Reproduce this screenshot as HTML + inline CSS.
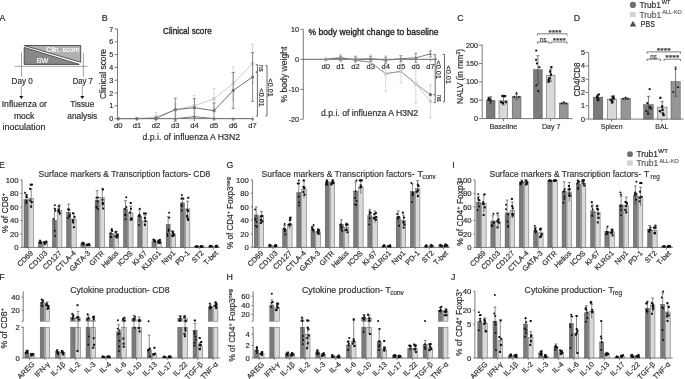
<!DOCTYPE html>
<html><head><meta charset="utf-8"><style>
html,body{margin:0;padding:0;background:#fff;}
svg{display:block;font-family:"Liberation Sans", sans-serif;filter:grayscale(100%);}
</style></head><body>
<svg width="685" height="379" viewBox="0 0 685 379">
<rect width="685" height="379" fill="#fff"/>
<text x="-0.60" y="20.90" font-size="8.8" fill="#2a2a2a" stroke="#2a2a2a" stroke-width="0.2">A</text>
<text x="101.70" y="20.80" font-size="8.8" fill="#2a2a2a" stroke="#2a2a2a" stroke-width="0.2">B</text>
<text x="457.20" y="20.90" font-size="8.8" fill="#2a2a2a" stroke="#2a2a2a" stroke-width="0.2">C</text>
<text x="573.80" y="20.90" font-size="8.8" fill="#2a2a2a" stroke="#2a2a2a" stroke-width="0.2">D</text>
<text x="-0.90" y="168.00" font-size="8.8" fill="#2a2a2a" stroke="#2a2a2a" stroke-width="0.2">E</text>
<text x="226.40" y="168.00" font-size="8.8" fill="#2a2a2a" stroke="#2a2a2a" stroke-width="0.2">G</text>
<text x="452.30" y="168.00" font-size="8.8" fill="#2a2a2a" stroke="#2a2a2a" stroke-width="0.2">I</text>
<text x="-0.80" y="279.70" font-size="8.8" fill="#2a2a2a" stroke="#2a2a2a" stroke-width="0.2">F</text>
<text x="226.50" y="279.70" font-size="8.8" fill="#2a2a2a" stroke="#2a2a2a" stroke-width="0.2">H</text>
<text x="451.00" y="279.80" font-size="8.8" fill="#2a2a2a" stroke="#2a2a2a" stroke-width="0.2">J</text>
<path d="M24.2,45.5 L80.7,45.5 L80.7,62.3 Z" fill="#b0b0b0" stroke="#333" stroke-width="0.8"/>
<path d="M24.2,47.4 L24.2,64.4 L79.3,64.4 Z" fill="#888888" stroke="#333" stroke-width="0.8"/>
<text x="79.80" y="51.80" font-size="6.6" fill="#ffffff" stroke="#ffffff" stroke-width="0.18" text-anchor="end" textLength="33.50" lengthAdjust="spacingAndGlyphs">Clin. score</text>
<text x="36.80" y="63.00" font-size="6.6" fill="#ffffff" stroke="#ffffff" stroke-width="0.18" textLength="11.50" lengthAdjust="spacingAndGlyphs">BW</text>
<line x1="14.80" y1="66.30" x2="87.60" y2="66.30" stroke="#8a8a8a" stroke-width="0.8"/>
<line x1="21.50" y1="52.60" x2="21.50" y2="76.80" stroke="#8a8a8a" stroke-width="0.8"/>
<line x1="83.40" y1="52.60" x2="83.40" y2="76.80" stroke="#8a8a8a" stroke-width="0.8"/>
<text x="11.60" y="83.80" font-size="8.3" fill="#2c2c2c" stroke="#2c2c2c" stroke-width="0.18" textLength="21.20" lengthAdjust="spacingAndGlyphs">Day 0</text>
<text x="72.70" y="83.80" font-size="8.3" fill="#2c2c2c" stroke="#2c2c2c" stroke-width="0.18" textLength="20.10" lengthAdjust="spacingAndGlyphs">Day 7</text>
<line x1="21.30" y1="86.00" x2="21.30" y2="96.50" stroke="#8a8a8a" stroke-width="0.8"/>
<path d="M19.30,95.9 L23.30,95.9 L21.30,99.0 Z" fill="#111"/>
<line x1="82.30" y1="86.00" x2="82.30" y2="96.50" stroke="#8a8a8a" stroke-width="0.8"/>
<path d="M80.30,95.9 L84.30,95.9 L82.30,99.0 Z" fill="#111"/>
<text x="1.70" y="107.40" font-size="8.3" fill="#2c2c2c" stroke="#2c2c2c" stroke-width="0.18" textLength="45.20" lengthAdjust="spacingAndGlyphs">Influenza or</text>
<text x="13.90" y="118.80" font-size="8.3" fill="#2c2c2c" stroke="#2c2c2c" stroke-width="0.18" textLength="20.50" lengthAdjust="spacingAndGlyphs">mock</text>
<text x="2.50" y="130.20" font-size="8.3" fill="#2c2c2c" stroke="#2c2c2c" stroke-width="0.18" textLength="43.00" lengthAdjust="spacingAndGlyphs">inoculation</text>
<text x="82.30" y="107.40" font-size="8.3" fill="#2c2c2c" stroke="#2c2c2c" stroke-width="0.18" text-anchor="middle">Tissue</text>
<text x="82.30" y="118.80" font-size="8.3" fill="#2c2c2c" stroke="#2c2c2c" stroke-width="0.18" text-anchor="middle">analysis</text>
<line x1="117.50" y1="28.80" x2="117.50" y2="118.60" stroke="#5a5a5a" stroke-width="0.8"/>
<line x1="114.50" y1="118.60" x2="117.50" y2="118.60" stroke="#5a5a5a" stroke-width="0.8"/>
<text x="113.30" y="121.10" font-size="7.2" fill="#2c2c2c" stroke="#2c2c2c" stroke-width="0.18" text-anchor="end">0</text>
<line x1="114.50" y1="105.80" x2="117.50" y2="105.80" stroke="#5a5a5a" stroke-width="0.8"/>
<text x="113.30" y="108.30" font-size="7.2" fill="#2c2c2c" stroke="#2c2c2c" stroke-width="0.18" text-anchor="end">1</text>
<line x1="114.50" y1="93.00" x2="117.50" y2="93.00" stroke="#5a5a5a" stroke-width="0.8"/>
<text x="113.30" y="95.50" font-size="7.2" fill="#2c2c2c" stroke="#2c2c2c" stroke-width="0.18" text-anchor="end">2</text>
<line x1="114.50" y1="80.20" x2="117.50" y2="80.20" stroke="#5a5a5a" stroke-width="0.8"/>
<text x="113.30" y="82.70" font-size="7.2" fill="#2c2c2c" stroke="#2c2c2c" stroke-width="0.18" text-anchor="end">3</text>
<line x1="114.50" y1="67.40" x2="117.50" y2="67.40" stroke="#5a5a5a" stroke-width="0.8"/>
<text x="113.30" y="69.90" font-size="7.2" fill="#2c2c2c" stroke="#2c2c2c" stroke-width="0.18" text-anchor="end">4</text>
<line x1="114.50" y1="54.60" x2="117.50" y2="54.60" stroke="#5a5a5a" stroke-width="0.8"/>
<text x="113.30" y="57.10" font-size="7.2" fill="#2c2c2c" stroke="#2c2c2c" stroke-width="0.18" text-anchor="end">5</text>
<line x1="114.50" y1="41.80" x2="117.50" y2="41.80" stroke="#5a5a5a" stroke-width="0.8"/>
<text x="113.30" y="44.30" font-size="7.2" fill="#2c2c2c" stroke="#2c2c2c" stroke-width="0.18" text-anchor="end">6</text>
<line x1="114.50" y1="29.00" x2="117.50" y2="29.00" stroke="#5a5a5a" stroke-width="0.8"/>
<text x="113.30" y="31.50" font-size="7.2" fill="#2c2c2c" stroke="#2c2c2c" stroke-width="0.18" text-anchor="end">7</text>
<text x="187.4" y="33.7" font-size="8.7" fill="#1e1e1e" stroke="#1e1e1e" stroke-width="0.32" text-anchor="middle" textLength="48.6" lengthAdjust="spacingAndGlyphs">Clinical score</text>
<text x="105.80" y="99.00" font-size="8.6" fill="#2c2c2c" stroke="#2c2c2c" stroke-width="0.18" textLength="50.00" lengthAdjust="spacingAndGlyphs" transform="rotate(-90 105.80 99.00)">Clinical score</text>
<line x1="117.50" y1="118.60" x2="253.50" y2="118.60" stroke="#5a5a5a" stroke-width="0.8"/>
<line x1="118.20" y1="118.60" x2="118.20" y2="121.10" stroke="#5a5a5a" stroke-width="0.8"/>
<text x="118.20" y="128.40" font-size="7.6" fill="#2c2c2c" stroke="#2c2c2c" stroke-width="0.18" text-anchor="middle">d0</text>
<line x1="136.90" y1="118.60" x2="136.90" y2="121.10" stroke="#5a5a5a" stroke-width="0.8"/>
<text x="136.90" y="128.40" font-size="7.6" fill="#2c2c2c" stroke="#2c2c2c" stroke-width="0.18" text-anchor="middle">d1</text>
<line x1="156.00" y1="118.60" x2="156.00" y2="121.10" stroke="#5a5a5a" stroke-width="0.8"/>
<text x="156.00" y="128.40" font-size="7.6" fill="#2c2c2c" stroke="#2c2c2c" stroke-width="0.18" text-anchor="middle">d2</text>
<line x1="175.30" y1="118.60" x2="175.30" y2="121.10" stroke="#5a5a5a" stroke-width="0.8"/>
<text x="175.30" y="128.40" font-size="7.6" fill="#2c2c2c" stroke="#2c2c2c" stroke-width="0.18" text-anchor="middle">d3</text>
<line x1="194.40" y1="118.60" x2="194.40" y2="121.10" stroke="#5a5a5a" stroke-width="0.8"/>
<text x="194.40" y="128.40" font-size="7.6" fill="#2c2c2c" stroke="#2c2c2c" stroke-width="0.18" text-anchor="middle">d4</text>
<line x1="214.00" y1="118.60" x2="214.00" y2="121.10" stroke="#5a5a5a" stroke-width="0.8"/>
<text x="214.00" y="128.40" font-size="7.6" fill="#2c2c2c" stroke="#2c2c2c" stroke-width="0.18" text-anchor="middle">d5</text>
<line x1="233.20" y1="118.60" x2="233.20" y2="121.10" stroke="#5a5a5a" stroke-width="0.8"/>
<text x="233.20" y="128.40" font-size="7.6" fill="#2c2c2c" stroke="#2c2c2c" stroke-width="0.18" text-anchor="middle">d6</text>
<line x1="252.60" y1="118.60" x2="252.60" y2="121.10" stroke="#5a5a5a" stroke-width="0.8"/>
<text x="252.60" y="128.40" font-size="7.6" fill="#2c2c2c" stroke="#2c2c2c" stroke-width="0.18" text-anchor="middle">d7</text>
<text x="191.30" y="139.70" font-size="8.8" fill="#2c2c2c" stroke="#2c2c2c" stroke-width="0.18" text-anchor="middle" textLength="97.50" lengthAdjust="spacingAndGlyphs">d.p.i. of influenza A H3N2</text>
<polyline points="118.20,118.60 136.90,118.60 156.00,118.60 175.30,118.60 194.40,116.68 214.00,118.60 233.20,118.60 252.60,118.60" fill="none" stroke="#7a7a7a" stroke-width="1.0"/>
<path d="M118.20,116.90 L119.81,119.79 L116.59,119.79 Z" fill="#7a7a7a"/>
<path d="M136.90,116.90 L138.52,119.79 L135.28,119.79 Z" fill="#7a7a7a"/>
<path d="M156.00,116.90 L157.62,119.79 L154.38,119.79 Z" fill="#7a7a7a"/>
<path d="M175.30,116.90 L176.92,119.79 L173.69,119.79 Z" fill="#7a7a7a"/>
<path d="M194.40,114.98 L196.02,117.87 L192.78,117.87 Z" fill="#7a7a7a"/>
<path d="M214.00,116.90 L215.62,119.79 L212.38,119.79 Z" fill="#7a7a7a"/>
<path d="M233.20,116.90 L234.81,119.79 L231.58,119.79 Z" fill="#7a7a7a"/>
<path d="M252.60,116.90 L254.22,119.79 L250.98,119.79 Z" fill="#7a7a7a"/>
<polyline points="118.20,118.60 136.90,118.60 156.00,117.06 175.30,109.64 194.40,105.80 214.00,98.76 233.20,83.40 252.60,63.56" fill="none" stroke="#cdcdcd" stroke-width="1.0"/>
<line x1="156.00" y1="112.58" x2="156.00" y2="121.54" stroke="#cdcdcd" stroke-width="0.8"/>
<line x1="154.40" y1="112.58" x2="157.60" y2="112.58" stroke="#cdcdcd" stroke-width="0.8"/>
<line x1="154.40" y1="121.54" x2="157.60" y2="121.54" stroke="#cdcdcd" stroke-width="0.8"/>
<line x1="175.30" y1="103.88" x2="175.30" y2="115.40" stroke="#cdcdcd" stroke-width="0.8"/>
<line x1="173.70" y1="103.88" x2="176.90" y2="103.88" stroke="#cdcdcd" stroke-width="0.8"/>
<line x1="173.70" y1="115.40" x2="176.90" y2="115.40" stroke="#cdcdcd" stroke-width="0.8"/>
<line x1="194.40" y1="95.56" x2="194.40" y2="116.04" stroke="#cdcdcd" stroke-width="0.8"/>
<line x1="192.80" y1="95.56" x2="196.00" y2="95.56" stroke="#cdcdcd" stroke-width="0.8"/>
<line x1="192.80" y1="116.04" x2="196.00" y2="116.04" stroke="#cdcdcd" stroke-width="0.8"/>
<line x1="214.00" y1="88.52" x2="214.00" y2="109.00" stroke="#cdcdcd" stroke-width="0.8"/>
<line x1="212.40" y1="88.52" x2="215.60" y2="88.52" stroke="#cdcdcd" stroke-width="0.8"/>
<line x1="212.40" y1="109.00" x2="215.60" y2="109.00" stroke="#cdcdcd" stroke-width="0.8"/>
<line x1="233.20" y1="66.76" x2="233.20" y2="100.04" stroke="#cdcdcd" stroke-width="0.8"/>
<line x1="231.60" y1="66.76" x2="234.80" y2="66.76" stroke="#cdcdcd" stroke-width="0.8"/>
<line x1="231.60" y1="100.04" x2="234.80" y2="100.04" stroke="#cdcdcd" stroke-width="0.8"/>
<line x1="252.60" y1="44.36" x2="252.60" y2="82.76" stroke="#cdcdcd" stroke-width="0.8"/>
<line x1="251.00" y1="44.36" x2="254.20" y2="44.36" stroke="#cdcdcd" stroke-width="0.8"/>
<line x1="251.00" y1="82.76" x2="254.20" y2="82.76" stroke="#cdcdcd" stroke-width="0.8"/>
<rect x="116.60" y="117.00" width="3.20" height="3.20" fill="#cdcdcd"/>
<rect x="135.30" y="117.00" width="3.20" height="3.20" fill="#cdcdcd"/>
<rect x="154.40" y="115.46" width="3.20" height="3.20" fill="#cdcdcd"/>
<rect x="173.70" y="108.04" width="3.20" height="3.20" fill="#cdcdcd"/>
<rect x="192.80" y="104.20" width="3.20" height="3.20" fill="#cdcdcd"/>
<rect x="212.40" y="97.16" width="3.20" height="3.20" fill="#cdcdcd"/>
<rect x="231.60" y="81.80" width="3.20" height="3.20" fill="#cdcdcd"/>
<rect x="251.00" y="61.96" width="3.20" height="3.20" fill="#cdcdcd"/>
<polyline points="118.20,118.60 136.90,118.60 156.00,118.34 175.30,109.64 194.40,107.72 214.00,110.66 233.20,90.44 252.60,77.00" fill="none" stroke="#727272" stroke-width="1.0"/>
<line x1="156.00" y1="117.06" x2="156.00" y2="119.62" stroke="#727272" stroke-width="0.8"/>
<line x1="154.40" y1="117.06" x2="157.60" y2="117.06" stroke="#727272" stroke-width="0.8"/>
<line x1="154.40" y1="119.62" x2="157.60" y2="119.62" stroke="#727272" stroke-width="0.8"/>
<line x1="175.30" y1="98.12" x2="175.30" y2="121.16" stroke="#727272" stroke-width="0.8"/>
<line x1="173.70" y1="98.12" x2="176.90" y2="98.12" stroke="#727272" stroke-width="0.8"/>
<line x1="173.70" y1="121.16" x2="176.90" y2="121.16" stroke="#727272" stroke-width="0.8"/>
<line x1="194.40" y1="98.76" x2="194.40" y2="116.68" stroke="#727272" stroke-width="0.8"/>
<line x1="192.80" y1="98.76" x2="196.00" y2="98.76" stroke="#727272" stroke-width="0.8"/>
<line x1="192.80" y1="116.68" x2="196.00" y2="116.68" stroke="#727272" stroke-width="0.8"/>
<line x1="214.00" y1="102.98" x2="214.00" y2="118.34" stroke="#727272" stroke-width="0.8"/>
<line x1="212.40" y1="102.98" x2="215.60" y2="102.98" stroke="#727272" stroke-width="0.8"/>
<line x1="212.40" y1="118.34" x2="215.60" y2="118.34" stroke="#727272" stroke-width="0.8"/>
<line x1="233.20" y1="72.52" x2="233.20" y2="108.36" stroke="#727272" stroke-width="0.8"/>
<line x1="231.60" y1="72.52" x2="234.80" y2="72.52" stroke="#727272" stroke-width="0.8"/>
<line x1="231.60" y1="108.36" x2="234.80" y2="108.36" stroke="#727272" stroke-width="0.8"/>
<line x1="252.60" y1="52.68" x2="252.60" y2="101.32" stroke="#727272" stroke-width="0.8"/>
<line x1="251.00" y1="52.68" x2="254.20" y2="52.68" stroke="#727272" stroke-width="0.8"/>
<line x1="251.00" y1="101.32" x2="254.20" y2="101.32" stroke="#727272" stroke-width="0.8"/>
<circle cx="118.20" cy="118.60" r="1.60" fill="#727272"/>
<circle cx="136.90" cy="118.60" r="1.60" fill="#727272"/>
<circle cx="156.00" cy="118.34" r="1.60" fill="#727272"/>
<circle cx="175.30" cy="109.64" r="1.60" fill="#727272"/>
<circle cx="194.40" cy="107.72" r="1.60" fill="#727272"/>
<circle cx="214.00" cy="110.66" r="1.60" fill="#727272"/>
<circle cx="233.20" cy="90.44" r="1.60" fill="#727272"/>
<circle cx="252.60" cy="77.00" r="1.60" fill="#727272"/>
<line x1="257.40" y1="64.70" x2="257.40" y2="71.80" stroke="#444" stroke-width="0.8"/>
<line x1="255.80" y1="64.70" x2="257.40" y2="64.70" stroke="#444" stroke-width="0.8"/>
<line x1="255.80" y1="71.80" x2="257.40" y2="71.80" stroke="#444" stroke-width="0.8"/>
<line x1="257.40" y1="72.60" x2="257.40" y2="116.00" stroke="#444" stroke-width="0.8"/>
<line x1="255.80" y1="72.60" x2="257.40" y2="72.60" stroke="#444" stroke-width="0.8"/>
<line x1="255.80" y1="116.00" x2="257.40" y2="116.00" stroke="#444" stroke-width="0.8"/>
<line x1="267.00" y1="65.50" x2="267.00" y2="116.00" stroke="#444" stroke-width="0.8"/>
<line x1="265.40" y1="65.50" x2="267.00" y2="65.50" stroke="#444" stroke-width="0.8"/>
<line x1="265.40" y1="116.00" x2="267.00" y2="116.00" stroke="#444" stroke-width="0.8"/>
<text x="259.00" y="65.00" font-size="7.8" fill="#2c2c2c" stroke="#2c2c2c" stroke-width="0.18" textLength="6.60" lengthAdjust="spacingAndGlyphs" transform="rotate(90 259.00 65.00)">ns</text>
<text x="258.70" y="88.40" font-size="6.8" fill="#2c2c2c" stroke="#2c2c2c" stroke-width="0.18" textLength="18.50" lengthAdjust="spacingAndGlyphs" transform="rotate(90 258.70 88.40)">&lt;0.01</text>
<text x="268.20" y="78.60" font-size="6.8" fill="#2c2c2c" stroke="#2c2c2c" stroke-width="0.18" textLength="18.00" lengthAdjust="spacingAndGlyphs" transform="rotate(90 268.20 78.60)">&lt;0.01</text>
<line x1="303.30" y1="29.30" x2="303.30" y2="119.20" stroke="#5a5a5a" stroke-width="0.8"/>
<line x1="300.30" y1="29.30" x2="303.30" y2="29.30" stroke="#5a5a5a" stroke-width="0.8"/>
<text x="299.10" y="31.80" font-size="7.2" fill="#2c2c2c" stroke="#2c2c2c" stroke-width="0.18" text-anchor="end">10</text>
<line x1="300.30" y1="59.30" x2="303.30" y2="59.30" stroke="#5a5a5a" stroke-width="0.8"/>
<text x="299.10" y="61.80" font-size="7.2" fill="#2c2c2c" stroke="#2c2c2c" stroke-width="0.18" text-anchor="end">0</text>
<line x1="300.30" y1="89.30" x2="303.30" y2="89.30" stroke="#5a5a5a" stroke-width="0.8"/>
<text x="299.10" y="91.80" font-size="7.2" fill="#2c2c2c" stroke="#2c2c2c" stroke-width="0.18" text-anchor="end">-10</text>
<line x1="300.30" y1="119.30" x2="303.30" y2="119.30" stroke="#5a5a5a" stroke-width="0.8"/>
<text x="299.10" y="121.80" font-size="7.2" fill="#2c2c2c" stroke="#2c2c2c" stroke-width="0.18" text-anchor="end">-20</text>
<text x="308.5" y="34.5" font-size="8.7" fill="#1e1e1e" stroke="#1e1e1e" stroke-width="0.32" textLength="130" lengthAdjust="spacingAndGlyphs">% body weight change to baseline</text>
<text x="287.20" y="102.50" font-size="8.6" fill="#2c2c2c" stroke="#2c2c2c" stroke-width="0.18" textLength="56.00" lengthAdjust="spacingAndGlyphs" transform="rotate(-90 287.20 102.50)">% body weight</text>
<line x1="303.30" y1="59.30" x2="437.00" y2="59.30" stroke="#555" stroke-width="0.9"/>
<line x1="325.70" y1="59.30" x2="325.70" y2="61.30" stroke="#5a5a5a" stroke-width="0.8"/>
<text x="325.70" y="69.20" font-size="7.6" fill="#2c2c2c" stroke="#2c2c2c" stroke-width="0.18" text-anchor="middle">d0</text>
<line x1="340.60" y1="59.30" x2="340.60" y2="61.30" stroke="#5a5a5a" stroke-width="0.8"/>
<text x="340.60" y="69.20" font-size="7.6" fill="#2c2c2c" stroke="#2c2c2c" stroke-width="0.18" text-anchor="middle">d1</text>
<line x1="355.50" y1="59.30" x2="355.50" y2="61.30" stroke="#5a5a5a" stroke-width="0.8"/>
<text x="355.50" y="69.20" font-size="7.6" fill="#2c2c2c" stroke="#2c2c2c" stroke-width="0.18" text-anchor="middle">d2</text>
<line x1="370.70" y1="59.30" x2="370.70" y2="61.30" stroke="#5a5a5a" stroke-width="0.8"/>
<text x="370.70" y="69.20" font-size="7.6" fill="#2c2c2c" stroke="#2c2c2c" stroke-width="0.18" text-anchor="middle">d3</text>
<line x1="385.70" y1="59.30" x2="385.70" y2="61.30" stroke="#5a5a5a" stroke-width="0.8"/>
<text x="385.70" y="69.20" font-size="7.6" fill="#2c2c2c" stroke="#2c2c2c" stroke-width="0.18" text-anchor="middle">d4</text>
<line x1="400.90" y1="59.30" x2="400.90" y2="61.30" stroke="#5a5a5a" stroke-width="0.8"/>
<text x="400.90" y="69.20" font-size="7.6" fill="#2c2c2c" stroke="#2c2c2c" stroke-width="0.18" text-anchor="middle">d5</text>
<line x1="415.80" y1="59.30" x2="415.80" y2="61.30" stroke="#5a5a5a" stroke-width="0.8"/>
<text x="415.80" y="69.20" font-size="7.6" fill="#2c2c2c" stroke="#2c2c2c" stroke-width="0.18" text-anchor="middle">d6</text>
<line x1="430.40" y1="59.30" x2="430.40" y2="61.30" stroke="#5a5a5a" stroke-width="0.8"/>
<text x="430.40" y="69.20" font-size="7.6" fill="#2c2c2c" stroke="#2c2c2c" stroke-width="0.18" text-anchor="middle">d7</text>
<text x="369.60" y="115.80" font-size="8.8" fill="#2c2c2c" stroke="#2c2c2c" stroke-width="0.18" text-anchor="middle" textLength="97.20" lengthAdjust="spacingAndGlyphs">d.p.i. of influenza A H3N2</text>
<polyline points="325.70,59.30 340.60,57.50 355.50,60.20 370.70,62.30 385.70,73.70 400.90,71.30 415.80,83.90 430.40,101.30" fill="none" stroke="#cfcfcf" stroke-width="1.0"/>
<line x1="340.60" y1="53.90" x2="340.60" y2="61.10" stroke="#cfcfcf" stroke-width="0.8"/>
<line x1="339.00" y1="53.90" x2="342.20" y2="53.90" stroke="#cfcfcf" stroke-width="0.8"/>
<line x1="339.00" y1="61.10" x2="342.20" y2="61.10" stroke="#cfcfcf" stroke-width="0.8"/>
<line x1="355.50" y1="55.70" x2="355.50" y2="64.70" stroke="#cfcfcf" stroke-width="0.8"/>
<line x1="353.90" y1="55.70" x2="357.10" y2="55.70" stroke="#cfcfcf" stroke-width="0.8"/>
<line x1="353.90" y1="64.70" x2="357.10" y2="64.70" stroke="#cfcfcf" stroke-width="0.8"/>
<line x1="370.70" y1="54.80" x2="370.70" y2="69.80" stroke="#cfcfcf" stroke-width="0.8"/>
<line x1="369.10" y1="54.80" x2="372.30" y2="54.80" stroke="#cfcfcf" stroke-width="0.8"/>
<line x1="369.10" y1="69.80" x2="372.30" y2="69.80" stroke="#cfcfcf" stroke-width="0.8"/>
<line x1="385.70" y1="55.70" x2="385.70" y2="91.70" stroke="#cfcfcf" stroke-width="0.8"/>
<line x1="384.10" y1="55.70" x2="387.30" y2="55.70" stroke="#cfcfcf" stroke-width="0.8"/>
<line x1="384.10" y1="91.70" x2="387.30" y2="91.70" stroke="#cfcfcf" stroke-width="0.8"/>
<line x1="400.90" y1="59.30" x2="400.90" y2="83.30" stroke="#cfcfcf" stroke-width="0.8"/>
<line x1="399.30" y1="59.30" x2="402.50" y2="59.30" stroke="#cfcfcf" stroke-width="0.8"/>
<line x1="399.30" y1="83.30" x2="402.50" y2="83.30" stroke="#cfcfcf" stroke-width="0.8"/>
<line x1="415.80" y1="64.40" x2="415.80" y2="103.40" stroke="#cfcfcf" stroke-width="0.8"/>
<line x1="414.20" y1="64.40" x2="417.40" y2="64.40" stroke="#cfcfcf" stroke-width="0.8"/>
<line x1="414.20" y1="103.40" x2="417.40" y2="103.40" stroke="#cfcfcf" stroke-width="0.8"/>
<line x1="430.40" y1="84.80" x2="430.40" y2="117.80" stroke="#cfcfcf" stroke-width="0.8"/>
<line x1="428.80" y1="84.80" x2="432.00" y2="84.80" stroke="#cfcfcf" stroke-width="0.8"/>
<line x1="428.80" y1="117.80" x2="432.00" y2="117.80" stroke="#cfcfcf" stroke-width="0.8"/>
<rect x="324.10" y="57.70" width="3.20" height="3.20" fill="#cfcfcf"/>
<rect x="339.00" y="55.90" width="3.20" height="3.20" fill="#cfcfcf"/>
<rect x="353.90" y="58.60" width="3.20" height="3.20" fill="#cfcfcf"/>
<rect x="369.10" y="60.70" width="3.20" height="3.20" fill="#cfcfcf"/>
<rect x="384.10" y="72.10" width="3.20" height="3.20" fill="#cfcfcf"/>
<rect x="399.30" y="69.70" width="3.20" height="3.20" fill="#cfcfcf"/>
<rect x="414.20" y="82.30" width="3.20" height="3.20" fill="#cfcfcf"/>
<rect x="428.80" y="99.70" width="3.20" height="3.20" fill="#cfcfcf"/>
<polyline points="325.70,59.30 340.60,57.50 355.50,60.20 370.70,62.30 385.70,73.70 400.90,71.30 415.80,83.90 430.40,94.70" fill="none" stroke="#8a8a8a" stroke-width="0.9"/>
<rect x="324.10" y="57.70" width="3.20" height="3.20" fill="#cfcfcf"/>
<rect x="339.00" y="55.90" width="3.20" height="3.20" fill="#cfcfcf"/>
<rect x="353.90" y="58.60" width="3.20" height="3.20" fill="#cfcfcf"/>
<rect x="369.10" y="60.70" width="3.20" height="3.20" fill="#cfcfcf"/>
<rect x="384.10" y="72.10" width="3.20" height="3.20" fill="#cfcfcf"/>
<rect x="399.30" y="69.70" width="3.20" height="3.20" fill="#cfcfcf"/>
<rect x="414.20" y="82.30" width="3.20" height="3.20" fill="#cfcfcf"/>
<circle cx="430.40" cy="94.70" r="1.60" fill="#6a6a6a"/>
<polyline points="325.70,59.30 340.60,58.40 355.50,59.30 370.70,58.70 385.70,60.20 400.90,58.70 415.80,57.80 430.40,53.90" fill="none" stroke="#7a7a7a" stroke-width="1.0"/>
<line x1="340.60" y1="56.00" x2="340.60" y2="60.80" stroke="#7a7a7a" stroke-width="0.8"/>
<line x1="339.00" y1="56.00" x2="342.20" y2="56.00" stroke="#7a7a7a" stroke-width="0.8"/>
<line x1="339.00" y1="60.80" x2="342.20" y2="60.80" stroke="#7a7a7a" stroke-width="0.8"/>
<line x1="355.50" y1="56.90" x2="355.50" y2="61.70" stroke="#7a7a7a" stroke-width="0.8"/>
<line x1="353.90" y1="56.90" x2="357.10" y2="56.90" stroke="#7a7a7a" stroke-width="0.8"/>
<line x1="353.90" y1="61.70" x2="357.10" y2="61.70" stroke="#7a7a7a" stroke-width="0.8"/>
<line x1="370.70" y1="56.30" x2="370.70" y2="61.10" stroke="#7a7a7a" stroke-width="0.8"/>
<line x1="369.10" y1="56.30" x2="372.30" y2="56.30" stroke="#7a7a7a" stroke-width="0.8"/>
<line x1="369.10" y1="61.10" x2="372.30" y2="61.10" stroke="#7a7a7a" stroke-width="0.8"/>
<line x1="385.70" y1="57.20" x2="385.70" y2="63.20" stroke="#7a7a7a" stroke-width="0.8"/>
<line x1="384.10" y1="57.20" x2="387.30" y2="57.20" stroke="#7a7a7a" stroke-width="0.8"/>
<line x1="384.10" y1="63.20" x2="387.30" y2="63.20" stroke="#7a7a7a" stroke-width="0.8"/>
<line x1="400.90" y1="55.70" x2="400.90" y2="61.70" stroke="#7a7a7a" stroke-width="0.8"/>
<line x1="399.30" y1="55.70" x2="402.50" y2="55.70" stroke="#7a7a7a" stroke-width="0.8"/>
<line x1="399.30" y1="61.70" x2="402.50" y2="61.70" stroke="#7a7a7a" stroke-width="0.8"/>
<line x1="415.80" y1="53.30" x2="415.80" y2="62.30" stroke="#7a7a7a" stroke-width="0.8"/>
<line x1="414.20" y1="53.30" x2="417.40" y2="53.30" stroke="#7a7a7a" stroke-width="0.8"/>
<line x1="414.20" y1="62.30" x2="417.40" y2="62.30" stroke="#7a7a7a" stroke-width="0.8"/>
<line x1="430.40" y1="50.90" x2="430.40" y2="56.90" stroke="#7a7a7a" stroke-width="0.8"/>
<line x1="428.80" y1="50.90" x2="432.00" y2="50.90" stroke="#7a7a7a" stroke-width="0.8"/>
<line x1="428.80" y1="56.90" x2="432.00" y2="56.90" stroke="#7a7a7a" stroke-width="0.8"/>
<path d="M325.70,57.60 L327.31,60.49 L324.08,60.49 Z" fill="#7a7a7a"/>
<path d="M340.60,56.70 L342.22,59.59 L338.99,59.59 Z" fill="#7a7a7a"/>
<path d="M355.50,57.60 L357.12,60.49 L353.88,60.49 Z" fill="#7a7a7a"/>
<path d="M370.70,57.00 L372.31,59.89 L369.08,59.89 Z" fill="#7a7a7a"/>
<path d="M385.70,58.50 L387.31,61.39 L384.08,61.39 Z" fill="#7a7a7a"/>
<path d="M400.90,57.00 L402.51,59.89 L399.28,59.89 Z" fill="#7a7a7a"/>
<path d="M415.80,56.10 L417.42,58.99 L414.19,58.99 Z" fill="#7a7a7a"/>
<path d="M430.40,52.20 L432.01,55.09 L428.78,55.09 Z" fill="#7a7a7a"/>
<line x1="435.20" y1="54.40" x2="435.20" y2="102.50" stroke="#444" stroke-width="0.8"/>
<line x1="433.50" y1="54.40" x2="435.20" y2="54.40" stroke="#444" stroke-width="0.8"/>
<line x1="433.50" y1="94.70" x2="435.20" y2="94.70" stroke="#444" stroke-width="0.8"/>
<line x1="433.50" y1="102.50" x2="435.20" y2="102.50" stroke="#444" stroke-width="0.8"/>
<text x="436.40" y="60.40" font-size="7.2" fill="#2c2c2c" stroke="#2c2c2c" stroke-width="0.18" textLength="18.60" lengthAdjust="spacingAndGlyphs" transform="rotate(90 436.40 60.40)">&lt;0.01</text>
<text x="436.60" y="95.00" font-size="7.8" fill="#2c2c2c" stroke="#2c2c2c" stroke-width="0.18" textLength="6.80" lengthAdjust="spacingAndGlyphs" transform="rotate(90 436.60 95.00)">ns</text>
<line x1="444.50" y1="54.40" x2="444.50" y2="101.80" stroke="#444" stroke-width="0.8"/>
<line x1="442.80" y1="54.40" x2="444.50" y2="54.40" stroke="#444" stroke-width="0.8"/>
<line x1="442.80" y1="101.80" x2="444.50" y2="101.80" stroke="#444" stroke-width="0.8"/>
<text x="446.10" y="65.40" font-size="7.2" fill="#2c2c2c" stroke="#2c2c2c" stroke-width="0.18" textLength="18.60" lengthAdjust="spacingAndGlyphs" transform="rotate(90 446.10 65.40)">&lt;0.01</text>
<circle cx="632.90" cy="4.90" r="3.10" fill="#6e6e6e"/>
<text x="639.40" y="7.90" font-size="8.5" fill="#2c2c2c" stroke="#2c2c2c" stroke-width="0.18" textLength="21.50" lengthAdjust="spacingAndGlyphs">Trub1</text>
<text x="661.80" y="4.40" font-size="6.0" fill="#2c2c2c" stroke="#2c2c2c" stroke-width="0.18" textLength="8.70" lengthAdjust="spacingAndGlyphs">WT</text>
<rect x="629.80" y="11.80" width="5.90" height="5.30" fill="#d4d4d4"/>
<text x="639.40" y="17.50" font-size="8.5" fill="#5a5a5a" stroke="#5a5a5a" stroke-width="0.18" textLength="21.90" lengthAdjust="spacingAndGlyphs">Trub1</text>
<text x="662.20" y="14.40" font-size="6.0" fill="#5a5a5a" stroke="#5a5a5a" stroke-width="0.18" textLength="19.70" lengthAdjust="spacingAndGlyphs">ALL-KO</text>
<path d="M633.0,20.8 L636.2,26.4 L629.8,26.4 Z" fill="#4a4a4a"/>
<text x="640.80" y="26.70" font-size="8.5" fill="#2c2c2c" stroke="#2c2c2c" stroke-width="0.18" textLength="14.00" lengthAdjust="spacingAndGlyphs">PBS</text>
<line x1="482.20" y1="44.70" x2="482.20" y2="118.60" stroke="#5a5a5a" stroke-width="0.8"/>
<line x1="478.80" y1="118.60" x2="482.20" y2="118.60" stroke="#5a5a5a" stroke-width="0.8"/>
<text x="478.00" y="121.10" font-size="7.2" fill="#2c2c2c" stroke="#2c2c2c" stroke-width="0.18" text-anchor="end">0</text>
<line x1="478.80" y1="100.22" x2="482.20" y2="100.22" stroke="#5a5a5a" stroke-width="0.8"/>
<text x="478.00" y="102.72" font-size="7.2" fill="#2c2c2c" stroke="#2c2c2c" stroke-width="0.18" text-anchor="end">50</text>
<line x1="478.80" y1="81.85" x2="482.20" y2="81.85" stroke="#5a5a5a" stroke-width="0.8"/>
<text x="478.00" y="84.35" font-size="7.2" fill="#2c2c2c" stroke="#2c2c2c" stroke-width="0.18" text-anchor="end">100</text>
<line x1="478.80" y1="63.47" x2="482.20" y2="63.47" stroke="#5a5a5a" stroke-width="0.8"/>
<text x="478.00" y="65.97" font-size="7.2" fill="#2c2c2c" stroke="#2c2c2c" stroke-width="0.18" text-anchor="end">150</text>
<line x1="478.80" y1="45.10" x2="482.20" y2="45.10" stroke="#5a5a5a" stroke-width="0.8"/>
<text x="478.00" y="47.60" font-size="7.2" fill="#2c2c2c" stroke="#2c2c2c" stroke-width="0.18" text-anchor="end">200</text>
<line x1="482.20" y1="118.60" x2="572.50" y2="118.60" stroke="#5a5a5a" stroke-width="0.8"/>
<line x1="503.50" y1="118.60" x2="503.50" y2="121.20" stroke="#5a5a5a" stroke-width="0.8"/>
<line x1="550.50" y1="118.60" x2="550.50" y2="121.20" stroke="#5a5a5a" stroke-width="0.8"/>
<text x="503.40" y="128.90" font-size="7.6" fill="#2c2c2c" stroke="#2c2c2c" stroke-width="0.18" text-anchor="middle" textLength="28.00" lengthAdjust="spacingAndGlyphs">Baseline</text>
<text x="551.20" y="128.90" font-size="7.6" fill="#2c2c2c" stroke="#2c2c2c" stroke-width="0.18" text-anchor="middle" textLength="18.50" lengthAdjust="spacingAndGlyphs">Day 7</text>
<text x="462.60" y="104.00" font-size="8.4" fill="#2c2c2c" stroke="#2c2c2c" stroke-width="0.18" transform="rotate(-90 462.60 104.00)">NALV (in mm<tspan font-size="5.6" dy="-3">3</tspan><tspan dy="3">)</tspan></text>
<rect x="486.40" y="100.22" width="8.60" height="18.38" fill="#7b7b7b" stroke="#4d4d4d" stroke-width="0.5"/>
<line x1="490.70" y1="96.72" x2="490.70" y2="103.72" stroke="#444" stroke-width="0.7"/>
<line x1="489.20" y1="96.72" x2="492.20" y2="96.72" stroke="#444" stroke-width="0.7"/>
<line x1="489.20" y1="103.72" x2="492.20" y2="103.72" stroke="#444" stroke-width="0.7"/>
<circle cx="488.61" cy="99.60" r="1.10" fill="#111"/>
<circle cx="490.74" cy="101.48" r="1.10" fill="#111"/>
<circle cx="488.51" cy="99.67" r="1.10" fill="#111"/>
<circle cx="490.39" cy="99.45" r="1.10" fill="#111"/>
<circle cx="488.67" cy="97.95" r="1.10" fill="#111"/>
<circle cx="488.76" cy="99.70" r="1.10" fill="#111"/>
<rect x="499.00" y="100.78" width="8.80" height="17.82" fill="#d9d9d9" stroke="#4d4d4d" stroke-width="0.5"/>
<line x1="503.40" y1="96.78" x2="503.40" y2="104.78" stroke="#444" stroke-width="0.7"/>
<line x1="501.90" y1="96.78" x2="504.90" y2="96.78" stroke="#444" stroke-width="0.7"/>
<line x1="501.90" y1="104.78" x2="504.90" y2="104.78" stroke="#444" stroke-width="0.7"/>
<rect x="502.67" y="95.01" width="2.20" height="2.20" fill="#111"/>
<rect x="501.80" y="102.07" width="2.20" height="2.20" fill="#111"/>
<rect x="504.61" y="101.09" width="2.20" height="2.20" fill="#111"/>
<rect x="500.11" y="101.07" width="2.20" height="2.20" fill="#111"/>
<rect x="504.03" y="94.94" width="2.20" height="2.20" fill="#111"/>
<rect x="501.28" y="94.79" width="2.20" height="2.20" fill="#111"/>
<rect x="512.20" y="96.55" width="8.80" height="22.05" fill="#969696" stroke="#4d4d4d" stroke-width="0.5"/>
<line x1="516.60" y1="94.05" x2="516.60" y2="99.05" stroke="#444" stroke-width="0.7"/>
<line x1="515.10" y1="94.05" x2="518.10" y2="94.05" stroke="#444" stroke-width="0.7"/>
<line x1="515.10" y1="99.05" x2="518.10" y2="99.05" stroke="#444" stroke-width="0.7"/>
<path d="M514.20,95.60 L515.45,97.84 L512.95,97.84 Z" fill="#111"/>
<path d="M516.60,91.56 L517.85,93.80 L515.35,93.80 Z" fill="#111"/>
<path d="M519.00,95.60 L520.25,97.84 L517.75,97.84 Z" fill="#111"/>
<rect x="533.60" y="69.72" width="8.60" height="48.88" fill="#7b7b7b" stroke="#4d4d4d" stroke-width="0.5"/>
<line x1="537.90" y1="55.72" x2="537.90" y2="83.72" stroke="#444" stroke-width="0.7"/>
<line x1="536.40" y1="55.72" x2="539.40" y2="55.72" stroke="#444" stroke-width="0.7"/>
<line x1="536.40" y1="83.72" x2="539.40" y2="83.72" stroke="#444" stroke-width="0.7"/>
<circle cx="536.22" cy="50.61" r="1.10" fill="#111"/>
<circle cx="536.09" cy="59.80" r="1.10" fill="#111"/>
<circle cx="536.99" cy="63.47" r="1.10" fill="#111"/>
<circle cx="539.40" cy="67.15" r="1.10" fill="#111"/>
<circle cx="536.39" cy="85.52" r="1.10" fill="#111"/>
<circle cx="538.29" cy="91.04" r="1.10" fill="#111"/>
<rect x="546.40" y="75.23" width="8.60" height="43.37" fill="#d9d9d9" stroke="#4d4d4d" stroke-width="0.5"/>
<line x1="550.70" y1="69.23" x2="550.70" y2="81.23" stroke="#444" stroke-width="0.7"/>
<line x1="549.20" y1="69.23" x2="552.20" y2="69.23" stroke="#444" stroke-width="0.7"/>
<line x1="549.20" y1="81.23" x2="552.20" y2="81.23" stroke="#444" stroke-width="0.7"/>
<rect x="550.26" y="66.05" width="2.20" height="2.20" fill="#111"/>
<rect x="549.00" y="70.46" width="2.20" height="2.20" fill="#111"/>
<rect x="549.83" y="73.40" width="2.20" height="2.20" fill="#111"/>
<rect x="547.53" y="78.91" width="2.20" height="2.20" fill="#111"/>
<rect x="547.52" y="80.75" width="2.20" height="2.20" fill="#111"/>
<rect x="548.21" y="77.08" width="2.20" height="2.20" fill="#111"/>
<rect x="559.40" y="103.16" width="8.70" height="15.44" fill="#969696" stroke="#4d4d4d" stroke-width="0.5"/>
<line x1="563.75" y1="102.56" x2="563.75" y2="103.76" stroke="#444" stroke-width="0.7"/>
<line x1="562.25" y1="102.56" x2="565.25" y2="102.56" stroke="#444" stroke-width="0.7"/>
<line x1="562.25" y1="103.76" x2="565.25" y2="103.76" stroke="#444" stroke-width="0.7"/>
<path d="M561.35,102.03 L562.60,104.27 L560.10,104.27 Z" fill="#111"/>
<path d="M563.75,100.74 L565.00,102.99 L562.50,102.99 Z" fill="#111"/>
<path d="M566.15,102.03 L567.40,104.27 L564.90,104.27 Z" fill="#111"/>
<line x1="537.40" y1="33.80" x2="567.00" y2="33.80" stroke="#444" stroke-width="0.7"/>
<line x1="537.40" y1="33.80" x2="537.40" y2="35.60" stroke="#444" stroke-width="0.7"/>
<line x1="567.00" y1="33.80" x2="567.00" y2="35.60" stroke="#444" stroke-width="0.7"/>
<text x="555.00" y="34.60" font-size="6.6" fill="#2c2c2c" stroke="#2c2c2c" stroke-width="0.18" text-anchor="middle" textLength="13.00" lengthAdjust="spacingAndGlyphs">****</text>
<line x1="537.40" y1="42.00" x2="549.20" y2="42.00" stroke="#444" stroke-width="0.7"/>
<line x1="537.40" y1="42.00" x2="537.40" y2="43.80" stroke="#444" stroke-width="0.7"/>
<line x1="549.20" y1="42.00" x2="549.20" y2="43.80" stroke="#444" stroke-width="0.7"/>
<line x1="551.20" y1="42.00" x2="567.00" y2="42.00" stroke="#444" stroke-width="0.7"/>
<line x1="551.20" y1="42.00" x2="551.20" y2="43.80" stroke="#444" stroke-width="0.7"/>
<line x1="567.00" y1="42.00" x2="567.00" y2="43.80" stroke="#444" stroke-width="0.7"/>
<text x="543.30" y="41.60" font-size="6.8" fill="#2c2c2c" stroke="#2c2c2c" stroke-width="0.18" text-anchor="middle" textLength="6.50" lengthAdjust="spacingAndGlyphs">ns</text>
<text x="559.20" y="42.80" font-size="6.6" fill="#2c2c2c" stroke="#2c2c2c" stroke-width="0.18" text-anchor="middle" textLength="13.00" lengthAdjust="spacingAndGlyphs">****</text>
<line x1="588.70" y1="52.60" x2="588.70" y2="119.10" stroke="#5a5a5a" stroke-width="0.8"/>
<line x1="585.50" y1="119.10" x2="588.70" y2="119.10" stroke="#5a5a5a" stroke-width="0.8"/>
<text x="584.90" y="121.60" font-size="7.2" fill="#2c2c2c" stroke="#2c2c2c" stroke-width="0.18" text-anchor="end">0</text>
<line x1="585.50" y1="105.80" x2="588.70" y2="105.80" stroke="#5a5a5a" stroke-width="0.8"/>
<text x="584.90" y="108.30" font-size="7.2" fill="#2c2c2c" stroke="#2c2c2c" stroke-width="0.18" text-anchor="end">1</text>
<line x1="585.50" y1="92.50" x2="588.70" y2="92.50" stroke="#5a5a5a" stroke-width="0.8"/>
<text x="584.90" y="95.00" font-size="7.2" fill="#2c2c2c" stroke="#2c2c2c" stroke-width="0.18" text-anchor="end">2</text>
<line x1="585.50" y1="79.20" x2="588.70" y2="79.20" stroke="#5a5a5a" stroke-width="0.8"/>
<text x="584.90" y="81.70" font-size="7.2" fill="#2c2c2c" stroke="#2c2c2c" stroke-width="0.18" text-anchor="end">3</text>
<line x1="585.50" y1="65.90" x2="588.70" y2="65.90" stroke="#5a5a5a" stroke-width="0.8"/>
<text x="584.90" y="68.40" font-size="7.2" fill="#2c2c2c" stroke="#2c2c2c" stroke-width="0.18" text-anchor="end">4</text>
<line x1="585.50" y1="52.60" x2="588.70" y2="52.60" stroke="#5a5a5a" stroke-width="0.8"/>
<text x="584.90" y="55.10" font-size="7.2" fill="#2c2c2c" stroke="#2c2c2c" stroke-width="0.18" text-anchor="end">5</text>
<line x1="588.70" y1="119.10" x2="683.50" y2="119.10" stroke="#5a5a5a" stroke-width="0.8"/>
<line x1="611.70" y1="119.10" x2="611.70" y2="121.70" stroke="#5a5a5a" stroke-width="0.8"/>
<line x1="661.80" y1="119.10" x2="661.80" y2="121.70" stroke="#5a5a5a" stroke-width="0.8"/>
<text x="611.70" y="128.90" font-size="7.6" fill="#2c2c2c" stroke="#2c2c2c" stroke-width="0.18" text-anchor="middle" textLength="22.00" lengthAdjust="spacingAndGlyphs">Spleen</text>
<text x="661.80" y="128.90" font-size="7.6" fill="#2c2c2c" stroke="#2c2c2c" stroke-width="0.18" text-anchor="middle" textLength="13.00" lengthAdjust="spacingAndGlyphs">BAL</text>
<text x="579.60" y="96.50" font-size="8.6" fill="#2c2c2c" stroke="#2c2c2c" stroke-width="0.18" textLength="34.00" lengthAdjust="spacingAndGlyphs" transform="rotate(-90 579.60 96.50)">CD4/CD8</text>
<rect x="593.30" y="97.16" width="9.50" height="21.94" fill="#7b7b7b" stroke="#4d4d4d" stroke-width="0.5"/>
<line x1="598.05" y1="94.16" x2="598.05" y2="100.16" stroke="#444" stroke-width="0.7"/>
<line x1="596.55" y1="94.16" x2="599.55" y2="94.16" stroke="#444" stroke-width="0.7"/>
<line x1="596.55" y1="100.16" x2="599.55" y2="100.16" stroke="#444" stroke-width="0.7"/>
<circle cx="598.99" cy="94.49" r="1.10" fill="#111"/>
<circle cx="597.67" cy="95.82" r="1.10" fill="#111"/>
<circle cx="597.08" cy="97.82" r="1.10" fill="#111"/>
<circle cx="598.50" cy="99.15" r="1.10" fill="#111"/>
<circle cx="597.81" cy="100.48" r="1.10" fill="#111"/>
<circle cx="597.00" cy="96.49" r="1.10" fill="#111"/>
<rect x="607.30" y="99.15" width="9.30" height="19.95" fill="#d9d9d9" stroke="#4d4d4d" stroke-width="0.5"/>
<line x1="611.95" y1="96.15" x2="611.95" y2="102.15" stroke="#444" stroke-width="0.7"/>
<line x1="610.45" y1="96.15" x2="613.45" y2="96.15" stroke="#444" stroke-width="0.7"/>
<line x1="610.45" y1="102.15" x2="613.45" y2="102.15" stroke="#444" stroke-width="0.7"/>
<rect x="612.36" y="95.39" width="2.20" height="2.20" fill="#111"/>
<rect x="611.87" y="96.72" width="2.20" height="2.20" fill="#111"/>
<rect x="609.54" y="98.72" width="2.20" height="2.20" fill="#111"/>
<rect x="611.23" y="100.05" width="2.20" height="2.20" fill="#111"/>
<rect x="610.98" y="101.38" width="2.20" height="2.20" fill="#111"/>
<rect x="612.77" y="97.38" width="2.20" height="2.20" fill="#111"/>
<rect x="621.00" y="98.48" width="9.40" height="20.62" fill="#969696" stroke="#4d4d4d" stroke-width="0.5"/>
<line x1="625.70" y1="97.48" x2="625.70" y2="99.48" stroke="#444" stroke-width="0.7"/>
<line x1="624.20" y1="97.48" x2="627.20" y2="97.48" stroke="#444" stroke-width="0.7"/>
<line x1="624.20" y1="99.48" x2="627.20" y2="99.48" stroke="#444" stroke-width="0.7"/>
<path d="M623.30,97.16 L624.55,99.41 L622.05,99.41 Z" fill="#111"/>
<path d="M625.70,96.23 L626.95,98.48 L624.45,98.48 Z" fill="#111"/>
<path d="M628.10,97.16 L629.35,99.41 L626.85,99.41 Z" fill="#111"/>
<rect x="643.70" y="104.74" width="9.50" height="14.36" fill="#7b7b7b" stroke="#4d4d4d" stroke-width="0.5"/>
<line x1="648.45" y1="96.24" x2="648.45" y2="113.24" stroke="#444" stroke-width="0.7"/>
<line x1="646.95" y1="96.24" x2="649.95" y2="96.24" stroke="#444" stroke-width="0.7"/>
<line x1="646.95" y1="113.24" x2="649.95" y2="113.24" stroke="#444" stroke-width="0.7"/>
<circle cx="649.65" cy="89.17" r="1.10" fill="#111"/>
<circle cx="647.34" cy="103.14" r="1.10" fill="#111"/>
<circle cx="650.96" cy="108.46" r="1.10" fill="#111"/>
<circle cx="646.45" cy="111.12" r="1.10" fill="#111"/>
<circle cx="648.02" cy="113.78" r="1.10" fill="#111"/>
<circle cx="649.79" cy="107.13" r="1.10" fill="#111"/>
<rect x="657.40" y="107.13" width="9.60" height="11.97" fill="#d9d9d9" stroke="#4d4d4d" stroke-width="0.5"/>
<line x1="662.20" y1="101.63" x2="662.20" y2="112.63" stroke="#444" stroke-width="0.7"/>
<line x1="660.70" y1="101.63" x2="663.70" y2="101.63" stroke="#444" stroke-width="0.7"/>
<line x1="660.70" y1="112.63" x2="663.70" y2="112.63" stroke="#444" stroke-width="0.7"/>
<rect x="659.26" y="96.72" width="2.20" height="2.20" fill="#111"/>
<rect x="661.04" y="105.36" width="2.20" height="2.20" fill="#111"/>
<rect x="658.67" y="110.02" width="2.20" height="2.20" fill="#111"/>
<rect x="661.99" y="112.68" width="2.20" height="2.20" fill="#111"/>
<rect x="662.50" y="114.01" width="2.20" height="2.20" fill="#111"/>
<rect x="661.49" y="108.69" width="2.20" height="2.20" fill="#111"/>
<rect x="671.00" y="81.59" width="9.20" height="37.51" fill="#969696" stroke="#4d4d4d" stroke-width="0.5"/>
<line x1="675.60" y1="66.99" x2="675.60" y2="96.19" stroke="#444" stroke-width="0.7"/>
<line x1="674.10" y1="66.99" x2="677.10" y2="66.99" stroke="#444" stroke-width="0.7"/>
<line x1="674.10" y1="96.19" x2="677.10" y2="96.19" stroke="#444" stroke-width="0.7"/>
<path d="M673.20,90.52 L674.45,92.76 L671.95,92.76 Z" fill="#111"/>
<path d="M675.60,67.24 L676.85,69.48 L674.35,69.48 Z" fill="#111"/>
<path d="M678.00,85.86 L679.25,88.10 L676.75,88.10 Z" fill="#111"/>
<line x1="647.00" y1="51.90" x2="680.50" y2="51.90" stroke="#444" stroke-width="0.7"/>
<line x1="647.00" y1="51.90" x2="647.00" y2="53.70" stroke="#444" stroke-width="0.7"/>
<line x1="680.50" y1="51.90" x2="680.50" y2="53.70" stroke="#444" stroke-width="0.7"/>
<text x="663.80" y="52.80" font-size="6.6" fill="#2c2c2c" stroke="#2c2c2c" stroke-width="0.18" text-anchor="middle" textLength="14.00" lengthAdjust="spacingAndGlyphs">****</text>
<line x1="647.00" y1="59.20" x2="660.50" y2="59.20" stroke="#444" stroke-width="0.7"/>
<line x1="647.00" y1="59.20" x2="647.00" y2="61.00" stroke="#444" stroke-width="0.7"/>
<line x1="660.50" y1="59.20" x2="660.50" y2="61.00" stroke="#444" stroke-width="0.7"/>
<line x1="664.00" y1="59.20" x2="680.50" y2="59.20" stroke="#444" stroke-width="0.7"/>
<line x1="664.00" y1="59.20" x2="664.00" y2="61.00" stroke="#444" stroke-width="0.7"/>
<line x1="680.50" y1="59.20" x2="680.50" y2="61.00" stroke="#444" stroke-width="0.7"/>
<text x="653.50" y="58.80" font-size="6.8" fill="#2c2c2c" stroke="#2c2c2c" stroke-width="0.18" text-anchor="middle" textLength="6.50" lengthAdjust="spacingAndGlyphs">ns</text>
<text x="672.30" y="60.00" font-size="6.6" fill="#2c2c2c" stroke="#2c2c2c" stroke-width="0.18" text-anchor="middle" textLength="14.00" lengthAdjust="spacingAndGlyphs">****</text>
<line x1="22.00" y1="179.80" x2="22.00" y2="247.40" stroke="#5a5a5a" stroke-width="0.8"/>
<line x1="20.40" y1="247.40" x2="22.00" y2="247.40" stroke="#5a5a5a" stroke-width="0.8"/>
<text x="18.50" y="250.10" font-size="7.7" fill="#2c2c2c" stroke="#2c2c2c" stroke-width="0.18" text-anchor="end">0</text>
<line x1="20.40" y1="233.88" x2="22.00" y2="233.88" stroke="#5a5a5a" stroke-width="0.8"/>
<text x="18.50" y="236.58" font-size="7.7" fill="#2c2c2c" stroke="#2c2c2c" stroke-width="0.18" text-anchor="end">20</text>
<line x1="20.40" y1="220.36" x2="22.00" y2="220.36" stroke="#5a5a5a" stroke-width="0.8"/>
<text x="18.50" y="223.06" font-size="7.7" fill="#2c2c2c" stroke="#2c2c2c" stroke-width="0.18" text-anchor="end">40</text>
<line x1="20.40" y1="206.84" x2="22.00" y2="206.84" stroke="#5a5a5a" stroke-width="0.8"/>
<text x="18.50" y="209.54" font-size="7.7" fill="#2c2c2c" stroke="#2c2c2c" stroke-width="0.18" text-anchor="end">60</text>
<line x1="20.40" y1="193.32" x2="22.00" y2="193.32" stroke="#5a5a5a" stroke-width="0.8"/>
<text x="18.50" y="196.02" font-size="7.7" fill="#2c2c2c" stroke="#2c2c2c" stroke-width="0.18" text-anchor="end">80</text>
<line x1="20.40" y1="179.80" x2="22.00" y2="179.80" stroke="#5a5a5a" stroke-width="0.8"/>
<text x="18.50" y="182.50" font-size="7.7" fill="#2c2c2c" stroke="#2c2c2c" stroke-width="0.18" text-anchor="end">100</text>
<line x1="22.00" y1="247.40" x2="219.90" y2="247.40" stroke="#5a5a5a" stroke-width="0.8"/>
<line x1="28.60" y1="247.40" x2="28.60" y2="249.60" stroke="#5a5a5a" stroke-width="0.7"/>
<rect x="24.00" y="199.74" width="4.00" height="47.66" fill="#7b7b7b" stroke="#4d4d4d" stroke-width="0.45"/>
<line x1="26.00" y1="194.33" x2="26.00" y2="205.15" stroke="#3a3a3a" stroke-width="0.6"/>
<line x1="24.60" y1="194.33" x2="27.40" y2="194.33" stroke="#3a3a3a" stroke-width="0.6"/>
<circle cx="26.43" cy="202.74" r="1.00" fill="#111"/>
<circle cx="26.21" cy="196.76" r="1.00" fill="#111"/>
<circle cx="26.75" cy="195.03" r="1.00" fill="#111"/>
<circle cx="26.98" cy="197.16" r="1.00" fill="#111"/>
<circle cx="25.03" cy="192.65" r="1.00" fill="#111"/>
<circle cx="26.44" cy="200.91" r="1.00" fill="#111"/>
<rect x="28.90" y="198.32" width="4.60" height="49.08" fill="#d9d9d9" stroke="#4d4d4d" stroke-width="0.45"/>
<line x1="31.20" y1="188.86" x2="31.20" y2="207.79" stroke="#3a3a3a" stroke-width="0.6"/>
<line x1="29.80" y1="188.86" x2="32.60" y2="188.86" stroke="#3a3a3a" stroke-width="0.6"/>
<rect x="30.91" y="183.69" width="2.00" height="2.00" fill="#111"/>
<rect x="29.73" y="183.69" width="2.00" height="2.00" fill="#111"/>
<rect x="29.15" y="187.78" width="2.00" height="2.00" fill="#111"/>
<rect x="30.12" y="205.65" width="2.00" height="2.00" fill="#111"/>
<rect x="29.23" y="199.42" width="2.00" height="2.00" fill="#111"/>
<rect x="30.79" y="201.02" width="2.00" height="2.00" fill="#111"/>
<text x="33.70" y="253.70" font-size="7.4" fill="#2c2c2c" stroke="#2c2c2c" stroke-width="0.18" text-anchor="end" transform="rotate(-45 33.70 253.70)">CD69</text>
<line x1="42.81" y1="247.40" x2="42.81" y2="249.60" stroke="#5a5a5a" stroke-width="0.7"/>
<rect x="38.21" y="241.99" width="4.00" height="5.41" fill="#7b7b7b" stroke="#4d4d4d" stroke-width="0.45"/>
<line x1="40.21" y1="240.91" x2="40.21" y2="243.07" stroke="#3a3a3a" stroke-width="0.6"/>
<line x1="38.81" y1="240.91" x2="41.61" y2="240.91" stroke="#3a3a3a" stroke-width="0.6"/>
<circle cx="39.98" cy="242.50" r="1.00" fill="#111"/>
<circle cx="41.03" cy="242.53" r="1.00" fill="#111"/>
<circle cx="40.32" cy="242.92" r="1.00" fill="#111"/>
<circle cx="41.06" cy="242.51" r="1.00" fill="#111"/>
<circle cx="39.73" cy="242.81" r="1.00" fill="#111"/>
<circle cx="40.03" cy="240.43" r="1.00" fill="#111"/>
<rect x="43.11" y="242.67" width="4.60" height="4.73" fill="#d9d9d9" stroke="#4d4d4d" stroke-width="0.45"/>
<line x1="45.41" y1="241.72" x2="45.41" y2="243.61" stroke="#3a3a3a" stroke-width="0.6"/>
<line x1="44.01" y1="241.72" x2="46.81" y2="241.72" stroke="#3a3a3a" stroke-width="0.6"/>
<rect x="45.42" y="240.55" width="2.00" height="2.00" fill="#111"/>
<rect x="43.65" y="243.03" width="2.00" height="2.00" fill="#111"/>
<rect x="43.83" y="241.94" width="2.00" height="2.00" fill="#111"/>
<rect x="44.38" y="242.22" width="2.00" height="2.00" fill="#111"/>
<rect x="43.32" y="241.10" width="2.00" height="2.00" fill="#111"/>
<rect x="44.24" y="241.31" width="2.00" height="2.00" fill="#111"/>
<text x="47.91" y="253.70" font-size="7.4" fill="#2c2c2c" stroke="#2c2c2c" stroke-width="0.18" text-anchor="end" transform="rotate(-45 47.91 253.70)">CD103</text>
<line x1="57.03" y1="247.40" x2="57.03" y2="249.60" stroke="#5a5a5a" stroke-width="0.7"/>
<rect x="52.43" y="220.36" width="4.00" height="27.04" fill="#7b7b7b" stroke="#4d4d4d" stroke-width="0.45"/>
<line x1="54.43" y1="208.19" x2="54.43" y2="232.53" stroke="#3a3a3a" stroke-width="0.6"/>
<line x1="53.03" y1="208.19" x2="55.83" y2="208.19" stroke="#3a3a3a" stroke-width="0.6"/>
<circle cx="55.43" cy="210.72" r="1.00" fill="#111"/>
<circle cx="54.85" cy="230.72" r="1.00" fill="#111"/>
<circle cx="54.82" cy="205.25" r="1.00" fill="#111"/>
<circle cx="53.45" cy="218.88" r="1.00" fill="#111"/>
<circle cx="55.25" cy="235.74" r="1.00" fill="#111"/>
<circle cx="55.09" cy="209.11" r="1.00" fill="#111"/>
<rect x="57.33" y="210.22" width="4.60" height="37.18" fill="#d9d9d9" stroke="#4d4d4d" stroke-width="0.45"/>
<line x1="59.63" y1="204.81" x2="59.63" y2="215.63" stroke="#3a3a3a" stroke-width="0.6"/>
<line x1="58.23" y1="204.81" x2="61.03" y2="204.81" stroke="#3a3a3a" stroke-width="0.6"/>
<rect x="57.76" y="205.39" width="2.00" height="2.00" fill="#111"/>
<rect x="58.93" y="212.29" width="2.00" height="2.00" fill="#111"/>
<rect x="57.99" y="210.90" width="2.00" height="2.00" fill="#111"/>
<rect x="57.89" y="209.91" width="2.00" height="2.00" fill="#111"/>
<rect x="57.53" y="208.36" width="2.00" height="2.00" fill="#111"/>
<rect x="57.86" y="210.57" width="2.00" height="2.00" fill="#111"/>
<text x="62.13" y="253.70" font-size="7.4" fill="#2c2c2c" stroke="#2c2c2c" stroke-width="0.18" text-anchor="end" transform="rotate(-45 62.13 253.70)">CD127</text>
<line x1="71.25" y1="247.40" x2="71.25" y2="249.60" stroke="#5a5a5a" stroke-width="0.7"/>
<rect x="66.65" y="212.25" width="4.00" height="35.15" fill="#7b7b7b" stroke="#4d4d4d" stroke-width="0.45"/>
<line x1="68.65" y1="204.14" x2="68.65" y2="220.36" stroke="#3a3a3a" stroke-width="0.6"/>
<line x1="67.25" y1="204.14" x2="70.05" y2="204.14" stroke="#3a3a3a" stroke-width="0.6"/>
<circle cx="67.60" cy="217.83" r="1.00" fill="#111"/>
<circle cx="69.47" cy="216.38" r="1.00" fill="#111"/>
<circle cx="68.10" cy="209.13" r="1.00" fill="#111"/>
<circle cx="68.31" cy="209.53" r="1.00" fill="#111"/>
<circle cx="69.41" cy="209.79" r="1.00" fill="#111"/>
<circle cx="69.73" cy="215.06" r="1.00" fill="#111"/>
<rect x="71.55" y="219.01" width="4.60" height="28.39" fill="#d9d9d9" stroke="#4d4d4d" stroke-width="0.45"/>
<line x1="73.84" y1="213.33" x2="73.84" y2="224.69" stroke="#3a3a3a" stroke-width="0.6"/>
<line x1="72.44" y1="213.33" x2="75.25" y2="213.33" stroke="#3a3a3a" stroke-width="0.6"/>
<rect x="71.93" y="212.26" width="2.00" height="2.00" fill="#111"/>
<rect x="71.97" y="219.25" width="2.00" height="2.00" fill="#111"/>
<rect x="73.57" y="215.80" width="2.00" height="2.00" fill="#111"/>
<rect x="72.10" y="221.36" width="2.00" height="2.00" fill="#111"/>
<rect x="72.91" y="226.18" width="2.00" height="2.00" fill="#111"/>
<rect x="72.07" y="219.82" width="2.00" height="2.00" fill="#111"/>
<text x="76.34" y="253.70" font-size="7.4" fill="#2c2c2c" stroke="#2c2c2c" stroke-width="0.18" text-anchor="end" transform="rotate(-45 76.34 253.70)">CTLA-4</text>
<line x1="85.46" y1="247.40" x2="85.46" y2="249.60" stroke="#5a5a5a" stroke-width="0.7"/>
<rect x="80.86" y="243.34" width="4.00" height="4.06" fill="#7b7b7b" stroke="#4d4d4d" stroke-width="0.45"/>
<line x1="82.86" y1="242.53" x2="82.86" y2="244.16" stroke="#3a3a3a" stroke-width="0.6"/>
<line x1="81.46" y1="242.53" x2="84.26" y2="242.53" stroke="#3a3a3a" stroke-width="0.6"/>
<circle cx="82.92" cy="243.18" r="1.00" fill="#111"/>
<circle cx="83.91" cy="243.30" r="1.00" fill="#111"/>
<circle cx="82.33" cy="244.08" r="1.00" fill="#111"/>
<circle cx="82.57" cy="242.49" r="1.00" fill="#111"/>
<circle cx="82.93" cy="243.97" r="1.00" fill="#111"/>
<circle cx="83.47" cy="244.43" r="1.00" fill="#111"/>
<rect x="85.76" y="244.70" width="4.60" height="2.70" fill="#d9d9d9" stroke="#4d4d4d" stroke-width="0.45"/>
<line x1="88.06" y1="244.16" x2="88.06" y2="245.24" stroke="#3a3a3a" stroke-width="0.6"/>
<line x1="86.66" y1="244.16" x2="89.46" y2="244.16" stroke="#3a3a3a" stroke-width="0.6"/>
<rect x="87.75" y="243.53" width="2.00" height="2.00" fill="#111"/>
<rect x="88.13" y="244.00" width="2.00" height="2.00" fill="#111"/>
<rect x="87.76" y="244.23" width="2.00" height="2.00" fill="#111"/>
<rect x="87.59" y="242.99" width="2.00" height="2.00" fill="#111"/>
<rect x="86.74" y="243.78" width="2.00" height="2.00" fill="#111"/>
<rect x="86.02" y="244.28" width="2.00" height="2.00" fill="#111"/>
<text x="90.56" y="253.70" font-size="7.4" fill="#2c2c2c" stroke="#2c2c2c" stroke-width="0.18" text-anchor="end" transform="rotate(-45 90.56 253.70)">GATA-3</text>
<line x1="99.68" y1="247.40" x2="99.68" y2="249.60" stroke="#5a5a5a" stroke-width="0.7"/>
<rect x="95.08" y="200.08" width="4.00" height="47.32" fill="#7b7b7b" stroke="#4d4d4d" stroke-width="0.45"/>
<line x1="97.08" y1="190.62" x2="97.08" y2="209.54" stroke="#3a3a3a" stroke-width="0.6"/>
<line x1="95.68" y1="190.62" x2="98.48" y2="190.62" stroke="#3a3a3a" stroke-width="0.6"/>
<circle cx="96.55" cy="206.87" r="1.00" fill="#111"/>
<circle cx="97.50" cy="201.28" r="1.00" fill="#111"/>
<circle cx="98.04" cy="209.01" r="1.00" fill="#111"/>
<circle cx="98.15" cy="197.58" r="1.00" fill="#111"/>
<circle cx="96.46" cy="207.87" r="1.00" fill="#111"/>
<circle cx="96.47" cy="197.82" r="1.00" fill="#111"/>
<rect x="99.98" y="197.71" width="4.60" height="49.69" fill="#d9d9d9" stroke="#4d4d4d" stroke-width="0.45"/>
<line x1="102.28" y1="188.25" x2="102.28" y2="207.18" stroke="#3a3a3a" stroke-width="0.6"/>
<line x1="100.88" y1="188.25" x2="103.68" y2="188.25" stroke="#3a3a3a" stroke-width="0.6"/>
<rect x="101.55" y="198.61" width="2.00" height="2.00" fill="#111"/>
<rect x="102.16" y="202.15" width="2.00" height="2.00" fill="#111"/>
<rect x="101.61" y="201.95" width="2.00" height="2.00" fill="#111"/>
<rect x="101.93" y="188.51" width="2.00" height="2.00" fill="#111"/>
<rect x="102.18" y="207.50" width="2.00" height="2.00" fill="#111"/>
<rect x="101.90" y="203.07" width="2.00" height="2.00" fill="#111"/>
<text x="104.78" y="253.70" font-size="7.4" fill="#2c2c2c" stroke="#2c2c2c" stroke-width="0.18" text-anchor="end" transform="rotate(-45 104.78 253.70)">GITR</text>
<line x1="113.89" y1="247.40" x2="113.89" y2="249.60" stroke="#5a5a5a" stroke-width="0.7"/>
<rect x="109.29" y="233.20" width="4.00" height="14.20" fill="#7b7b7b" stroke="#4d4d4d" stroke-width="0.45"/>
<line x1="111.29" y1="230.36" x2="111.29" y2="236.04" stroke="#3a3a3a" stroke-width="0.6"/>
<line x1="109.89" y1="230.36" x2="112.69" y2="230.36" stroke="#3a3a3a" stroke-width="0.6"/>
<circle cx="110.58" cy="233.21" r="1.00" fill="#111"/>
<circle cx="111.93" cy="230.29" r="1.00" fill="#111"/>
<circle cx="112.33" cy="230.93" r="1.00" fill="#111"/>
<circle cx="111.06" cy="237.19" r="1.00" fill="#111"/>
<circle cx="111.78" cy="229.12" r="1.00" fill="#111"/>
<circle cx="110.56" cy="236.80" r="1.00" fill="#111"/>
<rect x="114.19" y="233.88" width="4.60" height="13.52" fill="#d9d9d9" stroke="#4d4d4d" stroke-width="0.45"/>
<line x1="116.49" y1="231.18" x2="116.49" y2="236.58" stroke="#3a3a3a" stroke-width="0.6"/>
<line x1="115.09" y1="231.18" x2="117.89" y2="231.18" stroke="#3a3a3a" stroke-width="0.6"/>
<rect x="116.38" y="233.85" width="2.00" height="2.00" fill="#111"/>
<rect x="116.16" y="233.88" width="2.00" height="2.00" fill="#111"/>
<rect x="116.55" y="235.65" width="2.00" height="2.00" fill="#111"/>
<rect x="115.84" y="236.50" width="2.00" height="2.00" fill="#111"/>
<rect x="114.68" y="231.07" width="2.00" height="2.00" fill="#111"/>
<rect x="114.42" y="235.36" width="2.00" height="2.00" fill="#111"/>
<text x="118.99" y="253.70" font-size="7.4" fill="#2c2c2c" stroke="#2c2c2c" stroke-width="0.18" text-anchor="end" transform="rotate(-45 118.99 253.70)">Helios</text>
<line x1="128.10" y1="247.40" x2="128.10" y2="249.60" stroke="#5a5a5a" stroke-width="0.7"/>
<rect x="123.50" y="208.87" width="4.00" height="38.53" fill="#7b7b7b" stroke="#4d4d4d" stroke-width="0.45"/>
<line x1="125.50" y1="200.76" x2="125.50" y2="216.98" stroke="#3a3a3a" stroke-width="0.6"/>
<line x1="124.10" y1="200.76" x2="126.91" y2="200.76" stroke="#3a3a3a" stroke-width="0.6"/>
<circle cx="125.56" cy="219.27" r="1.00" fill="#111"/>
<circle cx="126.46" cy="206.94" r="1.00" fill="#111"/>
<circle cx="126.22" cy="197.19" r="1.00" fill="#111"/>
<circle cx="124.87" cy="214.85" r="1.00" fill="#111"/>
<circle cx="124.93" cy="208.80" r="1.00" fill="#111"/>
<circle cx="125.70" cy="214.95" r="1.00" fill="#111"/>
<rect x="128.41" y="212.92" width="4.60" height="34.48" fill="#d9d9d9" stroke="#4d4d4d" stroke-width="0.45"/>
<line x1="130.70" y1="206.03" x2="130.70" y2="219.82" stroke="#3a3a3a" stroke-width="0.6"/>
<line x1="129.30" y1="206.03" x2="132.10" y2="206.03" stroke="#3a3a3a" stroke-width="0.6"/>
<rect x="128.89" y="211.54" width="2.00" height="2.00" fill="#111"/>
<rect x="130.61" y="218.38" width="2.00" height="2.00" fill="#111"/>
<rect x="129.89" y="207.75" width="2.00" height="2.00" fill="#111"/>
<rect x="130.59" y="217.38" width="2.00" height="2.00" fill="#111"/>
<rect x="129.71" y="201.99" width="2.00" height="2.00" fill="#111"/>
<rect x="129.78" y="218.56" width="2.00" height="2.00" fill="#111"/>
<text x="133.20" y="253.70" font-size="7.4" fill="#2c2c2c" stroke="#2c2c2c" stroke-width="0.18" text-anchor="end" transform="rotate(-45 133.20 253.70)">ICOS</text>
<line x1="142.32" y1="247.40" x2="142.32" y2="249.60" stroke="#5a5a5a" stroke-width="0.7"/>
<rect x="137.72" y="215.97" width="4.00" height="31.43" fill="#7b7b7b" stroke="#4d4d4d" stroke-width="0.45"/>
<line x1="139.72" y1="209.68" x2="139.72" y2="222.25" stroke="#3a3a3a" stroke-width="0.6"/>
<line x1="138.32" y1="209.68" x2="141.12" y2="209.68" stroke="#3a3a3a" stroke-width="0.6"/>
<circle cx="139.59" cy="214.88" r="1.00" fill="#111"/>
<circle cx="139.02" cy="215.80" r="1.00" fill="#111"/>
<circle cx="139.00" cy="225.02" r="1.00" fill="#111"/>
<circle cx="139.66" cy="216.22" r="1.00" fill="#111"/>
<circle cx="139.34" cy="214.85" r="1.00" fill="#111"/>
<circle cx="139.76" cy="208.84" r="1.00" fill="#111"/>
<rect x="142.62" y="221.04" width="4.60" height="26.36" fill="#d9d9d9" stroke="#4d4d4d" stroke-width="0.45"/>
<line x1="144.92" y1="215.76" x2="144.92" y2="226.31" stroke="#3a3a3a" stroke-width="0.6"/>
<line x1="143.52" y1="215.76" x2="146.32" y2="215.76" stroke="#3a3a3a" stroke-width="0.6"/>
<rect x="143.05" y="212.44" width="2.00" height="2.00" fill="#111"/>
<rect x="144.05" y="217.20" width="2.00" height="2.00" fill="#111"/>
<rect x="144.52" y="220.07" width="2.00" height="2.00" fill="#111"/>
<rect x="143.94" y="223.86" width="2.00" height="2.00" fill="#111"/>
<rect x="144.83" y="212.61" width="2.00" height="2.00" fill="#111"/>
<rect x="143.80" y="217.00" width="2.00" height="2.00" fill="#111"/>
<text x="147.42" y="253.70" font-size="7.4" fill="#2c2c2c" stroke="#2c2c2c" stroke-width="0.18" text-anchor="end" transform="rotate(-45 147.42 253.70)">Ki-67</text>
<line x1="156.53" y1="247.40" x2="156.53" y2="249.60" stroke="#5a5a5a" stroke-width="0.7"/>
<rect x="151.94" y="241.32" width="4.00" height="6.08" fill="#7b7b7b" stroke="#4d4d4d" stroke-width="0.45"/>
<line x1="153.94" y1="240.10" x2="153.94" y2="242.53" stroke="#3a3a3a" stroke-width="0.6"/>
<line x1="152.53" y1="240.10" x2="155.34" y2="240.10" stroke="#3a3a3a" stroke-width="0.6"/>
<circle cx="153.96" cy="240.33" r="1.00" fill="#111"/>
<circle cx="154.36" cy="240.47" r="1.00" fill="#111"/>
<circle cx="153.89" cy="240.02" r="1.00" fill="#111"/>
<circle cx="154.91" cy="241.71" r="1.00" fill="#111"/>
<circle cx="154.91" cy="240.61" r="1.00" fill="#111"/>
<circle cx="153.41" cy="239.56" r="1.00" fill="#111"/>
<rect x="156.84" y="241.59" width="4.60" height="5.81" fill="#d9d9d9" stroke="#4d4d4d" stroke-width="0.45"/>
<line x1="159.13" y1="240.42" x2="159.13" y2="242.75" stroke="#3a3a3a" stroke-width="0.6"/>
<line x1="157.73" y1="240.42" x2="160.53" y2="240.42" stroke="#3a3a3a" stroke-width="0.6"/>
<rect x="158.88" y="238.91" width="2.00" height="2.00" fill="#111"/>
<rect x="157.34" y="239.67" width="2.00" height="2.00" fill="#111"/>
<rect x="157.19" y="241.40" width="2.00" height="2.00" fill="#111"/>
<rect x="157.56" y="241.37" width="2.00" height="2.00" fill="#111"/>
<rect x="158.76" y="241.98" width="2.00" height="2.00" fill="#111"/>
<rect x="159.01" y="241.28" width="2.00" height="2.00" fill="#111"/>
<text x="161.63" y="253.70" font-size="7.4" fill="#2c2c2c" stroke="#2c2c2c" stroke-width="0.18" text-anchor="end" transform="rotate(-45 161.63 253.70)">KLRG1</text>
<line x1="170.75" y1="247.40" x2="170.75" y2="249.60" stroke="#5a5a5a" stroke-width="0.7"/>
<rect x="166.15" y="224.42" width="4.00" height="22.98" fill="#7b7b7b" stroke="#4d4d4d" stroke-width="0.45"/>
<line x1="168.15" y1="216.30" x2="168.15" y2="232.53" stroke="#3a3a3a" stroke-width="0.6"/>
<line x1="166.75" y1="216.30" x2="169.55" y2="216.30" stroke="#3a3a3a" stroke-width="0.6"/>
<circle cx="168.50" cy="230.96" r="1.00" fill="#111"/>
<circle cx="167.36" cy="233.98" r="1.00" fill="#111"/>
<circle cx="167.53" cy="236.10" r="1.00" fill="#111"/>
<circle cx="169.15" cy="212.73" r="1.00" fill="#111"/>
<circle cx="169.23" cy="217.64" r="1.00" fill="#111"/>
<circle cx="168.88" cy="229.45" r="1.00" fill="#111"/>
<rect x="171.05" y="233.88" width="4.60" height="13.52" fill="#d9d9d9" stroke="#4d4d4d" stroke-width="0.45"/>
<line x1="173.35" y1="231.18" x2="173.35" y2="236.58" stroke="#3a3a3a" stroke-width="0.6"/>
<line x1="171.95" y1="231.18" x2="174.75" y2="231.18" stroke="#3a3a3a" stroke-width="0.6"/>
<rect x="172.38" y="234.25" width="2.00" height="2.00" fill="#111"/>
<rect x="172.00" y="235.08" width="2.00" height="2.00" fill="#111"/>
<rect x="172.84" y="233.59" width="2.00" height="2.00" fill="#111"/>
<rect x="171.29" y="234.89" width="2.00" height="2.00" fill="#111"/>
<rect x="171.29" y="230.41" width="2.00" height="2.00" fill="#111"/>
<rect x="171.98" y="232.01" width="2.00" height="2.00" fill="#111"/>
<text x="175.85" y="253.70" font-size="7.4" fill="#2c2c2c" stroke="#2c2c2c" stroke-width="0.18" text-anchor="end" transform="rotate(-45 175.85 253.70)">Nrp1</text>
<line x1="184.97" y1="247.40" x2="184.97" y2="249.60" stroke="#5a5a5a" stroke-width="0.7"/>
<rect x="180.37" y="202.78" width="4.00" height="44.62" fill="#7b7b7b" stroke="#4d4d4d" stroke-width="0.45"/>
<line x1="182.37" y1="197.38" x2="182.37" y2="208.19" stroke="#3a3a3a" stroke-width="0.6"/>
<line x1="180.97" y1="197.38" x2="183.77" y2="197.38" stroke="#3a3a3a" stroke-width="0.6"/>
<circle cx="181.41" cy="198.63" r="1.00" fill="#111"/>
<circle cx="183.43" cy="198.69" r="1.00" fill="#111"/>
<circle cx="181.50" cy="205.89" r="1.00" fill="#111"/>
<circle cx="181.85" cy="195.00" r="1.00" fill="#111"/>
<circle cx="181.86" cy="210.57" r="1.00" fill="#111"/>
<circle cx="181.55" cy="204.87" r="1.00" fill="#111"/>
<rect x="185.27" y="208.87" width="4.60" height="38.53" fill="#d9d9d9" stroke="#4d4d4d" stroke-width="0.45"/>
<line x1="187.56" y1="201.16" x2="187.56" y2="216.57" stroke="#3a3a3a" stroke-width="0.6"/>
<line x1="186.16" y1="201.16" x2="188.97" y2="201.16" stroke="#3a3a3a" stroke-width="0.6"/>
<rect x="187.27" y="196.77" width="2.00" height="2.00" fill="#111"/>
<rect x="186.03" y="215.03" width="2.00" height="2.00" fill="#111"/>
<rect x="186.72" y="217.06" width="2.00" height="2.00" fill="#111"/>
<rect x="187.01" y="218.97" width="2.00" height="2.00" fill="#111"/>
<rect x="186.98" y="209.89" width="2.00" height="2.00" fill="#111"/>
<rect x="186.40" y="209.14" width="2.00" height="2.00" fill="#111"/>
<text x="190.06" y="253.70" font-size="7.4" fill="#2c2c2c" stroke="#2c2c2c" stroke-width="0.18" text-anchor="end" transform="rotate(-45 190.06 253.70)">PD-1</text>
<line x1="199.18" y1="247.40" x2="199.18" y2="249.60" stroke="#5a5a5a" stroke-width="0.7"/>
<rect x="194.58" y="246.72" width="4.00" height="0.68" fill="#7b7b7b" stroke="#4d4d4d" stroke-width="0.45"/>
<line x1="196.58" y1="246.18" x2="196.58" y2="247.26" stroke="#3a3a3a" stroke-width="0.6"/>
<line x1="195.18" y1="246.18" x2="197.98" y2="246.18" stroke="#3a3a3a" stroke-width="0.6"/>
<circle cx="196.88" cy="246.50" r="1.00" fill="#111"/>
<circle cx="197.24" cy="246.50" r="1.00" fill="#111"/>
<circle cx="195.63" cy="246.50" r="1.00" fill="#111"/>
<circle cx="197.38" cy="246.50" r="1.00" fill="#111"/>
<circle cx="196.70" cy="246.30" r="1.00" fill="#111"/>
<circle cx="197.52" cy="246.50" r="1.00" fill="#111"/>
<rect x="199.48" y="246.72" width="4.60" height="0.68" fill="#d9d9d9" stroke="#4d4d4d" stroke-width="0.45"/>
<line x1="201.78" y1="246.18" x2="201.78" y2="247.26" stroke="#3a3a3a" stroke-width="0.6"/>
<line x1="200.38" y1="246.18" x2="203.18" y2="246.18" stroke="#3a3a3a" stroke-width="0.6"/>
<rect x="200.84" y="245.50" width="2.00" height="2.00" fill="#111"/>
<rect x="200.20" y="245.50" width="2.00" height="2.00" fill="#111"/>
<rect x="199.79" y="245.50" width="2.00" height="2.00" fill="#111"/>
<rect x="200.12" y="245.50" width="2.00" height="2.00" fill="#111"/>
<rect x="201.35" y="245.50" width="2.00" height="2.00" fill="#111"/>
<rect x="200.32" y="245.50" width="2.00" height="2.00" fill="#111"/>
<text x="204.28" y="253.70" font-size="7.4" fill="#2c2c2c" stroke="#2c2c2c" stroke-width="0.18" text-anchor="end" transform="rotate(-45 204.28 253.70)">ST2</text>
<line x1="213.39" y1="247.40" x2="213.39" y2="249.60" stroke="#5a5a5a" stroke-width="0.7"/>
<rect x="208.79" y="246.05" width="4.00" height="1.35" fill="#7b7b7b" stroke="#4d4d4d" stroke-width="0.45"/>
<line x1="210.79" y1="245.51" x2="210.79" y2="246.59" stroke="#3a3a3a" stroke-width="0.6"/>
<line x1="209.39" y1="245.51" x2="212.19" y2="245.51" stroke="#3a3a3a" stroke-width="0.6"/>
<circle cx="210.46" cy="245.74" r="1.00" fill="#111"/>
<circle cx="209.73" cy="246.05" r="1.00" fill="#111"/>
<circle cx="211.31" cy="246.05" r="1.00" fill="#111"/>
<circle cx="210.91" cy="246.13" r="1.00" fill="#111"/>
<circle cx="211.75" cy="246.25" r="1.00" fill="#111"/>
<circle cx="209.93" cy="246.50" r="1.00" fill="#111"/>
<rect x="213.69" y="246.39" width="4.60" height="1.01" fill="#d9d9d9" stroke="#4d4d4d" stroke-width="0.45"/>
<line x1="216.00" y1="245.85" x2="216.00" y2="246.93" stroke="#3a3a3a" stroke-width="0.6"/>
<line x1="214.59" y1="245.85" x2="217.40" y2="245.85" stroke="#3a3a3a" stroke-width="0.6"/>
<rect x="214.98" y="245.50" width="2.00" height="2.00" fill="#111"/>
<rect x="215.73" y="244.92" width="2.00" height="2.00" fill="#111"/>
<rect x="215.41" y="244.93" width="2.00" height="2.00" fill="#111"/>
<rect x="216.06" y="245.50" width="2.00" height="2.00" fill="#111"/>
<rect x="215.45" y="244.88" width="2.00" height="2.00" fill="#111"/>
<rect x="215.29" y="245.50" width="2.00" height="2.00" fill="#111"/>
<text x="218.49" y="253.70" font-size="7.4" fill="#2c2c2c" stroke="#2c2c2c" stroke-width="0.18" text-anchor="end" transform="rotate(-45 218.49 253.70)">T-bet</text>
<line x1="252.40" y1="179.80" x2="252.40" y2="247.40" stroke="#5a5a5a" stroke-width="0.8"/>
<line x1="250.80" y1="247.40" x2="252.40" y2="247.40" stroke="#5a5a5a" stroke-width="0.8"/>
<text x="248.90" y="250.10" font-size="7.7" fill="#2c2c2c" stroke="#2c2c2c" stroke-width="0.18" text-anchor="end">0</text>
<line x1="250.80" y1="233.88" x2="252.40" y2="233.88" stroke="#5a5a5a" stroke-width="0.8"/>
<text x="248.90" y="236.58" font-size="7.7" fill="#2c2c2c" stroke="#2c2c2c" stroke-width="0.18" text-anchor="end">20</text>
<line x1="250.80" y1="220.36" x2="252.40" y2="220.36" stroke="#5a5a5a" stroke-width="0.8"/>
<text x="248.90" y="223.06" font-size="7.7" fill="#2c2c2c" stroke="#2c2c2c" stroke-width="0.18" text-anchor="end">40</text>
<line x1="250.80" y1="206.84" x2="252.40" y2="206.84" stroke="#5a5a5a" stroke-width="0.8"/>
<text x="248.90" y="209.54" font-size="7.7" fill="#2c2c2c" stroke="#2c2c2c" stroke-width="0.18" text-anchor="end">60</text>
<line x1="250.80" y1="193.32" x2="252.40" y2="193.32" stroke="#5a5a5a" stroke-width="0.8"/>
<text x="248.90" y="196.02" font-size="7.7" fill="#2c2c2c" stroke="#2c2c2c" stroke-width="0.18" text-anchor="end">80</text>
<line x1="250.80" y1="179.80" x2="252.40" y2="179.80" stroke="#5a5a5a" stroke-width="0.8"/>
<text x="248.90" y="182.50" font-size="7.7" fill="#2c2c2c" stroke="#2c2c2c" stroke-width="0.18" text-anchor="end">100</text>
<line x1="252.40" y1="247.40" x2="449.90" y2="247.40" stroke="#5a5a5a" stroke-width="0.8"/>
<line x1="258.80" y1="247.40" x2="258.80" y2="249.60" stroke="#5a5a5a" stroke-width="0.7"/>
<rect x="254.20" y="214.95" width="4.00" height="32.45" fill="#7b7b7b" stroke="#4d4d4d" stroke-width="0.45"/>
<line x1="256.20" y1="206.84" x2="256.20" y2="223.06" stroke="#3a3a3a" stroke-width="0.6"/>
<line x1="254.80" y1="206.84" x2="257.60" y2="206.84" stroke="#3a3a3a" stroke-width="0.6"/>
<circle cx="255.22" cy="209.38" r="1.00" fill="#111"/>
<circle cx="255.39" cy="218.75" r="1.00" fill="#111"/>
<circle cx="255.66" cy="225.79" r="1.00" fill="#111"/>
<circle cx="255.46" cy="220.11" r="1.00" fill="#111"/>
<circle cx="257.02" cy="226.63" r="1.00" fill="#111"/>
<circle cx="256.58" cy="222.04" r="1.00" fill="#111"/>
<rect x="259.10" y="216.98" width="4.60" height="30.42" fill="#d9d9d9" stroke="#4d4d4d" stroke-width="0.45"/>
<line x1="261.40" y1="211.57" x2="261.40" y2="222.39" stroke="#3a3a3a" stroke-width="0.6"/>
<line x1="260.00" y1="211.57" x2="262.80" y2="211.57" stroke="#3a3a3a" stroke-width="0.6"/>
<rect x="259.94" y="215.26" width="2.00" height="2.00" fill="#111"/>
<rect x="260.31" y="219.53" width="2.00" height="2.00" fill="#111"/>
<rect x="259.88" y="218.88" width="2.00" height="2.00" fill="#111"/>
<rect x="261.42" y="220.40" width="2.00" height="2.00" fill="#111"/>
<rect x="259.84" y="222.02" width="2.00" height="2.00" fill="#111"/>
<rect x="261.42" y="214.93" width="2.00" height="2.00" fill="#111"/>
<text x="263.90" y="253.70" font-size="7.4" fill="#2c2c2c" stroke="#2c2c2c" stroke-width="0.18" text-anchor="end" transform="rotate(-45 263.90 253.70)">CD69</text>
<line x1="273.00" y1="247.40" x2="273.00" y2="249.60" stroke="#5a5a5a" stroke-width="0.7"/>
<rect x="268.40" y="245.37" width="4.00" height="2.03" fill="#7b7b7b" stroke="#4d4d4d" stroke-width="0.45"/>
<line x1="270.40" y1="244.83" x2="270.40" y2="245.91" stroke="#3a3a3a" stroke-width="0.6"/>
<line x1="269.00" y1="244.83" x2="271.80" y2="244.83" stroke="#3a3a3a" stroke-width="0.6"/>
<circle cx="269.30" cy="245.20" r="1.00" fill="#111"/>
<circle cx="270.14" cy="245.80" r="1.00" fill="#111"/>
<circle cx="269.74" cy="244.80" r="1.00" fill="#111"/>
<circle cx="270.41" cy="245.46" r="1.00" fill="#111"/>
<circle cx="269.50" cy="245.75" r="1.00" fill="#111"/>
<circle cx="270.18" cy="245.38" r="1.00" fill="#111"/>
<rect x="273.30" y="246.05" width="4.60" height="1.35" fill="#d9d9d9" stroke="#4d4d4d" stroke-width="0.45"/>
<line x1="275.60" y1="245.51" x2="275.60" y2="246.59" stroke="#3a3a3a" stroke-width="0.6"/>
<line x1="274.20" y1="245.51" x2="277.00" y2="245.51" stroke="#3a3a3a" stroke-width="0.6"/>
<rect x="274.17" y="245.15" width="2.00" height="2.00" fill="#111"/>
<rect x="274.01" y="245.07" width="2.00" height="2.00" fill="#111"/>
<rect x="275.15" y="244.53" width="2.00" height="2.00" fill="#111"/>
<rect x="274.95" y="244.74" width="2.00" height="2.00" fill="#111"/>
<rect x="274.36" y="244.84" width="2.00" height="2.00" fill="#111"/>
<rect x="274.22" y="244.27" width="2.00" height="2.00" fill="#111"/>
<text x="278.10" y="253.70" font-size="7.4" fill="#2c2c2c" stroke="#2c2c2c" stroke-width="0.18" text-anchor="end" transform="rotate(-45 278.10 253.70)">CD103</text>
<line x1="287.20" y1="247.40" x2="287.20" y2="249.60" stroke="#5a5a5a" stroke-width="0.7"/>
<rect x="282.60" y="229.15" width="4.00" height="18.25" fill="#7b7b7b" stroke="#4d4d4d" stroke-width="0.45"/>
<line x1="284.60" y1="225.50" x2="284.60" y2="232.80" stroke="#3a3a3a" stroke-width="0.6"/>
<line x1="283.20" y1="225.50" x2="286.00" y2="225.50" stroke="#3a3a3a" stroke-width="0.6"/>
<circle cx="285.09" cy="231.01" r="1.00" fill="#111"/>
<circle cx="284.92" cy="228.97" r="1.00" fill="#111"/>
<circle cx="285.46" cy="234.40" r="1.00" fill="#111"/>
<circle cx="284.88" cy="230.84" r="1.00" fill="#111"/>
<circle cx="283.81" cy="228.54" r="1.00" fill="#111"/>
<circle cx="284.65" cy="223.89" r="1.00" fill="#111"/>
<rect x="287.50" y="224.42" width="4.60" height="22.98" fill="#d9d9d9" stroke="#4d4d4d" stroke-width="0.45"/>
<line x1="289.80" y1="219.82" x2="289.80" y2="229.01" stroke="#3a3a3a" stroke-width="0.6"/>
<line x1="288.40" y1="219.82" x2="291.20" y2="219.82" stroke="#3a3a3a" stroke-width="0.6"/>
<rect x="289.47" y="216.80" width="2.00" height="2.00" fill="#111"/>
<rect x="289.52" y="223.20" width="2.00" height="2.00" fill="#111"/>
<rect x="289.20" y="216.80" width="2.00" height="2.00" fill="#111"/>
<rect x="289.23" y="219.01" width="2.00" height="2.00" fill="#111"/>
<rect x="287.99" y="223.55" width="2.00" height="2.00" fill="#111"/>
<rect x="288.49" y="224.45" width="2.00" height="2.00" fill="#111"/>
<text x="292.30" y="253.70" font-size="7.4" fill="#2c2c2c" stroke="#2c2c2c" stroke-width="0.18" text-anchor="end" transform="rotate(-45 292.30 253.70)">CD127</text>
<line x1="301.40" y1="247.40" x2="301.40" y2="249.60" stroke="#5a5a5a" stroke-width="0.7"/>
<rect x="296.80" y="192.64" width="4.00" height="54.76" fill="#7b7b7b" stroke="#4d4d4d" stroke-width="0.45"/>
<line x1="298.80" y1="183.18" x2="298.80" y2="202.11" stroke="#3a3a3a" stroke-width="0.6"/>
<line x1="297.40" y1="183.18" x2="300.20" y2="183.18" stroke="#3a3a3a" stroke-width="0.6"/>
<circle cx="298.93" cy="205.44" r="1.00" fill="#111"/>
<circle cx="299.08" cy="202.56" r="1.00" fill="#111"/>
<circle cx="298.78" cy="183.61" r="1.00" fill="#111"/>
<circle cx="297.71" cy="183.47" r="1.00" fill="#111"/>
<circle cx="298.81" cy="196.82" r="1.00" fill="#111"/>
<circle cx="298.88" cy="180.40" r="1.00" fill="#111"/>
<rect x="301.70" y="189.26" width="4.60" height="58.14" fill="#d9d9d9" stroke="#4d4d4d" stroke-width="0.45"/>
<line x1="304.00" y1="180.75" x2="304.00" y2="197.78" stroke="#3a3a3a" stroke-width="0.6"/>
<line x1="302.60" y1="180.75" x2="305.40" y2="180.75" stroke="#3a3a3a" stroke-width="0.6"/>
<rect x="303.52" y="186.73" width="2.00" height="2.00" fill="#111"/>
<rect x="302.45" y="185.88" width="2.00" height="2.00" fill="#111"/>
<rect x="303.50" y="193.64" width="2.00" height="2.00" fill="#111"/>
<rect x="302.35" y="190.98" width="2.00" height="2.00" fill="#111"/>
<rect x="302.99" y="186.93" width="2.00" height="2.00" fill="#111"/>
<rect x="302.74" y="179.40" width="2.00" height="2.00" fill="#111"/>
<text x="306.50" y="253.70" font-size="7.4" fill="#2c2c2c" stroke="#2c2c2c" stroke-width="0.18" text-anchor="end" transform="rotate(-45 306.50 253.70)">CTLA-4</text>
<line x1="315.60" y1="247.40" x2="315.60" y2="249.60" stroke="#5a5a5a" stroke-width="0.7"/>
<rect x="311.00" y="229.82" width="4.00" height="17.58" fill="#7b7b7b" stroke="#4d4d4d" stroke-width="0.45"/>
<line x1="313.00" y1="226.31" x2="313.00" y2="233.34" stroke="#3a3a3a" stroke-width="0.6"/>
<line x1="311.60" y1="226.31" x2="314.40" y2="226.31" stroke="#3a3a3a" stroke-width="0.6"/>
<circle cx="313.59" cy="225.07" r="1.00" fill="#111"/>
<circle cx="313.26" cy="230.46" r="1.00" fill="#111"/>
<circle cx="312.22" cy="229.03" r="1.00" fill="#111"/>
<circle cx="312.46" cy="228.83" r="1.00" fill="#111"/>
<circle cx="313.15" cy="229.71" r="1.00" fill="#111"/>
<circle cx="311.93" cy="227.13" r="1.00" fill="#111"/>
<rect x="315.90" y="231.85" width="4.60" height="15.55" fill="#d9d9d9" stroke="#4d4d4d" stroke-width="0.45"/>
<line x1="318.20" y1="228.74" x2="318.20" y2="234.96" stroke="#3a3a3a" stroke-width="0.6"/>
<line x1="316.80" y1="228.74" x2="319.60" y2="228.74" stroke="#3a3a3a" stroke-width="0.6"/>
<rect x="317.58" y="232.91" width="2.00" height="2.00" fill="#111"/>
<rect x="317.62" y="231.68" width="2.00" height="2.00" fill="#111"/>
<rect x="317.24" y="229.81" width="2.00" height="2.00" fill="#111"/>
<rect x="317.12" y="228.78" width="2.00" height="2.00" fill="#111"/>
<rect x="318.07" y="229.48" width="2.00" height="2.00" fill="#111"/>
<rect x="316.54" y="231.15" width="2.00" height="2.00" fill="#111"/>
<text x="320.70" y="253.70" font-size="7.4" fill="#2c2c2c" stroke="#2c2c2c" stroke-width="0.18" text-anchor="end" transform="rotate(-45 320.70 253.70)">GATA-3</text>
<line x1="329.80" y1="247.40" x2="329.80" y2="249.60" stroke="#5a5a5a" stroke-width="0.7"/>
<rect x="325.20" y="181.83" width="4.00" height="65.57" fill="#7b7b7b" stroke="#4d4d4d" stroke-width="0.45"/>
<line x1="327.20" y1="180.00" x2="327.20" y2="183.65" stroke="#3a3a3a" stroke-width="0.6"/>
<line x1="325.80" y1="180.00" x2="328.60" y2="180.00" stroke="#3a3a3a" stroke-width="0.6"/>
<circle cx="326.14" cy="184.46" r="1.00" fill="#111"/>
<circle cx="327.11" cy="181.30" r="1.00" fill="#111"/>
<circle cx="327.09" cy="183.66" r="1.00" fill="#111"/>
<circle cx="326.69" cy="180.40" r="1.00" fill="#111"/>
<circle cx="326.56" cy="182.82" r="1.00" fill="#111"/>
<circle cx="327.38" cy="184.46" r="1.00" fill="#111"/>
<rect x="330.10" y="181.83" width="4.60" height="65.57" fill="#d9d9d9" stroke="#4d4d4d" stroke-width="0.45"/>
<line x1="332.40" y1="180.00" x2="332.40" y2="183.65" stroke="#3a3a3a" stroke-width="0.6"/>
<line x1="331.00" y1="180.00" x2="333.80" y2="180.00" stroke="#3a3a3a" stroke-width="0.6"/>
<rect x="332.40" y="182.09" width="2.00" height="2.00" fill="#111"/>
<rect x="330.59" y="182.38" width="2.00" height="2.00" fill="#111"/>
<rect x="332.25" y="181.66" width="2.00" height="2.00" fill="#111"/>
<rect x="331.85" y="179.40" width="2.00" height="2.00" fill="#111"/>
<rect x="331.37" y="181.24" width="2.00" height="2.00" fill="#111"/>
<rect x="330.35" y="183.46" width="2.00" height="2.00" fill="#111"/>
<text x="334.90" y="253.70" font-size="7.4" fill="#2c2c2c" stroke="#2c2c2c" stroke-width="0.18" text-anchor="end" transform="rotate(-45 334.90 253.70)">GITR</text>
<line x1="344.00" y1="247.40" x2="344.00" y2="249.60" stroke="#5a5a5a" stroke-width="0.7"/>
<rect x="339.40" y="224.42" width="4.00" height="22.98" fill="#7b7b7b" stroke="#4d4d4d" stroke-width="0.45"/>
<line x1="341.40" y1="219.82" x2="341.40" y2="229.01" stroke="#3a3a3a" stroke-width="0.6"/>
<line x1="340.00" y1="219.82" x2="342.80" y2="219.82" stroke="#3a3a3a" stroke-width="0.6"/>
<circle cx="341.29" cy="229.23" r="1.00" fill="#111"/>
<circle cx="340.96" cy="224.52" r="1.00" fill="#111"/>
<circle cx="341.00" cy="226.82" r="1.00" fill="#111"/>
<circle cx="342.15" cy="227.35" r="1.00" fill="#111"/>
<circle cx="342.15" cy="231.04" r="1.00" fill="#111"/>
<circle cx="340.56" cy="224.49" r="1.00" fill="#111"/>
<rect x="344.30" y="227.12" width="4.60" height="20.28" fill="#d9d9d9" stroke="#4d4d4d" stroke-width="0.45"/>
<line x1="346.60" y1="223.06" x2="346.60" y2="231.18" stroke="#3a3a3a" stroke-width="0.6"/>
<line x1="345.20" y1="223.06" x2="348.00" y2="223.06" stroke="#3a3a3a" stroke-width="0.6"/>
<rect x="346.48" y="231.28" width="2.00" height="2.00" fill="#111"/>
<rect x="345.14" y="223.55" width="2.00" height="2.00" fill="#111"/>
<rect x="346.70" y="223.59" width="2.00" height="2.00" fill="#111"/>
<rect x="345.80" y="228.74" width="2.00" height="2.00" fill="#111"/>
<rect x="345.11" y="223.65" width="2.00" height="2.00" fill="#111"/>
<rect x="344.61" y="229.08" width="2.00" height="2.00" fill="#111"/>
<text x="349.10" y="253.70" font-size="7.4" fill="#2c2c2c" stroke="#2c2c2c" stroke-width="0.18" text-anchor="end" transform="rotate(-45 349.10 253.70)">Helios</text>
<line x1="358.20" y1="247.40" x2="358.20" y2="249.60" stroke="#5a5a5a" stroke-width="0.7"/>
<rect x="353.60" y="191.29" width="4.00" height="56.11" fill="#7b7b7b" stroke="#4d4d4d" stroke-width="0.45"/>
<line x1="355.60" y1="181.83" x2="355.60" y2="200.76" stroke="#3a3a3a" stroke-width="0.6"/>
<line x1="354.20" y1="181.83" x2="357.00" y2="181.83" stroke="#3a3a3a" stroke-width="0.6"/>
<circle cx="355.13" cy="204.26" r="1.00" fill="#111"/>
<circle cx="356.56" cy="200.93" r="1.00" fill="#111"/>
<circle cx="355.62" cy="191.32" r="1.00" fill="#111"/>
<circle cx="354.92" cy="197.99" r="1.00" fill="#111"/>
<circle cx="356.45" cy="180.40" r="1.00" fill="#111"/>
<circle cx="356.29" cy="204.92" r="1.00" fill="#111"/>
<rect x="358.50" y="187.24" width="4.60" height="60.16" fill="#d9d9d9" stroke="#4d4d4d" stroke-width="0.45"/>
<line x1="360.80" y1="180.54" x2="360.80" y2="193.93" stroke="#3a3a3a" stroke-width="0.6"/>
<line x1="359.40" y1="180.54" x2="362.20" y2="180.54" stroke="#3a3a3a" stroke-width="0.6"/>
<rect x="360.77" y="179.40" width="2.00" height="2.00" fill="#111"/>
<rect x="359.91" y="179.40" width="2.00" height="2.00" fill="#111"/>
<rect x="360.31" y="185.87" width="2.00" height="2.00" fill="#111"/>
<rect x="359.69" y="184.35" width="2.00" height="2.00" fill="#111"/>
<rect x="359.33" y="186.38" width="2.00" height="2.00" fill="#111"/>
<rect x="358.81" y="179.40" width="2.00" height="2.00" fill="#111"/>
<text x="363.30" y="253.70" font-size="7.4" fill="#2c2c2c" stroke="#2c2c2c" stroke-width="0.18" text-anchor="end" transform="rotate(-45 363.30 253.70)">ICOS</text>
<line x1="372.40" y1="247.40" x2="372.40" y2="249.60" stroke="#5a5a5a" stroke-width="0.7"/>
<rect x="367.80" y="215.63" width="4.00" height="31.77" fill="#7b7b7b" stroke="#4d4d4d" stroke-width="0.45"/>
<line x1="369.80" y1="209.27" x2="369.80" y2="221.98" stroke="#3a3a3a" stroke-width="0.6"/>
<line x1="368.40" y1="209.27" x2="371.20" y2="209.27" stroke="#3a3a3a" stroke-width="0.6"/>
<circle cx="369.74" cy="218.30" r="1.00" fill="#111"/>
<circle cx="369.46" cy="214.30" r="1.00" fill="#111"/>
<circle cx="370.85" cy="212.86" r="1.00" fill="#111"/>
<circle cx="369.27" cy="224.58" r="1.00" fill="#111"/>
<circle cx="369.93" cy="212.93" r="1.00" fill="#111"/>
<circle cx="369.57" cy="211.61" r="1.00" fill="#111"/>
<rect x="372.70" y="216.98" width="4.60" height="30.42" fill="#d9d9d9" stroke="#4d4d4d" stroke-width="0.45"/>
<line x1="375.00" y1="210.90" x2="375.00" y2="223.06" stroke="#3a3a3a" stroke-width="0.6"/>
<line x1="373.60" y1="210.90" x2="376.40" y2="210.90" stroke="#3a3a3a" stroke-width="0.6"/>
<rect x="373.36" y="217.59" width="2.00" height="2.00" fill="#111"/>
<rect x="374.89" y="218.80" width="2.00" height="2.00" fill="#111"/>
<rect x="374.89" y="212.12" width="2.00" height="2.00" fill="#111"/>
<rect x="375.09" y="216.05" width="2.00" height="2.00" fill="#111"/>
<rect x="373.32" y="213.12" width="2.00" height="2.00" fill="#111"/>
<rect x="373.10" y="216.91" width="2.00" height="2.00" fill="#111"/>
<text x="377.50" y="253.70" font-size="7.4" fill="#2c2c2c" stroke="#2c2c2c" stroke-width="0.18" text-anchor="end" transform="rotate(-45 377.50 253.70)">Ki-67</text>
<line x1="386.60" y1="247.40" x2="386.60" y2="249.60" stroke="#5a5a5a" stroke-width="0.7"/>
<rect x="382.00" y="246.05" width="4.00" height="1.35" fill="#7b7b7b" stroke="#4d4d4d" stroke-width="0.45"/>
<line x1="384.00" y1="245.51" x2="384.00" y2="246.59" stroke="#3a3a3a" stroke-width="0.6"/>
<line x1="382.60" y1="245.51" x2="385.40" y2="245.51" stroke="#3a3a3a" stroke-width="0.6"/>
<circle cx="383.43" cy="245.93" r="1.00" fill="#111"/>
<circle cx="383.47" cy="246.23" r="1.00" fill="#111"/>
<circle cx="384.55" cy="245.27" r="1.00" fill="#111"/>
<circle cx="383.81" cy="245.62" r="1.00" fill="#111"/>
<circle cx="383.73" cy="245.54" r="1.00" fill="#111"/>
<circle cx="383.64" cy="246.35" r="1.00" fill="#111"/>
<rect x="386.90" y="246.05" width="4.60" height="1.35" fill="#d9d9d9" stroke="#4d4d4d" stroke-width="0.45"/>
<line x1="389.20" y1="245.51" x2="389.20" y2="246.59" stroke="#3a3a3a" stroke-width="0.6"/>
<line x1="387.80" y1="245.51" x2="390.60" y2="245.51" stroke="#3a3a3a" stroke-width="0.6"/>
<rect x="389.23" y="245.41" width="2.00" height="2.00" fill="#111"/>
<rect x="387.38" y="245.20" width="2.00" height="2.00" fill="#111"/>
<rect x="389.00" y="244.36" width="2.00" height="2.00" fill="#111"/>
<rect x="387.58" y="245.03" width="2.00" height="2.00" fill="#111"/>
<rect x="387.98" y="245.00" width="2.00" height="2.00" fill="#111"/>
<rect x="388.08" y="245.41" width="2.00" height="2.00" fill="#111"/>
<text x="391.70" y="253.70" font-size="7.4" fill="#2c2c2c" stroke="#2c2c2c" stroke-width="0.18" text-anchor="end" transform="rotate(-45 391.70 253.70)">KLRG1</text>
<line x1="400.80" y1="247.40" x2="400.80" y2="249.60" stroke="#5a5a5a" stroke-width="0.7"/>
<rect x="396.20" y="216.98" width="4.00" height="30.42" fill="#7b7b7b" stroke="#4d4d4d" stroke-width="0.45"/>
<line x1="398.20" y1="210.90" x2="398.20" y2="223.06" stroke="#3a3a3a" stroke-width="0.6"/>
<line x1="396.80" y1="210.90" x2="399.60" y2="210.90" stroke="#3a3a3a" stroke-width="0.6"/>
<circle cx="399.02" cy="225.74" r="1.00" fill="#111"/>
<circle cx="397.15" cy="213.94" r="1.00" fill="#111"/>
<circle cx="399.07" cy="225.41" r="1.00" fill="#111"/>
<circle cx="398.14" cy="218.71" r="1.00" fill="#111"/>
<circle cx="397.96" cy="216.89" r="1.00" fill="#111"/>
<circle cx="399.14" cy="216.93" r="1.00" fill="#111"/>
<rect x="401.10" y="220.36" width="4.60" height="27.04" fill="#d9d9d9" stroke="#4d4d4d" stroke-width="0.45"/>
<line x1="403.40" y1="214.95" x2="403.40" y2="225.77" stroke="#3a3a3a" stroke-width="0.6"/>
<line x1="402.00" y1="214.95" x2="404.80" y2="214.95" stroke="#3a3a3a" stroke-width="0.6"/>
<rect x="403.44" y="223.74" width="2.00" height="2.00" fill="#111"/>
<rect x="401.85" y="211.57" width="2.00" height="2.00" fill="#111"/>
<rect x="402.45" y="221.54" width="2.00" height="2.00" fill="#111"/>
<rect x="402.80" y="221.14" width="2.00" height="2.00" fill="#111"/>
<rect x="402.72" y="226.62" width="2.00" height="2.00" fill="#111"/>
<rect x="402.98" y="216.56" width="2.00" height="2.00" fill="#111"/>
<text x="405.90" y="253.70" font-size="7.4" fill="#2c2c2c" stroke="#2c2c2c" stroke-width="0.18" text-anchor="end" transform="rotate(-45 405.90 253.70)">Nrp1</text>
<line x1="415.00" y1="247.40" x2="415.00" y2="249.60" stroke="#5a5a5a" stroke-width="0.7"/>
<rect x="410.40" y="191.29" width="4.00" height="56.11" fill="#7b7b7b" stroke="#4d4d4d" stroke-width="0.45"/>
<line x1="412.40" y1="183.86" x2="412.40" y2="198.73" stroke="#3a3a3a" stroke-width="0.6"/>
<line x1="411.00" y1="183.86" x2="413.80" y2="183.86" stroke="#3a3a3a" stroke-width="0.6"/>
<circle cx="411.39" cy="183.12" r="1.00" fill="#111"/>
<circle cx="413.02" cy="193.54" r="1.00" fill="#111"/>
<circle cx="412.72" cy="192.94" r="1.00" fill="#111"/>
<circle cx="411.97" cy="202.00" r="1.00" fill="#111"/>
<circle cx="412.70" cy="194.83" r="1.00" fill="#111"/>
<circle cx="412.84" cy="194.96" r="1.00" fill="#111"/>
<rect x="415.30" y="188.59" width="4.60" height="58.81" fill="#d9d9d9" stroke="#4d4d4d" stroke-width="0.45"/>
<line x1="417.60" y1="180.68" x2="417.60" y2="196.50" stroke="#3a3a3a" stroke-width="0.6"/>
<line x1="416.20" y1="180.68" x2="419.00" y2="180.68" stroke="#3a3a3a" stroke-width="0.6"/>
<rect x="416.65" y="189.66" width="2.00" height="2.00" fill="#111"/>
<rect x="416.78" y="189.35" width="2.00" height="2.00" fill="#111"/>
<rect x="416.82" y="183.73" width="2.00" height="2.00" fill="#111"/>
<rect x="415.52" y="190.86" width="2.00" height="2.00" fill="#111"/>
<rect x="417.61" y="185.07" width="2.00" height="2.00" fill="#111"/>
<rect x="416.92" y="195.09" width="2.00" height="2.00" fill="#111"/>
<text x="420.10" y="253.70" font-size="7.4" fill="#2c2c2c" stroke="#2c2c2c" stroke-width="0.18" text-anchor="end" transform="rotate(-45 420.10 253.70)">PD-1</text>
<line x1="429.20" y1="247.40" x2="429.20" y2="249.60" stroke="#5a5a5a" stroke-width="0.7"/>
<rect x="424.60" y="246.05" width="4.00" height="1.35" fill="#7b7b7b" stroke="#4d4d4d" stroke-width="0.45"/>
<line x1="426.60" y1="245.51" x2="426.60" y2="246.59" stroke="#3a3a3a" stroke-width="0.6"/>
<line x1="425.20" y1="245.51" x2="428.00" y2="245.51" stroke="#3a3a3a" stroke-width="0.6"/>
<circle cx="426.02" cy="246.46" r="1.00" fill="#111"/>
<circle cx="426.04" cy="245.68" r="1.00" fill="#111"/>
<circle cx="426.18" cy="246.50" r="1.00" fill="#111"/>
<circle cx="425.55" cy="245.86" r="1.00" fill="#111"/>
<circle cx="426.42" cy="245.32" r="1.00" fill="#111"/>
<circle cx="426.07" cy="246.06" r="1.00" fill="#111"/>
<rect x="429.50" y="246.05" width="4.60" height="1.35" fill="#d9d9d9" stroke="#4d4d4d" stroke-width="0.45"/>
<line x1="431.80" y1="245.51" x2="431.80" y2="246.59" stroke="#3a3a3a" stroke-width="0.6"/>
<line x1="430.40" y1="245.51" x2="433.20" y2="245.51" stroke="#3a3a3a" stroke-width="0.6"/>
<rect x="430.20" y="244.50" width="2.00" height="2.00" fill="#111"/>
<rect x="429.78" y="244.27" width="2.00" height="2.00" fill="#111"/>
<rect x="431.20" y="244.78" width="2.00" height="2.00" fill="#111"/>
<rect x="430.14" y="245.48" width="2.00" height="2.00" fill="#111"/>
<rect x="430.81" y="245.28" width="2.00" height="2.00" fill="#111"/>
<rect x="430.15" y="244.28" width="2.00" height="2.00" fill="#111"/>
<text x="434.30" y="253.70" font-size="7.4" fill="#2c2c2c" stroke="#2c2c2c" stroke-width="0.18" text-anchor="end" transform="rotate(-45 434.30 253.70)">ST2</text>
<line x1="443.40" y1="247.40" x2="443.40" y2="249.60" stroke="#5a5a5a" stroke-width="0.7"/>
<rect x="438.80" y="245.37" width="4.00" height="2.03" fill="#7b7b7b" stroke="#4d4d4d" stroke-width="0.45"/>
<line x1="440.80" y1="244.83" x2="440.80" y2="245.91" stroke="#3a3a3a" stroke-width="0.6"/>
<line x1="439.40" y1="244.83" x2="442.20" y2="244.83" stroke="#3a3a3a" stroke-width="0.6"/>
<circle cx="441.50" cy="245.79" r="1.00" fill="#111"/>
<circle cx="440.21" cy="245.29" r="1.00" fill="#111"/>
<circle cx="440.35" cy="245.52" r="1.00" fill="#111"/>
<circle cx="441.79" cy="246.15" r="1.00" fill="#111"/>
<circle cx="440.19" cy="245.06" r="1.00" fill="#111"/>
<circle cx="440.62" cy="245.38" r="1.00" fill="#111"/>
<rect x="443.70" y="245.37" width="4.60" height="2.03" fill="#d9d9d9" stroke="#4d4d4d" stroke-width="0.45"/>
<line x1="446.00" y1="244.83" x2="446.00" y2="245.91" stroke="#3a3a3a" stroke-width="0.6"/>
<line x1="444.60" y1="244.83" x2="447.40" y2="244.83" stroke="#3a3a3a" stroke-width="0.6"/>
<rect x="444.22" y="243.77" width="2.00" height="2.00" fill="#111"/>
<rect x="444.77" y="243.59" width="2.00" height="2.00" fill="#111"/>
<rect x="444.21" y="244.68" width="2.00" height="2.00" fill="#111"/>
<rect x="444.01" y="245.15" width="2.00" height="2.00" fill="#111"/>
<rect x="445.88" y="244.82" width="2.00" height="2.00" fill="#111"/>
<rect x="445.84" y="244.55" width="2.00" height="2.00" fill="#111"/>
<text x="448.50" y="253.70" font-size="7.4" fill="#2c2c2c" stroke="#2c2c2c" stroke-width="0.18" text-anchor="end" transform="rotate(-45 448.50 253.70)">T-bet</text>
<line x1="475.00" y1="179.80" x2="475.00" y2="247.40" stroke="#5a5a5a" stroke-width="0.8"/>
<line x1="473.40" y1="247.40" x2="475.00" y2="247.40" stroke="#5a5a5a" stroke-width="0.8"/>
<text x="471.50" y="250.10" font-size="7.7" fill="#2c2c2c" stroke="#2c2c2c" stroke-width="0.18" text-anchor="end">0</text>
<line x1="473.40" y1="233.88" x2="475.00" y2="233.88" stroke="#5a5a5a" stroke-width="0.8"/>
<text x="471.50" y="236.58" font-size="7.7" fill="#2c2c2c" stroke="#2c2c2c" stroke-width="0.18" text-anchor="end">20</text>
<line x1="473.40" y1="220.36" x2="475.00" y2="220.36" stroke="#5a5a5a" stroke-width="0.8"/>
<text x="471.50" y="223.06" font-size="7.7" fill="#2c2c2c" stroke="#2c2c2c" stroke-width="0.18" text-anchor="end">40</text>
<line x1="473.40" y1="206.84" x2="475.00" y2="206.84" stroke="#5a5a5a" stroke-width="0.8"/>
<text x="471.50" y="209.54" font-size="7.7" fill="#2c2c2c" stroke="#2c2c2c" stroke-width="0.18" text-anchor="end">60</text>
<line x1="473.40" y1="193.32" x2="475.00" y2="193.32" stroke="#5a5a5a" stroke-width="0.8"/>
<text x="471.50" y="196.02" font-size="7.7" fill="#2c2c2c" stroke="#2c2c2c" stroke-width="0.18" text-anchor="end">80</text>
<line x1="473.40" y1="179.80" x2="475.00" y2="179.80" stroke="#5a5a5a" stroke-width="0.8"/>
<text x="471.50" y="182.50" font-size="7.7" fill="#2c2c2c" stroke="#2c2c2c" stroke-width="0.18" text-anchor="end">100</text>
<line x1="475.00" y1="247.40" x2="672.90" y2="247.40" stroke="#5a5a5a" stroke-width="0.8"/>
<line x1="481.20" y1="247.40" x2="481.20" y2="249.60" stroke="#5a5a5a" stroke-width="0.7"/>
<rect x="476.60" y="202.11" width="4.00" height="45.29" fill="#7b7b7b" stroke="#4d4d4d" stroke-width="0.45"/>
<line x1="478.60" y1="196.70" x2="478.60" y2="207.52" stroke="#3a3a3a" stroke-width="0.6"/>
<line x1="477.20" y1="196.70" x2="480.00" y2="196.70" stroke="#3a3a3a" stroke-width="0.6"/>
<circle cx="479.55" cy="200.28" r="1.00" fill="#111"/>
<circle cx="478.22" cy="194.32" r="1.00" fill="#111"/>
<circle cx="479.14" cy="206.61" r="1.00" fill="#111"/>
<circle cx="477.57" cy="209.90" r="1.00" fill="#111"/>
<circle cx="478.32" cy="199.68" r="1.00" fill="#111"/>
<circle cx="478.23" cy="198.03" r="1.00" fill="#111"/>
<rect x="481.50" y="203.46" width="4.60" height="43.94" fill="#d9d9d9" stroke="#4d4d4d" stroke-width="0.45"/>
<line x1="483.80" y1="194.67" x2="483.80" y2="212.25" stroke="#3a3a3a" stroke-width="0.6"/>
<line x1="482.40" y1="194.67" x2="485.20" y2="194.67" stroke="#3a3a3a" stroke-width="0.6"/>
<rect x="482.32" y="202.75" width="2.00" height="2.00" fill="#111"/>
<rect x="482.47" y="202.98" width="2.00" height="2.00" fill="#111"/>
<rect x="483.82" y="206.37" width="2.00" height="2.00" fill="#111"/>
<rect x="482.16" y="201.34" width="2.00" height="2.00" fill="#111"/>
<rect x="483.51" y="193.34" width="2.00" height="2.00" fill="#111"/>
<rect x="482.65" y="213.97" width="2.00" height="2.00" fill="#111"/>
<text x="486.30" y="253.70" font-size="7.4" fill="#2c2c2c" stroke="#2c2c2c" stroke-width="0.18" text-anchor="end" transform="rotate(-45 486.30 253.70)">CD69</text>
<line x1="495.45" y1="247.40" x2="495.45" y2="249.60" stroke="#5a5a5a" stroke-width="0.7"/>
<rect x="490.85" y="221.04" width="4.00" height="26.36" fill="#7b7b7b" stroke="#4d4d4d" stroke-width="0.45"/>
<line x1="492.85" y1="215.76" x2="492.85" y2="226.31" stroke="#3a3a3a" stroke-width="0.6"/>
<line x1="491.45" y1="215.76" x2="494.25" y2="215.76" stroke="#3a3a3a" stroke-width="0.6"/>
<circle cx="492.57" cy="226.16" r="1.00" fill="#111"/>
<circle cx="493.77" cy="222.67" r="1.00" fill="#111"/>
<circle cx="493.72" cy="222.62" r="1.00" fill="#111"/>
<circle cx="491.82" cy="225.27" r="1.00" fill="#111"/>
<circle cx="493.44" cy="213.69" r="1.00" fill="#111"/>
<circle cx="491.84" cy="225.65" r="1.00" fill="#111"/>
<rect x="495.75" y="221.04" width="4.60" height="26.36" fill="#d9d9d9" stroke="#4d4d4d" stroke-width="0.45"/>
<line x1="498.05" y1="215.76" x2="498.05" y2="226.31" stroke="#3a3a3a" stroke-width="0.6"/>
<line x1="496.65" y1="215.76" x2="499.45" y2="215.76" stroke="#3a3a3a" stroke-width="0.6"/>
<rect x="497.97" y="221.70" width="2.00" height="2.00" fill="#111"/>
<rect x="496.52" y="220.41" width="2.00" height="2.00" fill="#111"/>
<rect x="496.70" y="219.86" width="2.00" height="2.00" fill="#111"/>
<rect x="496.55" y="212.44" width="2.00" height="2.00" fill="#111"/>
<rect x="496.53" y="226.38" width="2.00" height="2.00" fill="#111"/>
<rect x="497.53" y="218.31" width="2.00" height="2.00" fill="#111"/>
<text x="500.55" y="253.70" font-size="7.4" fill="#2c2c2c" stroke="#2c2c2c" stroke-width="0.18" text-anchor="end" transform="rotate(-45 500.55 253.70)">CD103</text>
<line x1="509.70" y1="247.40" x2="509.70" y2="249.60" stroke="#5a5a5a" stroke-width="0.7"/>
<rect x="505.10" y="212.92" width="4.00" height="34.48" fill="#7b7b7b" stroke="#4d4d4d" stroke-width="0.45"/>
<line x1="507.10" y1="200.08" x2="507.10" y2="225.77" stroke="#3a3a3a" stroke-width="0.6"/>
<line x1="505.70" y1="200.08" x2="508.50" y2="200.08" stroke="#3a3a3a" stroke-width="0.6"/>
<circle cx="506.01" cy="209.16" r="1.00" fill="#111"/>
<circle cx="507.66" cy="221.41" r="1.00" fill="#111"/>
<circle cx="508.08" cy="227.11" r="1.00" fill="#111"/>
<circle cx="506.05" cy="204.71" r="1.00" fill="#111"/>
<circle cx="508.10" cy="214.25" r="1.00" fill="#111"/>
<circle cx="508.10" cy="225.98" r="1.00" fill="#111"/>
<rect x="510.00" y="210.22" width="4.60" height="37.18" fill="#d9d9d9" stroke="#4d4d4d" stroke-width="0.45"/>
<line x1="512.30" y1="202.11" x2="512.30" y2="218.33" stroke="#3a3a3a" stroke-width="0.6"/>
<line x1="510.90" y1="202.11" x2="513.70" y2="202.11" stroke="#3a3a3a" stroke-width="0.6"/>
<rect x="511.15" y="205.02" width="2.00" height="2.00" fill="#111"/>
<rect x="511.29" y="212.85" width="2.00" height="2.00" fill="#111"/>
<rect x="511.97" y="213.40" width="2.00" height="2.00" fill="#111"/>
<rect x="511.82" y="207.19" width="2.00" height="2.00" fill="#111"/>
<rect x="511.54" y="214.77" width="2.00" height="2.00" fill="#111"/>
<rect x="510.92" y="197.94" width="2.00" height="2.00" fill="#111"/>
<text x="514.80" y="253.70" font-size="7.4" fill="#2c2c2c" stroke="#2c2c2c" stroke-width="0.18" text-anchor="end" transform="rotate(-45 514.80 253.70)">CD127</text>
<line x1="523.95" y1="247.40" x2="523.95" y2="249.60" stroke="#5a5a5a" stroke-width="0.7"/>
<rect x="519.35" y="181.83" width="4.00" height="65.57" fill="#7b7b7b" stroke="#4d4d4d" stroke-width="0.45"/>
<line x1="521.35" y1="180.00" x2="521.35" y2="183.65" stroke="#3a3a3a" stroke-width="0.6"/>
<line x1="519.95" y1="180.00" x2="522.75" y2="180.00" stroke="#3a3a3a" stroke-width="0.6"/>
<circle cx="521.97" cy="181.17" r="1.00" fill="#111"/>
<circle cx="520.42" cy="183.24" r="1.00" fill="#111"/>
<circle cx="520.79" cy="182.72" r="1.00" fill="#111"/>
<circle cx="520.39" cy="184.43" r="1.00" fill="#111"/>
<circle cx="520.97" cy="183.86" r="1.00" fill="#111"/>
<circle cx="522.41" cy="182.27" r="1.00" fill="#111"/>
<rect x="524.25" y="181.83" width="4.60" height="65.57" fill="#d9d9d9" stroke="#4d4d4d" stroke-width="0.45"/>
<line x1="526.55" y1="180.00" x2="526.55" y2="183.65" stroke="#3a3a3a" stroke-width="0.6"/>
<line x1="525.15" y1="180.00" x2="527.95" y2="180.00" stroke="#3a3a3a" stroke-width="0.6"/>
<rect x="525.03" y="183.46" width="2.00" height="2.00" fill="#111"/>
<rect x="524.63" y="179.40" width="2.00" height="2.00" fill="#111"/>
<rect x="526.01" y="182.41" width="2.00" height="2.00" fill="#111"/>
<rect x="525.43" y="181.93" width="2.00" height="2.00" fill="#111"/>
<rect x="525.81" y="181.00" width="2.00" height="2.00" fill="#111"/>
<rect x="525.93" y="182.53" width="2.00" height="2.00" fill="#111"/>
<text x="529.05" y="253.70" font-size="7.4" fill="#2c2c2c" stroke="#2c2c2c" stroke-width="0.18" text-anchor="end" transform="rotate(-45 529.05 253.70)">CTLA-4</text>
<line x1="538.20" y1="247.40" x2="538.20" y2="249.60" stroke="#5a5a5a" stroke-width="0.7"/>
<rect x="533.60" y="230.84" width="4.00" height="16.56" fill="#7b7b7b" stroke="#4d4d4d" stroke-width="0.45"/>
<line x1="535.60" y1="227.53" x2="535.60" y2="234.15" stroke="#3a3a3a" stroke-width="0.6"/>
<line x1="534.20" y1="227.53" x2="537.00" y2="227.53" stroke="#3a3a3a" stroke-width="0.6"/>
<circle cx="535.96" cy="230.76" r="1.00" fill="#111"/>
<circle cx="534.77" cy="226.07" r="1.00" fill="#111"/>
<circle cx="535.75" cy="232.18" r="1.00" fill="#111"/>
<circle cx="535.32" cy="228.75" r="1.00" fill="#111"/>
<circle cx="535.04" cy="230.69" r="1.00" fill="#111"/>
<circle cx="535.04" cy="228.86" r="1.00" fill="#111"/>
<rect x="538.50" y="232.87" width="4.60" height="14.53" fill="#d9d9d9" stroke="#4d4d4d" stroke-width="0.45"/>
<line x1="540.80" y1="229.96" x2="540.80" y2="235.77" stroke="#3a3a3a" stroke-width="0.6"/>
<line x1="539.40" y1="229.96" x2="542.20" y2="229.96" stroke="#3a3a3a" stroke-width="0.6"/>
<rect x="539.97" y="234.97" width="2.00" height="2.00" fill="#111"/>
<rect x="539.42" y="236.05" width="2.00" height="2.00" fill="#111"/>
<rect x="539.82" y="227.68" width="2.00" height="2.00" fill="#111"/>
<rect x="539.21" y="236.05" width="2.00" height="2.00" fill="#111"/>
<rect x="540.88" y="233.23" width="2.00" height="2.00" fill="#111"/>
<rect x="538.93" y="228.31" width="2.00" height="2.00" fill="#111"/>
<text x="543.30" y="253.70" font-size="7.4" fill="#2c2c2c" stroke="#2c2c2c" stroke-width="0.18" text-anchor="end" transform="rotate(-45 543.30 253.70)">GATA-3</text>
<line x1="552.45" y1="247.40" x2="552.45" y2="249.60" stroke="#5a5a5a" stroke-width="0.7"/>
<rect x="547.85" y="180.48" width="4.00" height="66.92" fill="#7b7b7b" stroke="#4d4d4d" stroke-width="0.45"/>
<line x1="549.85" y1="179.87" x2="549.85" y2="181.08" stroke="#3a3a3a" stroke-width="0.6"/>
<line x1="548.45" y1="179.87" x2="551.25" y2="179.87" stroke="#3a3a3a" stroke-width="0.6"/>
<circle cx="550.60" cy="180.40" r="1.00" fill="#111"/>
<circle cx="550.76" cy="180.64" r="1.00" fill="#111"/>
<circle cx="549.01" cy="180.92" r="1.00" fill="#111"/>
<circle cx="549.17" cy="180.59" r="1.00" fill="#111"/>
<circle cx="550.80" cy="181.19" r="1.00" fill="#111"/>
<circle cx="549.57" cy="180.40" r="1.00" fill="#111"/>
<rect x="552.75" y="180.48" width="4.60" height="66.92" fill="#d9d9d9" stroke="#4d4d4d" stroke-width="0.45"/>
<line x1="555.05" y1="179.87" x2="555.05" y2="181.08" stroke="#3a3a3a" stroke-width="0.6"/>
<line x1="553.65" y1="179.87" x2="556.45" y2="179.87" stroke="#3a3a3a" stroke-width="0.6"/>
<rect x="553.52" y="179.87" width="2.00" height="2.00" fill="#111"/>
<rect x="554.66" y="179.40" width="2.00" height="2.00" fill="#111"/>
<rect x="554.26" y="179.72" width="2.00" height="2.00" fill="#111"/>
<rect x="554.31" y="179.40" width="2.00" height="2.00" fill="#111"/>
<rect x="553.26" y="179.58" width="2.00" height="2.00" fill="#111"/>
<rect x="553.40" y="179.99" width="2.00" height="2.00" fill="#111"/>
<text x="557.55" y="253.70" font-size="7.4" fill="#2c2c2c" stroke="#2c2c2c" stroke-width="0.18" text-anchor="end" transform="rotate(-45 557.55 253.70)">GITR</text>
<line x1="566.70" y1="247.40" x2="566.70" y2="249.60" stroke="#5a5a5a" stroke-width="0.7"/>
<rect x="562.10" y="191.29" width="4.00" height="56.11" fill="#7b7b7b" stroke="#4d4d4d" stroke-width="0.45"/>
<line x1="564.10" y1="181.83" x2="564.10" y2="200.76" stroke="#3a3a3a" stroke-width="0.6"/>
<line x1="562.70" y1="181.83" x2="565.50" y2="181.83" stroke="#3a3a3a" stroke-width="0.6"/>
<circle cx="564.43" cy="190.94" r="1.00" fill="#111"/>
<circle cx="563.45" cy="202.81" r="1.00" fill="#111"/>
<circle cx="564.49" cy="198.86" r="1.00" fill="#111"/>
<circle cx="563.41" cy="191.83" r="1.00" fill="#111"/>
<circle cx="564.75" cy="189.10" r="1.00" fill="#111"/>
<circle cx="564.21" cy="196.60" r="1.00" fill="#111"/>
<rect x="567.00" y="191.97" width="4.60" height="55.43" fill="#d9d9d9" stroke="#4d4d4d" stroke-width="0.45"/>
<line x1="569.30" y1="182.50" x2="569.30" y2="201.43" stroke="#3a3a3a" stroke-width="0.6"/>
<line x1="567.90" y1="182.50" x2="570.70" y2="182.50" stroke="#3a3a3a" stroke-width="0.6"/>
<rect x="568.07" y="194.60" width="2.00" height="2.00" fill="#111"/>
<rect x="568.41" y="192.49" width="2.00" height="2.00" fill="#111"/>
<rect x="567.56" y="188.58" width="2.00" height="2.00" fill="#111"/>
<rect x="568.73" y="188.11" width="2.00" height="2.00" fill="#111"/>
<rect x="567.88" y="185.10" width="2.00" height="2.00" fill="#111"/>
<rect x="569.30" y="194.70" width="2.00" height="2.00" fill="#111"/>
<text x="571.80" y="253.70" font-size="7.4" fill="#2c2c2c" stroke="#2c2c2c" stroke-width="0.18" text-anchor="end" transform="rotate(-45 571.80 253.70)">Helios</text>
<line x1="580.95" y1="247.40" x2="580.95" y2="249.60" stroke="#5a5a5a" stroke-width="0.7"/>
<rect x="576.35" y="183.86" width="4.00" height="63.54" fill="#7b7b7b" stroke="#4d4d4d" stroke-width="0.45"/>
<line x1="578.35" y1="180.21" x2="578.35" y2="187.51" stroke="#3a3a3a" stroke-width="0.6"/>
<line x1="576.95" y1="180.21" x2="579.75" y2="180.21" stroke="#3a3a3a" stroke-width="0.6"/>
<circle cx="578.04" cy="182.23" r="1.00" fill="#111"/>
<circle cx="578.17" cy="187.78" r="1.00" fill="#111"/>
<circle cx="578.05" cy="189.11" r="1.00" fill="#111"/>
<circle cx="577.68" cy="180.40" r="1.00" fill="#111"/>
<circle cx="577.26" cy="183.55" r="1.00" fill="#111"/>
<circle cx="579.23" cy="181.66" r="1.00" fill="#111"/>
<rect x="581.25" y="183.18" width="4.60" height="64.22" fill="#d9d9d9" stroke="#4d4d4d" stroke-width="0.45"/>
<line x1="583.55" y1="180.14" x2="583.55" y2="186.22" stroke="#3a3a3a" stroke-width="0.6"/>
<line x1="582.15" y1="180.14" x2="584.95" y2="180.14" stroke="#3a3a3a" stroke-width="0.6"/>
<rect x="582.34" y="179.40" width="2.00" height="2.00" fill="#111"/>
<rect x="583.39" y="184.52" width="2.00" height="2.00" fill="#111"/>
<rect x="581.48" y="180.60" width="2.00" height="2.00" fill="#111"/>
<rect x="582.66" y="182.58" width="2.00" height="2.00" fill="#111"/>
<rect x="581.65" y="179.40" width="2.00" height="2.00" fill="#111"/>
<rect x="582.82" y="179.40" width="2.00" height="2.00" fill="#111"/>
<text x="586.05" y="253.70" font-size="7.4" fill="#2c2c2c" stroke="#2c2c2c" stroke-width="0.18" text-anchor="end" transform="rotate(-45 586.05 253.70)">ICOS</text>
<line x1="595.20" y1="247.40" x2="595.20" y2="249.60" stroke="#5a5a5a" stroke-width="0.7"/>
<rect x="590.60" y="210.90" width="4.00" height="36.50" fill="#7b7b7b" stroke="#4d4d4d" stroke-width="0.45"/>
<line x1="592.60" y1="204.81" x2="592.60" y2="216.98" stroke="#3a3a3a" stroke-width="0.6"/>
<line x1="591.20" y1="204.81" x2="594.00" y2="204.81" stroke="#3a3a3a" stroke-width="0.6"/>
<circle cx="591.82" cy="206.43" r="1.00" fill="#111"/>
<circle cx="592.12" cy="215.60" r="1.00" fill="#111"/>
<circle cx="591.74" cy="202.14" r="1.00" fill="#111"/>
<circle cx="592.58" cy="209.24" r="1.00" fill="#111"/>
<circle cx="591.93" cy="215.72" r="1.00" fill="#111"/>
<circle cx="591.78" cy="202.14" r="1.00" fill="#111"/>
<rect x="595.50" y="212.25" width="4.60" height="35.15" fill="#d9d9d9" stroke="#4d4d4d" stroke-width="0.45"/>
<line x1="597.80" y1="205.22" x2="597.80" y2="219.28" stroke="#3a3a3a" stroke-width="0.6"/>
<line x1="596.40" y1="205.22" x2="599.20" y2="205.22" stroke="#3a3a3a" stroke-width="0.6"/>
<rect x="596.76" y="221.37" width="2.00" height="2.00" fill="#111"/>
<rect x="595.82" y="205.21" width="2.00" height="2.00" fill="#111"/>
<rect x="597.69" y="216.85" width="2.00" height="2.00" fill="#111"/>
<rect x="597.06" y="208.44" width="2.00" height="2.00" fill="#111"/>
<rect x="597.43" y="212.94" width="2.00" height="2.00" fill="#111"/>
<rect x="596.19" y="207.91" width="2.00" height="2.00" fill="#111"/>
<text x="600.30" y="253.70" font-size="7.4" fill="#2c2c2c" stroke="#2c2c2c" stroke-width="0.18" text-anchor="end" transform="rotate(-45 600.30 253.70)">Ki-67</text>
<line x1="609.45" y1="247.40" x2="609.45" y2="249.60" stroke="#5a5a5a" stroke-width="0.7"/>
<rect x="604.85" y="231.18" width="4.00" height="16.22" fill="#7b7b7b" stroke="#4d4d4d" stroke-width="0.45"/>
<line x1="606.85" y1="227.93" x2="606.85" y2="234.42" stroke="#3a3a3a" stroke-width="0.6"/>
<line x1="605.45" y1="227.93" x2="608.25" y2="227.93" stroke="#3a3a3a" stroke-width="0.6"/>
<circle cx="607.57" cy="226.51" r="1.00" fill="#111"/>
<circle cx="606.15" cy="234.37" r="1.00" fill="#111"/>
<circle cx="606.89" cy="231.76" r="1.00" fill="#111"/>
<circle cx="606.59" cy="234.07" r="1.00" fill="#111"/>
<circle cx="607.34" cy="232.75" r="1.00" fill="#111"/>
<circle cx="607.72" cy="232.71" r="1.00" fill="#111"/>
<rect x="609.75" y="231.85" width="4.60" height="15.55" fill="#d9d9d9" stroke="#4d4d4d" stroke-width="0.45"/>
<line x1="612.05" y1="228.74" x2="612.05" y2="234.96" stroke="#3a3a3a" stroke-width="0.6"/>
<line x1="610.65" y1="228.74" x2="613.45" y2="228.74" stroke="#3a3a3a" stroke-width="0.6"/>
<rect x="611.62" y="234.33" width="2.00" height="2.00" fill="#111"/>
<rect x="610.03" y="231.77" width="2.00" height="2.00" fill="#111"/>
<rect x="611.27" y="231.59" width="2.00" height="2.00" fill="#111"/>
<rect x="611.16" y="229.66" width="2.00" height="2.00" fill="#111"/>
<rect x="610.87" y="229.18" width="2.00" height="2.00" fill="#111"/>
<rect x="611.23" y="229.14" width="2.00" height="2.00" fill="#111"/>
<text x="614.55" y="253.70" font-size="7.4" fill="#2c2c2c" stroke="#2c2c2c" stroke-width="0.18" text-anchor="end" transform="rotate(-45 614.55 253.70)">KLRG1</text>
<line x1="623.70" y1="247.40" x2="623.70" y2="249.60" stroke="#5a5a5a" stroke-width="0.7"/>
<rect x="619.10" y="204.81" width="4.00" height="42.59" fill="#7b7b7b" stroke="#4d4d4d" stroke-width="0.45"/>
<line x1="621.10" y1="196.29" x2="621.10" y2="213.33" stroke="#3a3a3a" stroke-width="0.6"/>
<line x1="619.70" y1="196.29" x2="622.50" y2="196.29" stroke="#3a3a3a" stroke-width="0.6"/>
<circle cx="620.98" cy="194.77" r="1.00" fill="#111"/>
<circle cx="620.96" cy="209.87" r="1.00" fill="#111"/>
<circle cx="621.08" cy="215.35" r="1.00" fill="#111"/>
<circle cx="620.52" cy="206.37" r="1.00" fill="#111"/>
<circle cx="621.01" cy="205.95" r="1.00" fill="#111"/>
<circle cx="620.40" cy="192.55" r="1.00" fill="#111"/>
<rect x="624.00" y="205.49" width="4.60" height="41.91" fill="#d9d9d9" stroke="#4d4d4d" stroke-width="0.45"/>
<line x1="626.30" y1="197.11" x2="626.30" y2="213.87" stroke="#3a3a3a" stroke-width="0.6"/>
<line x1="624.90" y1="197.11" x2="627.70" y2="197.11" stroke="#3a3a3a" stroke-width="0.6"/>
<rect x="624.48" y="200.95" width="2.00" height="2.00" fill="#111"/>
<rect x="625.15" y="205.09" width="2.00" height="2.00" fill="#111"/>
<rect x="625.32" y="211.32" width="2.00" height="2.00" fill="#111"/>
<rect x="624.29" y="208.93" width="2.00" height="2.00" fill="#111"/>
<rect x="625.81" y="202.44" width="2.00" height="2.00" fill="#111"/>
<rect x="625.91" y="202.12" width="2.00" height="2.00" fill="#111"/>
<text x="628.80" y="253.70" font-size="7.4" fill="#2c2c2c" stroke="#2c2c2c" stroke-width="0.18" text-anchor="end" transform="rotate(-45 628.80 253.70)">Nrp1</text>
<line x1="637.95" y1="247.40" x2="637.95" y2="249.60" stroke="#5a5a5a" stroke-width="0.7"/>
<rect x="633.35" y="195.35" width="4.00" height="52.05" fill="#7b7b7b" stroke="#4d4d4d" stroke-width="0.45"/>
<line x1="635.35" y1="185.88" x2="635.35" y2="204.81" stroke="#3a3a3a" stroke-width="0.6"/>
<line x1="633.95" y1="185.88" x2="636.75" y2="185.88" stroke="#3a3a3a" stroke-width="0.6"/>
<circle cx="635.36" cy="192.51" r="1.00" fill="#111"/>
<circle cx="635.08" cy="195.14" r="1.00" fill="#111"/>
<circle cx="636.14" cy="199.74" r="1.00" fill="#111"/>
<circle cx="636.44" cy="193.95" r="1.00" fill="#111"/>
<circle cx="634.68" cy="193.59" r="1.00" fill="#111"/>
<circle cx="636.41" cy="181.72" r="1.00" fill="#111"/>
<rect x="638.25" y="196.70" width="4.60" height="50.70" fill="#d9d9d9" stroke="#4d4d4d" stroke-width="0.45"/>
<line x1="640.55" y1="187.24" x2="640.55" y2="206.16" stroke="#3a3a3a" stroke-width="0.6"/>
<line x1="639.15" y1="187.24" x2="641.95" y2="187.24" stroke="#3a3a3a" stroke-width="0.6"/>
<rect x="640.47" y="182.07" width="2.00" height="2.00" fill="#111"/>
<rect x="638.81" y="196.79" width="2.00" height="2.00" fill="#111"/>
<rect x="638.59" y="200.40" width="2.00" height="2.00" fill="#111"/>
<rect x="639.22" y="182.07" width="2.00" height="2.00" fill="#111"/>
<rect x="640.42" y="195.89" width="2.00" height="2.00" fill="#111"/>
<rect x="639.05" y="190.70" width="2.00" height="2.00" fill="#111"/>
<text x="643.05" y="253.70" font-size="7.4" fill="#2c2c2c" stroke="#2c2c2c" stroke-width="0.18" text-anchor="end" transform="rotate(-45 643.05 253.70)">PD-1</text>
<line x1="652.20" y1="247.40" x2="652.20" y2="249.60" stroke="#5a5a5a" stroke-width="0.7"/>
<rect x="647.60" y="229.15" width="4.00" height="18.25" fill="#7b7b7b" stroke="#4d4d4d" stroke-width="0.45"/>
<line x1="649.60" y1="225.50" x2="649.60" y2="232.80" stroke="#3a3a3a" stroke-width="0.6"/>
<line x1="648.20" y1="225.50" x2="651.00" y2="225.50" stroke="#3a3a3a" stroke-width="0.6"/>
<circle cx="649.60" cy="229.88" r="1.00" fill="#111"/>
<circle cx="650.52" cy="227.47" r="1.00" fill="#111"/>
<circle cx="649.61" cy="229.81" r="1.00" fill="#111"/>
<circle cx="649.20" cy="231.63" r="1.00" fill="#111"/>
<circle cx="648.85" cy="231.18" r="1.00" fill="#111"/>
<circle cx="650.56" cy="229.63" r="1.00" fill="#111"/>
<rect x="652.50" y="230.50" width="4.60" height="16.90" fill="#d9d9d9" stroke="#4d4d4d" stroke-width="0.45"/>
<line x1="654.80" y1="227.12" x2="654.80" y2="233.88" stroke="#3a3a3a" stroke-width="0.6"/>
<line x1="653.40" y1="227.12" x2="656.20" y2="227.12" stroke="#3a3a3a" stroke-width="0.6"/>
<rect x="653.07" y="226.74" width="2.00" height="2.00" fill="#111"/>
<rect x="654.43" y="224.63" width="2.00" height="2.00" fill="#111"/>
<rect x="654.10" y="232.31" width="2.00" height="2.00" fill="#111"/>
<rect x="653.49" y="231.98" width="2.00" height="2.00" fill="#111"/>
<rect x="653.98" y="232.20" width="2.00" height="2.00" fill="#111"/>
<rect x="654.64" y="226.73" width="2.00" height="2.00" fill="#111"/>
<text x="657.30" y="253.70" font-size="7.4" fill="#2c2c2c" stroke="#2c2c2c" stroke-width="0.18" text-anchor="end" transform="rotate(-45 657.30 253.70)">ST2</text>
<line x1="666.45" y1="247.40" x2="666.45" y2="249.60" stroke="#5a5a5a" stroke-width="0.7"/>
<rect x="661.85" y="246.72" width="4.00" height="0.68" fill="#7b7b7b" stroke="#4d4d4d" stroke-width="0.45"/>
<line x1="663.85" y1="246.18" x2="663.85" y2="247.26" stroke="#3a3a3a" stroke-width="0.6"/>
<line x1="662.45" y1="246.18" x2="665.25" y2="246.18" stroke="#3a3a3a" stroke-width="0.6"/>
<circle cx="664.14" cy="246.50" r="1.00" fill="#111"/>
<circle cx="663.62" cy="246.50" r="1.00" fill="#111"/>
<circle cx="664.93" cy="246.50" r="1.00" fill="#111"/>
<circle cx="664.02" cy="246.36" r="1.00" fill="#111"/>
<circle cx="663.72" cy="246.20" r="1.00" fill="#111"/>
<circle cx="663.14" cy="246.50" r="1.00" fill="#111"/>
<rect x="666.75" y="246.72" width="4.60" height="0.68" fill="#d9d9d9" stroke="#4d4d4d" stroke-width="0.45"/>
<line x1="669.05" y1="246.18" x2="669.05" y2="247.26" stroke="#3a3a3a" stroke-width="0.6"/>
<line x1="667.65" y1="246.18" x2="670.45" y2="246.18" stroke="#3a3a3a" stroke-width="0.6"/>
<rect x="668.75" y="245.50" width="2.00" height="2.00" fill="#111"/>
<rect x="667.51" y="245.50" width="2.00" height="2.00" fill="#111"/>
<rect x="668.24" y="244.95" width="2.00" height="2.00" fill="#111"/>
<rect x="668.41" y="244.95" width="2.00" height="2.00" fill="#111"/>
<rect x="667.02" y="245.50" width="2.00" height="2.00" fill="#111"/>
<rect x="667.28" y="245.50" width="2.00" height="2.00" fill="#111"/>
<text x="671.55" y="253.70" font-size="7.4" fill="#2c2c2c" stroke="#2c2c2c" stroke-width="0.18" text-anchor="end" transform="rotate(-45 671.55 253.70)">T-bet</text>
<text x="7.60" y="233.00" font-size="8.3" fill="#2c2c2c" stroke="#2c2c2c" stroke-width="0.18" textLength="40" lengthAdjust="spacingAndGlyphs" transform="rotate(-90 7.60 233.00)">% of  CD8<tspan font-size="5.6" dy="-3">+</tspan></text>
<text x="233.00" y="249.00" font-size="8.3" fill="#2c2c2c" stroke="#2c2c2c" stroke-width="0.18" textLength="71.7" lengthAdjust="spacingAndGlyphs" transform="rotate(-90 233.00 249.00)">% of  CD4<tspan font-size="5.6" dy="-3">+</tspan><tspan dy="3"> Foxp3</tspan><tspan font-size="5.6" dy="-3">neg</tspan></text>
<text x="462.80" y="245.80" font-size="8.3" fill="#2c2c2c" stroke="#2c2c2c" stroke-width="0.18" textLength="68.5" lengthAdjust="spacingAndGlyphs" transform="rotate(-90 462.80 245.80)">% of  CD4<tspan font-size="5.6" dy="-3">+</tspan><tspan dy="3"> Foxp3</tspan><tspan font-size="5.6" dy="-3">+</tspan></text>
<text x="38.50" y="176.70" font-size="9.1" fill="#333" stroke="#333" stroke-width="0.18" textLength="171.80" lengthAdjust="spacingAndGlyphs">Surface markers &amp; Transcription factors- CD8</text>
<text x="261.60" y="176.80" font-size="9.1" fill="#333" stroke="#333" stroke-width="0.18" textLength="153.00" lengthAdjust="spacingAndGlyphs">Surface markers &amp; Transcription factors-</text>
<text x="417.60" y="176.80" font-size="9.1" fill="#333" stroke="#333" stroke-width="0.18">T</text>
<text x="422.60" y="179.00" font-size="6.4" fill="#333" stroke="#333" stroke-width="0.18" textLength="13.00" lengthAdjust="spacingAndGlyphs">conv</text>
<text x="489.50" y="176.80" font-size="9.1" fill="#333" stroke="#333" stroke-width="0.18" textLength="151.50" lengthAdjust="spacingAndGlyphs">Surface markers &amp; Transcription factors-</text>
<text x="643.80" y="176.80" font-size="9.1" fill="#333" stroke="#333" stroke-width="0.18">T</text>
<text x="650.60" y="179.00" font-size="6.4" fill="#333" stroke="#333" stroke-width="0.18" textLength="9.20" lengthAdjust="spacingAndGlyphs">reg</text>
<circle cx="630.00" cy="154.20" r="2.90" fill="#6e6e6e"/>
<text x="636.40" y="156.80" font-size="8.5" fill="#2c2c2c" stroke="#2c2c2c" stroke-width="0.18" textLength="21.50" lengthAdjust="spacingAndGlyphs">Trub1</text>
<text x="658.00" y="153.40" font-size="6.0" fill="#2c2c2c" stroke="#2c2c2c" stroke-width="0.18" textLength="10.00" lengthAdjust="spacingAndGlyphs">WT</text>
<rect x="627.00" y="160.40" width="5.90" height="5.20" fill="#d4d4d4"/>
<text x="636.40" y="166.30" font-size="8.5" fill="#5a5a5a" stroke="#5a5a5a" stroke-width="0.18" textLength="21.90" lengthAdjust="spacingAndGlyphs">Trub1</text>
<text x="659.50" y="162.60" font-size="6.0" fill="#5a5a5a" stroke="#5a5a5a" stroke-width="0.18" textLength="19.20" lengthAdjust="spacingAndGlyphs">ALL-KO</text>
<line x1="23.20" y1="291.30" x2="23.20" y2="321.20" stroke="#5a5a5a" stroke-width="0.8"/>
<line x1="23.20" y1="327.20" x2="23.20" y2="358.00" stroke="#5a5a5a" stroke-width="0.8"/>
<line x1="21.60" y1="321.20" x2="23.20" y2="321.20" stroke="#5a5a5a" stroke-width="0.8"/>
<line x1="21.60" y1="327.20" x2="23.20" y2="327.20" stroke="#5a5a5a" stroke-width="0.8"/>
<line x1="21.60" y1="297.20" x2="23.20" y2="297.20" stroke="#5a5a5a" stroke-width="0.8"/>
<text x="19.70" y="299.90" font-size="7.7" fill="#2c2c2c" stroke="#2c2c2c" stroke-width="0.18" text-anchor="end">40</text>
<line x1="21.60" y1="310.30" x2="23.20" y2="310.30" stroke="#5a5a5a" stroke-width="0.8"/>
<text x="19.70" y="313.00" font-size="7.7" fill="#2c2c2c" stroke="#2c2c2c" stroke-width="0.18" text-anchor="end">20</text>
<line x1="21.60" y1="327.20" x2="23.20" y2="327.20" stroke="#5a5a5a" stroke-width="0.8"/>
<text x="19.70" y="329.90" font-size="7.7" fill="#2c2c2c" stroke="#2c2c2c" stroke-width="0.18" text-anchor="end">2</text>
<line x1="21.60" y1="358.00" x2="23.20" y2="358.00" stroke="#5a5a5a" stroke-width="0.8"/>
<text x="19.70" y="360.70" font-size="7.7" fill="#2c2c2c" stroke="#2c2c2c" stroke-width="0.18" text-anchor="end">0</text>
<line x1="23.20" y1="358.00" x2="219.80" y2="358.00" stroke="#5a5a5a" stroke-width="0.8"/>
<line x1="29.50" y1="358.00" x2="29.50" y2="360.20" stroke="#5a5a5a" stroke-width="0.7"/>
<rect x="24.90" y="352.00" width="4.00" height="6.00" fill="#7b7b7b" stroke="#4d4d4d" stroke-width="0.45"/>
<line x1="26.90" y1="350.20" x2="26.90" y2="353.80" stroke="#3a3a3a" stroke-width="0.6"/>
<line x1="25.50" y1="350.20" x2="28.30" y2="350.20" stroke="#3a3a3a" stroke-width="0.6"/>
<circle cx="26.93" cy="350.86" r="1.00" fill="#111"/>
<circle cx="27.77" cy="350.98" r="1.00" fill="#111"/>
<circle cx="27.24" cy="352.70" r="1.00" fill="#111"/>
<circle cx="25.85" cy="352.76" r="1.00" fill="#111"/>
<circle cx="26.03" cy="353.35" r="1.00" fill="#111"/>
<circle cx="26.59" cy="352.02" r="1.00" fill="#111"/>
<rect x="29.90" y="354.60" width="4.50" height="3.40" fill="#d9d9d9" stroke="#4d4d4d" stroke-width="0.45"/>
<line x1="32.15" y1="353.58" x2="32.15" y2="355.62" stroke="#3a3a3a" stroke-width="0.6"/>
<line x1="30.75" y1="353.58" x2="33.55" y2="353.58" stroke="#3a3a3a" stroke-width="0.6"/>
<rect x="31.35" y="353.77" width="2.00" height="2.00" fill="#111"/>
<rect x="30.50" y="354.67" width="2.00" height="2.00" fill="#111"/>
<rect x="30.35" y="352.94" width="2.00" height="2.00" fill="#111"/>
<rect x="32.11" y="352.95" width="2.00" height="2.00" fill="#111"/>
<rect x="30.26" y="353.62" width="2.00" height="2.00" fill="#111"/>
<rect x="31.45" y="354.06" width="2.00" height="2.00" fill="#111"/>
<text x="35.10" y="364.80" font-size="7.4" fill="#2c2c2c" stroke="#2c2c2c" stroke-width="0.18" text-anchor="end" transform="rotate(-45 35.10 364.80)">AREG</text>
<line x1="44.79" y1="358.00" x2="44.79" y2="360.20" stroke="#5a5a5a" stroke-width="0.7"/>
<rect x="40.19" y="327.20" width="4.00" height="30.80" fill="#7b7b7b" stroke="#4d4d4d" stroke-width="0.45"/>
<rect x="40.19" y="302.50" width="4.00" height="18.70" fill="#7b7b7b" stroke="#4d4d4d" stroke-width="0.45"/>
<line x1="42.19" y1="299.50" x2="42.19" y2="305.50" stroke="#3a3a3a" stroke-width="0.6"/>
<line x1="40.79" y1="299.50" x2="43.59" y2="299.50" stroke="#3a3a3a" stroke-width="0.6"/>
<circle cx="41.97" cy="305.39" r="1.00" fill="#111"/>
<circle cx="41.67" cy="299.47" r="1.00" fill="#111"/>
<circle cx="42.33" cy="305.94" r="1.00" fill="#111"/>
<circle cx="41.86" cy="302.75" r="1.00" fill="#111"/>
<circle cx="43.15" cy="300.91" r="1.00" fill="#111"/>
<circle cx="42.70" cy="300.44" r="1.00" fill="#111"/>
<rect x="45.19" y="327.20" width="4.50" height="30.80" fill="#d9d9d9" stroke="#4d4d4d" stroke-width="0.45"/>
<rect x="45.19" y="305.00" width="4.50" height="16.20" fill="#d9d9d9" stroke="#4d4d4d" stroke-width="0.45"/>
<line x1="47.44" y1="302.00" x2="47.44" y2="308.00" stroke="#3a3a3a" stroke-width="0.6"/>
<line x1="46.04" y1="302.00" x2="48.84" y2="302.00" stroke="#3a3a3a" stroke-width="0.6"/>
<rect x="45.44" y="304.05" width="2.00" height="2.00" fill="#111"/>
<rect x="46.51" y="307.84" width="2.00" height="2.00" fill="#111"/>
<rect x="45.47" y="302.53" width="2.00" height="2.00" fill="#111"/>
<rect x="47.05" y="304.98" width="2.00" height="2.00" fill="#111"/>
<rect x="47.41" y="307.03" width="2.00" height="2.00" fill="#111"/>
<rect x="45.65" y="304.24" width="2.00" height="2.00" fill="#111"/>
<text x="50.39" y="364.80" font-size="7.4" fill="#2c2c2c" stroke="#2c2c2c" stroke-width="0.18" text-anchor="end" transform="rotate(-45 50.39 364.80)">IFN-γ</text>
<line x1="60.08" y1="358.00" x2="60.08" y2="360.20" stroke="#5a5a5a" stroke-width="0.7"/>
<rect x="55.48" y="351.50" width="4.00" height="6.50" fill="#7b7b7b" stroke="#4d4d4d" stroke-width="0.45"/>
<line x1="57.48" y1="349.55" x2="57.48" y2="353.45" stroke="#3a3a3a" stroke-width="0.6"/>
<line x1="56.08" y1="349.55" x2="58.88" y2="349.55" stroke="#3a3a3a" stroke-width="0.6"/>
<circle cx="57.50" cy="352.17" r="1.00" fill="#111"/>
<circle cx="57.79" cy="353.53" r="1.00" fill="#111"/>
<circle cx="57.06" cy="351.87" r="1.00" fill="#111"/>
<circle cx="57.04" cy="350.61" r="1.00" fill="#111"/>
<circle cx="58.10" cy="354.00" r="1.00" fill="#111"/>
<circle cx="57.95" cy="352.48" r="1.00" fill="#111"/>
<rect x="60.48" y="352.50" width="4.50" height="5.50" fill="#d9d9d9" stroke="#4d4d4d" stroke-width="0.45"/>
<line x1="62.73" y1="350.85" x2="62.73" y2="354.15" stroke="#3a3a3a" stroke-width="0.6"/>
<line x1="61.33" y1="350.85" x2="64.13" y2="350.85" stroke="#3a3a3a" stroke-width="0.6"/>
<rect x="62.27" y="353.61" width="2.00" height="2.00" fill="#111"/>
<rect x="61.65" y="351.60" width="2.00" height="2.00" fill="#111"/>
<rect x="61.13" y="351.42" width="2.00" height="2.00" fill="#111"/>
<rect x="60.86" y="350.05" width="2.00" height="2.00" fill="#111"/>
<rect x="61.37" y="351.54" width="2.00" height="2.00" fill="#111"/>
<rect x="62.28" y="351.87" width="2.00" height="2.00" fill="#111"/>
<text x="65.68" y="364.80" font-size="7.4" fill="#2c2c2c" stroke="#2c2c2c" stroke-width="0.18" text-anchor="end" transform="rotate(-45 65.68 364.80)">IL-1β</text>
<line x1="75.37" y1="358.00" x2="75.37" y2="360.20" stroke="#5a5a5a" stroke-width="0.7"/>
<rect x="70.77" y="327.20" width="4.00" height="30.80" fill="#7b7b7b" stroke="#4d4d4d" stroke-width="0.45"/>
<rect x="70.77" y="317.70" width="4.00" height="3.50" fill="#7b7b7b" stroke="#4d4d4d" stroke-width="0.45"/>
<line x1="72.77" y1="314.70" x2="72.77" y2="320.70" stroke="#3a3a3a" stroke-width="0.6"/>
<line x1="71.37" y1="314.70" x2="74.17" y2="314.70" stroke="#3a3a3a" stroke-width="0.6"/>
<circle cx="73.24" cy="316.13" r="1.00" fill="#111"/>
<circle cx="72.26" cy="313.86" r="1.00" fill="#111"/>
<circle cx="73.40" cy="315.28" r="1.00" fill="#111"/>
<circle cx="72.82" cy="318.00" r="1.00" fill="#111"/>
<circle cx="72.30" cy="319.00" r="1.00" fill="#111"/>
<rect x="75.77" y="327.20" width="4.50" height="30.80" fill="#d9d9d9" stroke="#4d4d4d" stroke-width="0.45"/>
<rect x="75.77" y="318.00" width="4.50" height="3.20" fill="#d9d9d9" stroke="#4d4d4d" stroke-width="0.45"/>
<line x1="78.02" y1="311.30" x2="78.02" y2="351.00" stroke="#3a3a3a" stroke-width="0.6"/>
<line x1="76.62" y1="311.30" x2="79.42" y2="311.30" stroke="#3a3a3a" stroke-width="0.6"/>
<rect x="77.33" y="316.15" width="2.00" height="2.00" fill="#111"/>
<rect x="77.86" y="318.64" width="2.00" height="2.00" fill="#111"/>
<rect x="75.95" y="316.64" width="2.00" height="2.00" fill="#111"/>
<rect x="76.54" y="304.20" width="2.00" height="2.00" fill="#111"/>
<rect x="76.49" y="350.00" width="2.00" height="2.00" fill="#111"/>
<text x="80.97" y="364.80" font-size="7.4" fill="#2c2c2c" stroke="#2c2c2c" stroke-width="0.18" text-anchor="end" transform="rotate(-45 80.97 364.80)">IL-2</text>
<line x1="90.66" y1="358.00" x2="90.66" y2="360.20" stroke="#5a5a5a" stroke-width="0.7"/>
<rect x="86.06" y="327.20" width="4.00" height="30.80" fill="#7b7b7b" stroke="#4d4d4d" stroke-width="0.45"/>
<rect x="86.06" y="318.00" width="4.00" height="3.20" fill="#7b7b7b" stroke="#4d4d4d" stroke-width="0.45"/>
<line x1="88.06" y1="315.00" x2="88.06" y2="344.80" stroke="#3a3a3a" stroke-width="0.6"/>
<line x1="86.66" y1="315.00" x2="89.46" y2="315.00" stroke="#3a3a3a" stroke-width="0.6"/>
<circle cx="88.60" cy="317.78" r="1.00" fill="#111"/>
<circle cx="87.68" cy="314.16" r="1.00" fill="#111"/>
<circle cx="87.49" cy="319.56" r="1.00" fill="#111"/>
<circle cx="88.88" cy="336.60" r="1.00" fill="#111"/>
<circle cx="88.32" cy="344.80" r="1.00" fill="#111"/>
<rect x="91.06" y="327.20" width="4.50" height="30.80" fill="#d9d9d9" stroke="#4d4d4d" stroke-width="0.45"/>
<rect x="91.06" y="320.50" width="4.50" height="0.70" fill="#d9d9d9" stroke="#4d4d4d" stroke-width="0.45"/>
<line x1="93.31" y1="317.50" x2="93.31" y2="347.80" stroke="#3a3a3a" stroke-width="0.6"/>
<line x1="91.91" y1="317.50" x2="94.71" y2="317.50" stroke="#3a3a3a" stroke-width="0.6"/>
<rect x="92.73" y="318.04" width="2.00" height="2.00" fill="#111"/>
<rect x="92.24" y="316.11" width="2.00" height="2.00" fill="#111"/>
<rect x="93.06" y="315.66" width="2.00" height="2.00" fill="#111"/>
<rect x="92.71" y="337.20" width="2.00" height="2.00" fill="#111"/>
<rect x="93.03" y="343.80" width="2.00" height="2.00" fill="#111"/>
<rect x="92.18" y="346.80" width="2.00" height="2.00" fill="#111"/>
<text x="96.26" y="364.80" font-size="7.4" fill="#2c2c2c" stroke="#2c2c2c" stroke-width="0.18" text-anchor="end" transform="rotate(-45 96.26 364.80)">IL-3</text>
<line x1="105.95" y1="358.00" x2="105.95" y2="360.20" stroke="#5a5a5a" stroke-width="0.7"/>
<rect x="101.35" y="357.40" width="4.00" height="0.60" fill="#7b7b7b" stroke="#4d4d4d" stroke-width="0.45"/>
<line x1="103.35" y1="356.40" x2="103.35" y2="358.00" stroke="#3a3a3a" stroke-width="0.6"/>
<line x1="101.95" y1="356.40" x2="104.75" y2="356.40" stroke="#3a3a3a" stroke-width="0.6"/>
<circle cx="102.93" cy="357.10" r="1.00" fill="#111"/>
<circle cx="102.72" cy="356.37" r="1.00" fill="#111"/>
<circle cx="104.25" cy="357.10" r="1.00" fill="#111"/>
<circle cx="102.57" cy="357.10" r="1.00" fill="#111"/>
<circle cx="104.29" cy="357.10" r="1.00" fill="#111"/>
<circle cx="103.01" cy="357.10" r="1.00" fill="#111"/>
<rect x="106.35" y="357.40" width="4.50" height="0.60" fill="#d9d9d9" stroke="#4d4d4d" stroke-width="0.45"/>
<line x1="108.60" y1="356.40" x2="108.60" y2="358.00" stroke="#3a3a3a" stroke-width="0.6"/>
<line x1="107.20" y1="356.40" x2="110.00" y2="356.40" stroke="#3a3a3a" stroke-width="0.6"/>
<rect x="106.59" y="356.10" width="2.00" height="2.00" fill="#111"/>
<rect x="108.02" y="356.10" width="2.00" height="2.00" fill="#111"/>
<rect x="108.12" y="355.58" width="2.00" height="2.00" fill="#111"/>
<rect x="106.64" y="355.48" width="2.00" height="2.00" fill="#111"/>
<rect x="108.30" y="355.76" width="2.00" height="2.00" fill="#111"/>
<rect x="108.30" y="355.99" width="2.00" height="2.00" fill="#111"/>
<text x="111.55" y="364.80" font-size="7.4" fill="#2c2c2c" stroke="#2c2c2c" stroke-width="0.18" text-anchor="end" transform="rotate(-45 111.55 364.80)">IL-4</text>
<line x1="121.24" y1="358.00" x2="121.24" y2="360.20" stroke="#5a5a5a" stroke-width="0.7"/>
<rect x="116.64" y="331.80" width="4.00" height="26.20" fill="#7b7b7b" stroke="#4d4d4d" stroke-width="0.45"/>
<line x1="118.64" y1="324.80" x2="118.64" y2="350.90" stroke="#3a3a3a" stroke-width="0.6"/>
<line x1="117.24" y1="324.80" x2="120.04" y2="324.80" stroke="#3a3a3a" stroke-width="0.6"/>
<circle cx="119.45" cy="333.40" r="1.00" fill="#111"/>
<circle cx="119.55" cy="330.49" r="1.00" fill="#111"/>
<circle cx="117.99" cy="334.30" r="1.00" fill="#111"/>
<circle cx="117.86" cy="320.20" r="1.00" fill="#111"/>
<circle cx="117.71" cy="328.80" r="1.00" fill="#111"/>
<circle cx="119.34" cy="340.70" r="1.00" fill="#111"/>
<circle cx="119.26" cy="346.40" r="1.00" fill="#111"/>
<circle cx="118.91" cy="350.90" r="1.00" fill="#111"/>
<rect x="121.64" y="327.20" width="4.50" height="30.80" fill="#d9d9d9" stroke="#4d4d4d" stroke-width="0.45"/>
<rect x="121.64" y="321.00" width="4.50" height="0.20" fill="#d9d9d9" stroke="#4d4d4d" stroke-width="0.45"/>
<line x1="123.89" y1="317.90" x2="123.89" y2="346.80" stroke="#3a3a3a" stroke-width="0.6"/>
<line x1="122.49" y1="317.90" x2="125.29" y2="317.90" stroke="#3a3a3a" stroke-width="0.6"/>
<rect x="123.61" y="319.51" width="2.00" height="2.00" fill="#111"/>
<rect x="122.01" y="318.56" width="2.00" height="2.00" fill="#111"/>
<rect x="122.01" y="318.45" width="2.00" height="2.00" fill="#111"/>
<rect x="123.40" y="316.80" width="2.00" height="2.00" fill="#111"/>
<rect x="122.30" y="337.60" width="2.00" height="2.00" fill="#111"/>
<rect x="122.53" y="342.70" width="2.00" height="2.00" fill="#111"/>
<rect x="122.74" y="345.80" width="2.00" height="2.00" fill="#111"/>
<text x="126.84" y="364.80" font-size="7.4" fill="#2c2c2c" stroke="#2c2c2c" stroke-width="0.18" text-anchor="end" transform="rotate(-45 126.84 364.80)">IL-6</text>
<line x1="136.53" y1="358.00" x2="136.53" y2="360.20" stroke="#5a5a5a" stroke-width="0.7"/>
<rect x="131.93" y="327.20" width="4.00" height="30.80" fill="#7b7b7b" stroke="#4d4d4d" stroke-width="0.45"/>
<rect x="131.93" y="318.30" width="4.00" height="2.90" fill="#7b7b7b" stroke="#4d4d4d" stroke-width="0.45"/>
<line x1="133.93" y1="315.30" x2="133.93" y2="327.80" stroke="#3a3a3a" stroke-width="0.6"/>
<line x1="132.53" y1="315.30" x2="135.33" y2="315.30" stroke="#3a3a3a" stroke-width="0.6"/>
<circle cx="133.45" cy="320.13" r="1.00" fill="#111"/>
<circle cx="134.40" cy="318.54" r="1.00" fill="#111"/>
<circle cx="134.95" cy="316.87" r="1.00" fill="#111"/>
<circle cx="133.94" cy="319.20" r="1.00" fill="#111"/>
<circle cx="134.63" cy="327.80" r="1.00" fill="#111"/>
<rect x="136.93" y="327.20" width="4.50" height="30.80" fill="#d9d9d9" stroke="#4d4d4d" stroke-width="0.45"/>
<rect x="136.93" y="320.00" width="4.50" height="1.20" fill="#d9d9d9" stroke="#4d4d4d" stroke-width="0.45"/>
<line x1="139.18" y1="317.00" x2="139.18" y2="331.50" stroke="#3a3a3a" stroke-width="0.6"/>
<line x1="137.78" y1="317.00" x2="140.58" y2="317.00" stroke="#3a3a3a" stroke-width="0.6"/>
<rect x="138.44" y="319.40" width="2.00" height="2.00" fill="#111"/>
<rect x="138.04" y="319.40" width="2.00" height="2.00" fill="#111"/>
<rect x="138.78" y="319.48" width="2.00" height="2.00" fill="#111"/>
<rect x="137.87" y="327.00" width="2.00" height="2.00" fill="#111"/>
<rect x="138.59" y="330.50" width="2.00" height="2.00" fill="#111"/>
<text x="142.13" y="364.80" font-size="7.4" fill="#2c2c2c" stroke="#2c2c2c" stroke-width="0.18" text-anchor="end" transform="rotate(-45 142.13 364.80)">IL-10</text>
<line x1="151.82" y1="358.00" x2="151.82" y2="360.20" stroke="#5a5a5a" stroke-width="0.7"/>
<rect x="147.22" y="350.00" width="4.00" height="8.00" fill="#7b7b7b" stroke="#4d4d4d" stroke-width="0.45"/>
<line x1="149.22" y1="335.00" x2="149.22" y2="356.50" stroke="#3a3a3a" stroke-width="0.6"/>
<line x1="147.82" y1="335.00" x2="150.62" y2="335.00" stroke="#3a3a3a" stroke-width="0.6"/>
<circle cx="150.02" cy="348.70" r="1.00" fill="#111"/>
<circle cx="148.32" cy="349.68" r="1.00" fill="#111"/>
<circle cx="148.12" cy="350.50" r="1.00" fill="#111"/>
<circle cx="148.62" cy="321.20" r="1.00" fill="#111"/>
<circle cx="149.74" cy="348.40" r="1.00" fill="#111"/>
<circle cx="150.18" cy="356.50" r="1.00" fill="#111"/>
<rect x="152.22" y="354.60" width="4.50" height="3.40" fill="#d9d9d9" stroke="#4d4d4d" stroke-width="0.45"/>
<line x1="154.47" y1="353.58" x2="154.47" y2="355.62" stroke="#3a3a3a" stroke-width="0.6"/>
<line x1="153.07" y1="353.58" x2="155.87" y2="353.58" stroke="#3a3a3a" stroke-width="0.6"/>
<rect x="152.38" y="353.15" width="2.00" height="2.00" fill="#111"/>
<rect x="154.12" y="352.65" width="2.00" height="2.00" fill="#111"/>
<rect x="152.78" y="353.65" width="2.00" height="2.00" fill="#111"/>
<rect x="153.46" y="346.80" width="2.00" height="2.00" fill="#111"/>
<text x="157.42" y="364.80" font-size="7.4" fill="#2c2c2c" stroke="#2c2c2c" stroke-width="0.18" text-anchor="end" transform="rotate(-45 157.42 364.80)">IL-13</text>
<line x1="167.11" y1="358.00" x2="167.11" y2="360.20" stroke="#5a5a5a" stroke-width="0.7"/>
<rect x="162.51" y="357.40" width="4.00" height="0.60" fill="#7b7b7b" stroke="#4d4d4d" stroke-width="0.45"/>
<line x1="164.51" y1="356.40" x2="164.51" y2="358.00" stroke="#3a3a3a" stroke-width="0.6"/>
<line x1="163.11" y1="356.40" x2="165.91" y2="356.40" stroke="#3a3a3a" stroke-width="0.6"/>
<circle cx="163.98" cy="356.53" r="1.00" fill="#111"/>
<circle cx="165.49" cy="357.10" r="1.00" fill="#111"/>
<circle cx="164.95" cy="357.10" r="1.00" fill="#111"/>
<circle cx="164.51" cy="357.10" r="1.00" fill="#111"/>
<circle cx="163.59" cy="357.10" r="1.00" fill="#111"/>
<circle cx="165.14" cy="357.10" r="1.00" fill="#111"/>
<rect x="167.51" y="357.40" width="4.50" height="0.60" fill="#d9d9d9" stroke="#4d4d4d" stroke-width="0.45"/>
<line x1="169.76" y1="356.40" x2="169.76" y2="358.00" stroke="#3a3a3a" stroke-width="0.6"/>
<line x1="168.36" y1="356.40" x2="171.16" y2="356.40" stroke="#3a3a3a" stroke-width="0.6"/>
<rect x="169.04" y="355.94" width="2.00" height="2.00" fill="#111"/>
<rect x="168.44" y="355.12" width="2.00" height="2.00" fill="#111"/>
<rect x="169.62" y="355.75" width="2.00" height="2.00" fill="#111"/>
<rect x="167.85" y="356.10" width="2.00" height="2.00" fill="#111"/>
<rect x="168.11" y="356.10" width="2.00" height="2.00" fill="#111"/>
<rect x="168.24" y="356.10" width="2.00" height="2.00" fill="#111"/>
<text x="172.71" y="364.80" font-size="7.4" fill="#2c2c2c" stroke="#2c2c2c" stroke-width="0.18" text-anchor="end" transform="rotate(-45 172.71 364.80)">IL-17</text>
<line x1="182.40" y1="358.00" x2="182.40" y2="360.20" stroke="#5a5a5a" stroke-width="0.7"/>
<rect x="177.80" y="327.20" width="4.00" height="30.80" fill="#7b7b7b" stroke="#4d4d4d" stroke-width="0.45"/>
<rect x="177.80" y="318.50" width="4.00" height="2.70" fill="#7b7b7b" stroke="#4d4d4d" stroke-width="0.45"/>
<line x1="179.80" y1="315.50" x2="179.80" y2="321.50" stroke="#3a3a3a" stroke-width="0.6"/>
<line x1="178.40" y1="315.50" x2="181.20" y2="315.50" stroke="#3a3a3a" stroke-width="0.6"/>
<circle cx="179.53" cy="320.80" r="1.00" fill="#111"/>
<circle cx="180.64" cy="316.85" r="1.00" fill="#111"/>
<circle cx="179.87" cy="318.77" r="1.00" fill="#111"/>
<circle cx="180.31" cy="320.60" r="1.00" fill="#111"/>
<rect x="182.80" y="327.20" width="4.50" height="30.80" fill="#d9d9d9" stroke="#4d4d4d" stroke-width="0.45"/>
<rect x="182.80" y="318.50" width="4.50" height="2.70" fill="#d9d9d9" stroke="#4d4d4d" stroke-width="0.45"/>
<line x1="185.05" y1="315.50" x2="185.05" y2="336.20" stroke="#3a3a3a" stroke-width="0.6"/>
<line x1="183.65" y1="315.50" x2="186.45" y2="315.50" stroke="#3a3a3a" stroke-width="0.6"/>
<rect x="184.61" y="320.15" width="2.00" height="2.00" fill="#111"/>
<rect x="183.67" y="316.15" width="2.00" height="2.00" fill="#111"/>
<rect x="183.29" y="315.73" width="2.00" height="2.00" fill="#111"/>
<rect x="184.74" y="319.60" width="2.00" height="2.00" fill="#111"/>
<rect x="184.37" y="327.40" width="2.00" height="2.00" fill="#111"/>
<rect x="184.53" y="329.40" width="2.00" height="2.00" fill="#111"/>
<rect x="183.39" y="333.10" width="2.00" height="2.00" fill="#111"/>
<rect x="183.93" y="335.20" width="2.00" height="2.00" fill="#111"/>
<text x="188.00" y="364.80" font-size="7.4" fill="#2c2c2c" stroke="#2c2c2c" stroke-width="0.18" text-anchor="end" transform="rotate(-45 188.00 364.80)">IL-22</text>
<line x1="197.69" y1="358.00" x2="197.69" y2="360.20" stroke="#5a5a5a" stroke-width="0.7"/>
<rect x="193.09" y="330.40" width="4.00" height="27.60" fill="#7b7b7b" stroke="#4d4d4d" stroke-width="0.45"/>
<line x1="195.09" y1="323.40" x2="195.09" y2="345.80" stroke="#3a3a3a" stroke-width="0.6"/>
<line x1="193.69" y1="323.40" x2="196.49" y2="323.40" stroke="#3a3a3a" stroke-width="0.6"/>
<circle cx="194.27" cy="331.48" r="1.00" fill="#111"/>
<circle cx="195.01" cy="320.40" r="1.00" fill="#111"/>
<circle cx="194.41" cy="333.50" r="1.00" fill="#111"/>
<circle cx="194.69" cy="320.50" r="1.00" fill="#111"/>
<circle cx="195.50" cy="336.60" r="1.00" fill="#111"/>
<circle cx="195.78" cy="339.70" r="1.00" fill="#111"/>
<circle cx="194.40" cy="342.70" r="1.00" fill="#111"/>
<circle cx="194.40" cy="345.80" r="1.00" fill="#111"/>
<rect x="198.09" y="346.20" width="4.50" height="11.80" fill="#d9d9d9" stroke="#4d4d4d" stroke-width="0.45"/>
<line x1="200.34" y1="342.66" x2="200.34" y2="349.74" stroke="#3a3a3a" stroke-width="0.6"/>
<line x1="198.94" y1="342.66" x2="201.74" y2="342.66" stroke="#3a3a3a" stroke-width="0.6"/>
<rect x="198.78" y="343.82" width="2.00" height="2.00" fill="#111"/>
<rect x="198.59" y="343.61" width="2.00" height="2.00" fill="#111"/>
<rect x="198.96" y="348.25" width="2.00" height="2.00" fill="#111"/>
<rect x="198.72" y="337.00" width="2.00" height="2.00" fill="#111"/>
<rect x="200.29" y="341.00" width="2.00" height="2.00" fill="#111"/>
<rect x="199.80" y="344.00" width="2.00" height="2.00" fill="#111"/>
<rect x="198.54" y="348.00" width="2.00" height="2.00" fill="#111"/>
<text x="203.29" y="364.80" font-size="7.4" fill="#2c2c2c" stroke="#2c2c2c" stroke-width="0.18" text-anchor="end" transform="rotate(-45 203.29 364.80)">TGF-β</text>
<line x1="212.98" y1="358.00" x2="212.98" y2="360.20" stroke="#5a5a5a" stroke-width="0.7"/>
<rect x="208.38" y="327.20" width="4.00" height="30.80" fill="#7b7b7b" stroke="#4d4d4d" stroke-width="0.45"/>
<rect x="208.38" y="307.20" width="4.00" height="14.00" fill="#7b7b7b" stroke="#4d4d4d" stroke-width="0.45"/>
<line x1="210.38" y1="304.20" x2="210.38" y2="310.20" stroke="#3a3a3a" stroke-width="0.6"/>
<line x1="208.98" y1="304.20" x2="211.78" y2="304.20" stroke="#3a3a3a" stroke-width="0.6"/>
<circle cx="210.13" cy="308.28" r="1.00" fill="#111"/>
<circle cx="211.44" cy="306.94" r="1.00" fill="#111"/>
<circle cx="210.24" cy="308.29" r="1.00" fill="#111"/>
<circle cx="209.71" cy="303.45" r="1.00" fill="#111"/>
<circle cx="209.73" cy="306.46" r="1.00" fill="#111"/>
<circle cx="210.13" cy="306.33" r="1.00" fill="#111"/>
<rect x="213.38" y="327.20" width="4.50" height="30.80" fill="#d9d9d9" stroke="#4d4d4d" stroke-width="0.45"/>
<rect x="213.38" y="305.70" width="4.50" height="15.50" fill="#d9d9d9" stroke="#4d4d4d" stroke-width="0.45"/>
<line x1="215.63" y1="302.70" x2="215.63" y2="308.70" stroke="#3a3a3a" stroke-width="0.6"/>
<line x1="214.23" y1="302.70" x2="217.03" y2="302.70" stroke="#3a3a3a" stroke-width="0.6"/>
<rect x="215.27" y="307.07" width="2.00" height="2.00" fill="#111"/>
<rect x="215.06" y="305.21" width="2.00" height="2.00" fill="#111"/>
<rect x="214.55" y="301.30" width="2.00" height="2.00" fill="#111"/>
<rect x="213.84" y="304.69" width="2.00" height="2.00" fill="#111"/>
<rect x="215.16" y="302.76" width="2.00" height="2.00" fill="#111"/>
<rect x="215.53" y="303.22" width="2.00" height="2.00" fill="#111"/>
<text x="218.58" y="364.80" font-size="7.4" fill="#2c2c2c" stroke="#2c2c2c" stroke-width="0.18" text-anchor="end" transform="rotate(-45 218.58 364.80)">TNF-α</text>
<line x1="253.20" y1="291.30" x2="253.20" y2="321.20" stroke="#5a5a5a" stroke-width="0.8"/>
<line x1="253.20" y1="327.20" x2="253.20" y2="358.00" stroke="#5a5a5a" stroke-width="0.8"/>
<line x1="251.60" y1="321.20" x2="253.20" y2="321.20" stroke="#5a5a5a" stroke-width="0.8"/>
<line x1="251.60" y1="327.20" x2="253.20" y2="327.20" stroke="#5a5a5a" stroke-width="0.8"/>
<line x1="251.60" y1="296.20" x2="253.20" y2="296.20" stroke="#5a5a5a" stroke-width="0.8"/>
<text x="249.70" y="298.90" font-size="7.7" fill="#2c2c2c" stroke="#2c2c2c" stroke-width="0.18" text-anchor="end">60</text>
<line x1="251.60" y1="305.50" x2="253.20" y2="305.50" stroke="#5a5a5a" stroke-width="0.8"/>
<text x="249.70" y="308.20" font-size="7.7" fill="#2c2c2c" stroke="#2c2c2c" stroke-width="0.18" text-anchor="end">40</text>
<line x1="251.60" y1="314.50" x2="253.20" y2="314.50" stroke="#5a5a5a" stroke-width="0.8"/>
<text x="249.70" y="317.20" font-size="7.7" fill="#2c2c2c" stroke="#2c2c2c" stroke-width="0.18" text-anchor="end">20</text>
<line x1="251.60" y1="333.90" x2="253.20" y2="333.90" stroke="#5a5a5a" stroke-width="0.8"/>
<text x="249.70" y="336.60" font-size="7.7" fill="#2c2c2c" stroke="#2c2c2c" stroke-width="0.18" text-anchor="end">4</text>
<line x1="251.60" y1="345.60" x2="253.20" y2="345.60" stroke="#5a5a5a" stroke-width="0.8"/>
<text x="249.70" y="348.30" font-size="7.7" fill="#2c2c2c" stroke="#2c2c2c" stroke-width="0.18" text-anchor="end">2</text>
<line x1="251.60" y1="358.00" x2="253.20" y2="358.00" stroke="#5a5a5a" stroke-width="0.8"/>
<text x="249.70" y="360.70" font-size="7.7" fill="#2c2c2c" stroke="#2c2c2c" stroke-width="0.18" text-anchor="end">0</text>
<line x1="253.20" y1="358.00" x2="449.80" y2="358.00" stroke="#5a5a5a" stroke-width="0.8"/>
<line x1="259.10" y1="358.00" x2="259.10" y2="360.20" stroke="#5a5a5a" stroke-width="0.7"/>
<rect x="254.50" y="350.00" width="4.00" height="8.00" fill="#7b7b7b" stroke="#4d4d4d" stroke-width="0.45"/>
<line x1="256.50" y1="347.60" x2="256.50" y2="352.40" stroke="#3a3a3a" stroke-width="0.6"/>
<line x1="255.10" y1="347.60" x2="257.90" y2="347.60" stroke="#3a3a3a" stroke-width="0.6"/>
<circle cx="257.05" cy="347.73" r="1.00" fill="#111"/>
<circle cx="256.33" cy="351.07" r="1.00" fill="#111"/>
<circle cx="257.34" cy="350.41" r="1.00" fill="#111"/>
<circle cx="257.10" cy="353.05" r="1.00" fill="#111"/>
<circle cx="256.90" cy="348.84" r="1.00" fill="#111"/>
<circle cx="256.81" cy="346.93" r="1.00" fill="#111"/>
<rect x="259.50" y="353.60" width="4.50" height="4.40" fill="#d9d9d9" stroke="#4d4d4d" stroke-width="0.45"/>
<line x1="261.75" y1="352.28" x2="261.75" y2="354.92" stroke="#3a3a3a" stroke-width="0.6"/>
<line x1="260.35" y1="352.28" x2="263.15" y2="352.28" stroke="#3a3a3a" stroke-width="0.6"/>
<rect x="261.03" y="351.72" width="2.00" height="2.00" fill="#111"/>
<rect x="259.87" y="352.86" width="2.00" height="2.00" fill="#111"/>
<rect x="261.22" y="350.99" width="2.00" height="2.00" fill="#111"/>
<rect x="261.04" y="353.49" width="2.00" height="2.00" fill="#111"/>
<rect x="260.65" y="352.60" width="2.00" height="2.00" fill="#111"/>
<rect x="261.02" y="353.71" width="2.00" height="2.00" fill="#111"/>
<text x="264.70" y="364.80" font-size="7.4" fill="#2c2c2c" stroke="#2c2c2c" stroke-width="0.18" text-anchor="end" transform="rotate(-45 264.70 364.80)">AREG</text>
<line x1="274.43" y1="358.00" x2="274.43" y2="360.20" stroke="#5a5a5a" stroke-width="0.7"/>
<rect x="269.83" y="327.20" width="4.00" height="30.80" fill="#7b7b7b" stroke="#4d4d4d" stroke-width="0.45"/>
<rect x="269.83" y="305.00" width="4.00" height="16.20" fill="#7b7b7b" stroke="#4d4d4d" stroke-width="0.45"/>
<line x1="271.83" y1="299.80" x2="271.83" y2="308.00" stroke="#3a3a3a" stroke-width="0.6"/>
<line x1="270.43" y1="299.80" x2="273.23" y2="299.80" stroke="#3a3a3a" stroke-width="0.6"/>
<circle cx="272.78" cy="301.97" r="1.00" fill="#111"/>
<circle cx="271.13" cy="306.94" r="1.00" fill="#111"/>
<circle cx="271.59" cy="302.65" r="1.00" fill="#111"/>
<circle cx="271.81" cy="293.70" r="1.00" fill="#111"/>
<rect x="274.83" y="327.20" width="4.50" height="30.80" fill="#d9d9d9" stroke="#4d4d4d" stroke-width="0.45"/>
<rect x="274.83" y="307.20" width="4.50" height="14.00" fill="#d9d9d9" stroke="#4d4d4d" stroke-width="0.45"/>
<line x1="277.08" y1="304.20" x2="277.08" y2="310.20" stroke="#3a3a3a" stroke-width="0.6"/>
<line x1="275.68" y1="304.20" x2="278.48" y2="304.20" stroke="#3a3a3a" stroke-width="0.6"/>
<rect x="277.12" y="302.76" width="2.00" height="2.00" fill="#111"/>
<rect x="275.33" y="309.12" width="2.00" height="2.00" fill="#111"/>
<rect x="276.70" y="306.91" width="2.00" height="2.00" fill="#111"/>
<rect x="275.20" y="308.90" width="2.00" height="2.00" fill="#111"/>
<rect x="276.24" y="305.14" width="2.00" height="2.00" fill="#111"/>
<rect x="276.11" y="302.51" width="2.00" height="2.00" fill="#111"/>
<text x="280.03" y="364.80" font-size="7.4" fill="#2c2c2c" stroke="#2c2c2c" stroke-width="0.18" text-anchor="end" transform="rotate(-45 280.03 364.80)">IFN-γ</text>
<line x1="289.76" y1="358.00" x2="289.76" y2="360.20" stroke="#5a5a5a" stroke-width="0.7"/>
<rect x="285.16" y="353.60" width="4.00" height="4.40" fill="#7b7b7b" stroke="#4d4d4d" stroke-width="0.45"/>
<line x1="287.16" y1="352.28" x2="287.16" y2="354.92" stroke="#3a3a3a" stroke-width="0.6"/>
<line x1="285.76" y1="352.28" x2="288.56" y2="352.28" stroke="#3a3a3a" stroke-width="0.6"/>
<circle cx="287.47" cy="353.17" r="1.00" fill="#111"/>
<circle cx="286.96" cy="354.21" r="1.00" fill="#111"/>
<circle cx="288.15" cy="352.47" r="1.00" fill="#111"/>
<circle cx="286.92" cy="354.00" r="1.00" fill="#111"/>
<circle cx="287.74" cy="355.15" r="1.00" fill="#111"/>
<circle cx="286.84" cy="355.29" r="1.00" fill="#111"/>
<rect x="290.16" y="354.30" width="4.50" height="3.70" fill="#d9d9d9" stroke="#4d4d4d" stroke-width="0.45"/>
<line x1="292.41" y1="353.19" x2="292.41" y2="355.41" stroke="#3a3a3a" stroke-width="0.6"/>
<line x1="291.01" y1="353.19" x2="293.81" y2="353.19" stroke="#3a3a3a" stroke-width="0.6"/>
<rect x="290.43" y="354.72" width="2.00" height="2.00" fill="#111"/>
<rect x="290.34" y="353.16" width="2.00" height="2.00" fill="#111"/>
<rect x="291.23" y="354.19" width="2.00" height="2.00" fill="#111"/>
<rect x="291.08" y="352.09" width="2.00" height="2.00" fill="#111"/>
<rect x="290.89" y="353.96" width="2.00" height="2.00" fill="#111"/>
<rect x="292.38" y="353.53" width="2.00" height="2.00" fill="#111"/>
<text x="295.36" y="364.80" font-size="7.4" fill="#2c2c2c" stroke="#2c2c2c" stroke-width="0.18" text-anchor="end" transform="rotate(-45 295.36 364.80)">IL-1β</text>
<line x1="305.09" y1="358.00" x2="305.09" y2="360.20" stroke="#5a5a5a" stroke-width="0.7"/>
<rect x="300.49" y="327.20" width="4.00" height="30.80" fill="#7b7b7b" stroke="#4d4d4d" stroke-width="0.45"/>
<rect x="300.49" y="320.90" width="4.00" height="0.30" fill="#7b7b7b" stroke="#4d4d4d" stroke-width="0.45"/>
<line x1="302.49" y1="318.00" x2="302.49" y2="344.20" stroke="#3a3a3a" stroke-width="0.6"/>
<line x1="301.09" y1="318.00" x2="303.89" y2="318.00" stroke="#3a3a3a" stroke-width="0.6"/>
<circle cx="302.55" cy="320.40" r="1.00" fill="#111"/>
<circle cx="302.25" cy="320.40" r="1.00" fill="#111"/>
<circle cx="301.86" cy="320.40" r="1.00" fill="#111"/>
<circle cx="301.75" cy="317.60" r="1.00" fill="#111"/>
<circle cx="303.04" cy="336.00" r="1.00" fill="#111"/>
<circle cx="303.11" cy="340.10" r="1.00" fill="#111"/>
<circle cx="302.76" cy="344.20" r="1.00" fill="#111"/>
<rect x="305.49" y="334.20" width="4.50" height="23.80" fill="#d9d9d9" stroke="#4d4d4d" stroke-width="0.45"/>
<line x1="307.74" y1="327.20" x2="307.74" y2="348.30" stroke="#3a3a3a" stroke-width="0.6"/>
<line x1="306.34" y1="327.20" x2="309.14" y2="327.20" stroke="#3a3a3a" stroke-width="0.6"/>
<rect x="306.14" y="319.40" width="2.00" height="2.00" fill="#111"/>
<rect x="307.76" y="334.59" width="2.00" height="2.00" fill="#111"/>
<rect x="307.44" y="328.38" width="2.00" height="2.00" fill="#111"/>
<rect x="307.37" y="319.70" width="2.00" height="2.00" fill="#111"/>
<rect x="306.68" y="326.80" width="2.00" height="2.00" fill="#111"/>
<rect x="306.33" y="337.00" width="2.00" height="2.00" fill="#111"/>
<rect x="306.84" y="342.20" width="2.00" height="2.00" fill="#111"/>
<rect x="305.99" y="347.30" width="2.00" height="2.00" fill="#111"/>
<text x="310.69" y="364.80" font-size="7.4" fill="#2c2c2c" stroke="#2c2c2c" stroke-width="0.18" text-anchor="end" transform="rotate(-45 310.69 364.80)">IL-2</text>
<line x1="320.42" y1="358.00" x2="320.42" y2="360.20" stroke="#5a5a5a" stroke-width="0.7"/>
<rect x="315.82" y="352.00" width="4.00" height="6.00" fill="#7b7b7b" stroke="#4d4d4d" stroke-width="0.45"/>
<line x1="317.82" y1="350.20" x2="317.82" y2="353.80" stroke="#3a3a3a" stroke-width="0.6"/>
<line x1="316.42" y1="350.20" x2="319.22" y2="350.20" stroke="#3a3a3a" stroke-width="0.6"/>
<circle cx="318.55" cy="353.64" r="1.00" fill="#111"/>
<circle cx="317.31" cy="350.28" r="1.00" fill="#111"/>
<circle cx="317.55" cy="354.22" r="1.00" fill="#111"/>
<circle cx="317.13" cy="351.97" r="1.00" fill="#111"/>
<circle cx="316.73" cy="353.52" r="1.00" fill="#111"/>
<circle cx="317.26" cy="351.79" r="1.00" fill="#111"/>
<rect x="320.82" y="354.60" width="4.50" height="3.40" fill="#d9d9d9" stroke="#4d4d4d" stroke-width="0.45"/>
<line x1="323.07" y1="353.58" x2="323.07" y2="355.62" stroke="#3a3a3a" stroke-width="0.6"/>
<line x1="321.67" y1="353.58" x2="324.47" y2="353.58" stroke="#3a3a3a" stroke-width="0.6"/>
<rect x="321.63" y="352.95" width="2.00" height="2.00" fill="#111"/>
<rect x="322.37" y="352.74" width="2.00" height="2.00" fill="#111"/>
<rect x="322.42" y="353.71" width="2.00" height="2.00" fill="#111"/>
<rect x="322.85" y="352.38" width="2.00" height="2.00" fill="#111"/>
<rect x="321.10" y="354.91" width="2.00" height="2.00" fill="#111"/>
<rect x="322.69" y="354.43" width="2.00" height="2.00" fill="#111"/>
<text x="326.02" y="364.80" font-size="7.4" fill="#2c2c2c" stroke="#2c2c2c" stroke-width="0.18" text-anchor="end" transform="rotate(-45 326.02 364.80)">IL-3</text>
<line x1="335.75" y1="358.00" x2="335.75" y2="360.20" stroke="#5a5a5a" stroke-width="0.7"/>
<rect x="331.15" y="356.30" width="4.00" height="1.70" fill="#7b7b7b" stroke="#4d4d4d" stroke-width="0.45"/>
<line x1="333.15" y1="355.30" x2="333.15" y2="357.30" stroke="#3a3a3a" stroke-width="0.6"/>
<line x1="331.75" y1="355.30" x2="334.55" y2="355.30" stroke="#3a3a3a" stroke-width="0.6"/>
<circle cx="332.36" cy="355.02" r="1.00" fill="#111"/>
<circle cx="332.08" cy="356.85" r="1.00" fill="#111"/>
<circle cx="332.08" cy="355.31" r="1.00" fill="#111"/>
<circle cx="332.60" cy="357.10" r="1.00" fill="#111"/>
<circle cx="332.27" cy="355.95" r="1.00" fill="#111"/>
<circle cx="333.76" cy="356.66" r="1.00" fill="#111"/>
<rect x="336.15" y="356.30" width="4.50" height="1.70" fill="#d9d9d9" stroke="#4d4d4d" stroke-width="0.45"/>
<line x1="338.40" y1="355.30" x2="338.40" y2="357.30" stroke="#3a3a3a" stroke-width="0.6"/>
<line x1="337.00" y1="355.30" x2="339.80" y2="355.30" stroke="#3a3a3a" stroke-width="0.6"/>
<rect x="337.06" y="355.76" width="2.00" height="2.00" fill="#111"/>
<rect x="338.04" y="356.10" width="2.00" height="2.00" fill="#111"/>
<rect x="336.67" y="356.10" width="2.00" height="2.00" fill="#111"/>
<rect x="338.02" y="356.10" width="2.00" height="2.00" fill="#111"/>
<rect x="337.77" y="354.61" width="2.00" height="2.00" fill="#111"/>
<rect x="338.15" y="356.10" width="2.00" height="2.00" fill="#111"/>
<text x="341.35" y="364.80" font-size="7.4" fill="#2c2c2c" stroke="#2c2c2c" stroke-width="0.18" text-anchor="end" transform="rotate(-45 341.35 364.80)">IL-4</text>
<line x1="351.08" y1="358.00" x2="351.08" y2="360.20" stroke="#5a5a5a" stroke-width="0.7"/>
<rect x="346.48" y="345.10" width="4.00" height="12.90" fill="#7b7b7b" stroke="#4d4d4d" stroke-width="0.45"/>
<line x1="348.48" y1="341.23" x2="348.48" y2="350.00" stroke="#3a3a3a" stroke-width="0.6"/>
<line x1="347.08" y1="341.23" x2="349.88" y2="341.23" stroke="#3a3a3a" stroke-width="0.6"/>
<circle cx="347.81" cy="341.73" r="1.00" fill="#111"/>
<circle cx="349.01" cy="343.76" r="1.00" fill="#111"/>
<circle cx="348.34" cy="341.53" r="1.00" fill="#111"/>
<circle cx="349.25" cy="338.00" r="1.00" fill="#111"/>
<circle cx="348.59" cy="345.00" r="1.00" fill="#111"/>
<circle cx="348.01" cy="350.00" r="1.00" fill="#111"/>
<rect x="351.48" y="341.50" width="4.50" height="16.50" fill="#d9d9d9" stroke="#4d4d4d" stroke-width="0.45"/>
<line x1="353.73" y1="318.60" x2="353.73" y2="346.45" stroke="#3a3a3a" stroke-width="0.6"/>
<line x1="352.33" y1="318.60" x2="355.13" y2="318.60" stroke="#3a3a3a" stroke-width="0.6"/>
<rect x="352.71" y="340.72" width="2.00" height="2.00" fill="#111"/>
<rect x="351.76" y="342.66" width="2.00" height="2.00" fill="#111"/>
<rect x="352.71" y="338.34" width="2.00" height="2.00" fill="#111"/>
<rect x="352.73" y="318.70" width="2.00" height="2.00" fill="#111"/>
<rect x="352.81" y="340.00" width="2.00" height="2.00" fill="#111"/>
<rect x="353.46" y="345.00" width="2.00" height="2.00" fill="#111"/>
<text x="356.68" y="364.80" font-size="7.4" fill="#2c2c2c" stroke="#2c2c2c" stroke-width="0.18" text-anchor="end" transform="rotate(-45 356.68 364.80)">IL-6</text>
<line x1="366.41" y1="358.00" x2="366.41" y2="360.20" stroke="#5a5a5a" stroke-width="0.7"/>
<rect x="361.81" y="327.20" width="4.00" height="30.80" fill="#7b7b7b" stroke="#4d4d4d" stroke-width="0.45"/>
<rect x="361.81" y="317.70" width="4.00" height="3.50" fill="#7b7b7b" stroke="#4d4d4d" stroke-width="0.45"/>
<line x1="363.81" y1="314.70" x2="363.81" y2="332.00" stroke="#3a3a3a" stroke-width="0.6"/>
<line x1="362.41" y1="314.70" x2="365.21" y2="314.70" stroke="#3a3a3a" stroke-width="0.6"/>
<circle cx="362.72" cy="317.98" r="1.00" fill="#111"/>
<circle cx="363.95" cy="319.16" r="1.00" fill="#111"/>
<circle cx="364.17" cy="315.43" r="1.00" fill="#111"/>
<circle cx="364.49" cy="317.60" r="1.00" fill="#111"/>
<circle cx="363.56" cy="332.00" r="1.00" fill="#111"/>
<rect x="366.81" y="327.20" width="4.50" height="30.80" fill="#d9d9d9" stroke="#4d4d4d" stroke-width="0.45"/>
<rect x="366.81" y="318.50" width="4.50" height="2.70" fill="#d9d9d9" stroke="#4d4d4d" stroke-width="0.45"/>
<line x1="369.06" y1="315.50" x2="369.06" y2="334.00" stroke="#3a3a3a" stroke-width="0.6"/>
<line x1="367.66" y1="315.50" x2="370.46" y2="315.50" stroke="#3a3a3a" stroke-width="0.6"/>
<rect x="367.13" y="313.66" width="2.00" height="2.00" fill="#111"/>
<rect x="368.36" y="319.40" width="2.00" height="2.00" fill="#111"/>
<rect x="368.30" y="317.12" width="2.00" height="2.00" fill="#111"/>
<rect x="368.43" y="319.70" width="2.00" height="2.00" fill="#111"/>
<rect x="368.92" y="333.00" width="2.00" height="2.00" fill="#111"/>
<text x="372.01" y="364.80" font-size="7.4" fill="#2c2c2c" stroke="#2c2c2c" stroke-width="0.18" text-anchor="end" transform="rotate(-45 372.01 364.80)">IL-10</text>
<line x1="381.74" y1="358.00" x2="381.74" y2="360.20" stroke="#5a5a5a" stroke-width="0.7"/>
<rect x="377.14" y="342.00" width="4.00" height="16.00" fill="#7b7b7b" stroke="#4d4d4d" stroke-width="0.45"/>
<line x1="379.14" y1="328.90" x2="379.14" y2="350.00" stroke="#3a3a3a" stroke-width="0.6"/>
<line x1="377.74" y1="328.90" x2="380.54" y2="328.90" stroke="#3a3a3a" stroke-width="0.6"/>
<circle cx="378.77" cy="341.30" r="1.00" fill="#111"/>
<circle cx="379.11" cy="346.56" r="1.00" fill="#111"/>
<circle cx="380.01" cy="341.47" r="1.00" fill="#111"/>
<circle cx="378.21" cy="321.10" r="1.00" fill="#111"/>
<circle cx="379.58" cy="328.90" r="1.00" fill="#111"/>
<circle cx="379.39" cy="345.00" r="1.00" fill="#111"/>
<circle cx="378.82" cy="350.00" r="1.00" fill="#111"/>
<rect x="382.14" y="349.30" width="4.50" height="8.70" fill="#d9d9d9" stroke="#4d4d4d" stroke-width="0.45"/>
<line x1="384.39" y1="346.69" x2="384.39" y2="351.91" stroke="#3a3a3a" stroke-width="0.6"/>
<line x1="382.99" y1="346.69" x2="385.79" y2="346.69" stroke="#3a3a3a" stroke-width="0.6"/>
<rect x="383.33" y="349.59" width="2.00" height="2.00" fill="#111"/>
<rect x="383.45" y="346.78" width="2.00" height="2.00" fill="#111"/>
<rect x="383.25" y="348.49" width="2.00" height="2.00" fill="#111"/>
<rect x="383.23" y="340.00" width="2.00" height="2.00" fill="#111"/>
<rect x="383.50" y="347.00" width="2.00" height="2.00" fill="#111"/>
<text x="387.34" y="364.80" font-size="7.4" fill="#2c2c2c" stroke="#2c2c2c" stroke-width="0.18" text-anchor="end" transform="rotate(-45 387.34 364.80)">IL-13</text>
<line x1="397.07" y1="358.00" x2="397.07" y2="360.20" stroke="#5a5a5a" stroke-width="0.7"/>
<rect x="392.47" y="355.70" width="4.00" height="2.30" fill="#7b7b7b" stroke="#4d4d4d" stroke-width="0.45"/>
<line x1="394.47" y1="354.70" x2="394.47" y2="356.70" stroke="#3a3a3a" stroke-width="0.6"/>
<line x1="393.07" y1="354.70" x2="395.87" y2="354.70" stroke="#3a3a3a" stroke-width="0.6"/>
<circle cx="395.19" cy="355.15" r="1.00" fill="#111"/>
<circle cx="394.26" cy="355.30" r="1.00" fill="#111"/>
<circle cx="394.48" cy="356.98" r="1.00" fill="#111"/>
<circle cx="395.51" cy="355.57" r="1.00" fill="#111"/>
<circle cx="394.81" cy="356.64" r="1.00" fill="#111"/>
<circle cx="394.07" cy="355.89" r="1.00" fill="#111"/>
<rect x="397.47" y="357.00" width="4.50" height="1.00" fill="#d9d9d9" stroke="#4d4d4d" stroke-width="0.45"/>
<line x1="399.72" y1="356.00" x2="399.72" y2="358.00" stroke="#3a3a3a" stroke-width="0.6"/>
<line x1="398.32" y1="356.00" x2="401.12" y2="356.00" stroke="#3a3a3a" stroke-width="0.6"/>
<rect x="398.28" y="355.31" width="2.00" height="2.00" fill="#111"/>
<rect x="399.35" y="355.03" width="2.00" height="2.00" fill="#111"/>
<rect x="397.71" y="355.41" width="2.00" height="2.00" fill="#111"/>
<rect x="398.82" y="355.72" width="2.00" height="2.00" fill="#111"/>
<rect x="397.73" y="354.72" width="2.00" height="2.00" fill="#111"/>
<rect x="398.04" y="355.97" width="2.00" height="2.00" fill="#111"/>
<text x="402.67" y="364.80" font-size="7.4" fill="#2c2c2c" stroke="#2c2c2c" stroke-width="0.18" text-anchor="end" transform="rotate(-45 402.67 364.80)">IL-17</text>
<line x1="412.40" y1="358.00" x2="412.40" y2="360.20" stroke="#5a5a5a" stroke-width="0.7"/>
<rect x="407.80" y="348.30" width="4.00" height="9.70" fill="#7b7b7b" stroke="#4d4d4d" stroke-width="0.45"/>
<line x1="409.80" y1="345.39" x2="409.80" y2="351.21" stroke="#3a3a3a" stroke-width="0.6"/>
<line x1="408.40" y1="345.39" x2="411.20" y2="345.39" stroke="#3a3a3a" stroke-width="0.6"/>
<circle cx="410.73" cy="348.55" r="1.00" fill="#111"/>
<circle cx="410.44" cy="345.65" r="1.00" fill="#111"/>
<circle cx="410.70" cy="346.15" r="1.00" fill="#111"/>
<circle cx="410.08" cy="345.84" r="1.00" fill="#111"/>
<circle cx="410.23" cy="346.22" r="1.00" fill="#111"/>
<circle cx="409.17" cy="345.41" r="1.00" fill="#111"/>
<rect x="412.80" y="348.30" width="4.50" height="9.70" fill="#d9d9d9" stroke="#4d4d4d" stroke-width="0.45"/>
<line x1="415.05" y1="345.39" x2="415.05" y2="351.21" stroke="#3a3a3a" stroke-width="0.6"/>
<line x1="413.65" y1="345.39" x2="416.45" y2="345.39" stroke="#3a3a3a" stroke-width="0.6"/>
<rect x="414.42" y="345.30" width="2.00" height="2.00" fill="#111"/>
<rect x="413.17" y="343.58" width="2.00" height="2.00" fill="#111"/>
<rect x="413.35" y="348.33" width="2.00" height="2.00" fill="#111"/>
<rect x="414.96" y="351.02" width="2.00" height="2.00" fill="#111"/>
<rect x="414.39" y="348.23" width="2.00" height="2.00" fill="#111"/>
<rect x="414.68" y="344.36" width="2.00" height="2.00" fill="#111"/>
<text x="418.00" y="364.80" font-size="7.4" fill="#2c2c2c" stroke="#2c2c2c" stroke-width="0.18" text-anchor="end" transform="rotate(-45 418.00 364.80)">IL-22</text>
<line x1="427.73" y1="358.00" x2="427.73" y2="360.20" stroke="#5a5a5a" stroke-width="0.7"/>
<rect x="423.13" y="344.50" width="4.00" height="13.50" fill="#7b7b7b" stroke="#4d4d4d" stroke-width="0.45"/>
<line x1="425.13" y1="340.45" x2="425.13" y2="348.55" stroke="#3a3a3a" stroke-width="0.6"/>
<line x1="423.73" y1="340.45" x2="426.53" y2="340.45" stroke="#3a3a3a" stroke-width="0.6"/>
<circle cx="425.27" cy="348.92" r="1.00" fill="#111"/>
<circle cx="424.96" cy="344.36" r="1.00" fill="#111"/>
<circle cx="424.73" cy="347.24" r="1.00" fill="#111"/>
<circle cx="424.99" cy="321.00" r="1.00" fill="#111"/>
<rect x="428.13" y="347.90" width="4.50" height="10.10" fill="#d9d9d9" stroke="#4d4d4d" stroke-width="0.45"/>
<line x1="430.38" y1="344.87" x2="430.38" y2="350.93" stroke="#3a3a3a" stroke-width="0.6"/>
<line x1="428.98" y1="344.87" x2="431.78" y2="344.87" stroke="#3a3a3a" stroke-width="0.6"/>
<rect x="428.40" y="343.35" width="2.00" height="2.00" fill="#111"/>
<rect x="429.53" y="343.02" width="2.00" height="2.00" fill="#111"/>
<rect x="430.06" y="348.08" width="2.00" height="2.00" fill="#111"/>
<rect x="429.55" y="347.20" width="2.00" height="2.00" fill="#111"/>
<rect x="428.31" y="349.20" width="2.00" height="2.00" fill="#111"/>
<rect x="429.13" y="345.61" width="2.00" height="2.00" fill="#111"/>
<text x="433.33" y="364.80" font-size="7.4" fill="#2c2c2c" stroke="#2c2c2c" stroke-width="0.18" text-anchor="end" transform="rotate(-45 433.33 364.80)">TGF-β</text>
<line x1="443.06" y1="358.00" x2="443.06" y2="360.20" stroke="#5a5a5a" stroke-width="0.7"/>
<rect x="438.46" y="327.20" width="4.00" height="30.80" fill="#7b7b7b" stroke="#4d4d4d" stroke-width="0.45"/>
<rect x="438.46" y="310.70" width="4.00" height="10.50" fill="#7b7b7b" stroke="#4d4d4d" stroke-width="0.45"/>
<line x1="440.46" y1="307.70" x2="440.46" y2="313.70" stroke="#3a3a3a" stroke-width="0.6"/>
<line x1="439.06" y1="307.70" x2="441.86" y2="307.70" stroke="#3a3a3a" stroke-width="0.6"/>
<circle cx="441.52" cy="306.86" r="1.00" fill="#111"/>
<circle cx="440.41" cy="307.61" r="1.00" fill="#111"/>
<circle cx="440.78" cy="309.75" r="1.00" fill="#111"/>
<circle cx="439.83" cy="311.28" r="1.00" fill="#111"/>
<circle cx="439.37" cy="310.95" r="1.00" fill="#111"/>
<circle cx="440.86" cy="311.05" r="1.00" fill="#111"/>
<rect x="443.46" y="327.20" width="4.50" height="30.80" fill="#d9d9d9" stroke="#4d4d4d" stroke-width="0.45"/>
<rect x="443.46" y="311.40" width="4.50" height="9.80" fill="#d9d9d9" stroke="#4d4d4d" stroke-width="0.45"/>
<line x1="445.71" y1="308.40" x2="445.71" y2="314.40" stroke="#3a3a3a" stroke-width="0.6"/>
<line x1="444.31" y1="308.40" x2="447.11" y2="308.40" stroke="#3a3a3a" stroke-width="0.6"/>
<rect x="443.80" y="314.24" width="2.00" height="2.00" fill="#111"/>
<rect x="445.52" y="314.24" width="2.00" height="2.00" fill="#111"/>
<rect x="445.19" y="310.71" width="2.00" height="2.00" fill="#111"/>
<rect x="444.14" y="310.73" width="2.00" height="2.00" fill="#111"/>
<rect x="443.72" y="310.24" width="2.00" height="2.00" fill="#111"/>
<rect x="445.31" y="308.86" width="2.00" height="2.00" fill="#111"/>
<text x="448.66" y="364.80" font-size="7.4" fill="#2c2c2c" stroke="#2c2c2c" stroke-width="0.18" text-anchor="end" transform="rotate(-45 448.66 364.80)">TNF-α</text>
<line x1="474.90" y1="291.30" x2="474.90" y2="358.00" stroke="#5a5a5a" stroke-width="0.8"/>
<line x1="473.30" y1="291.30" x2="474.90" y2="291.30" stroke="#5a5a5a" stroke-width="0.8"/>
<text x="471.40" y="294.00" font-size="7.7" fill="#2c2c2c" stroke="#2c2c2c" stroke-width="0.18" text-anchor="end">40</text>
<line x1="473.30" y1="310.30" x2="474.90" y2="310.30" stroke="#5a5a5a" stroke-width="0.8"/>
<text x="471.40" y="313.00" font-size="7.7" fill="#2c2c2c" stroke="#2c2c2c" stroke-width="0.18" text-anchor="end">20</text>
<line x1="473.30" y1="324.20" x2="474.90" y2="324.20" stroke="#5a5a5a" stroke-width="0.8"/>
<text x="471.40" y="326.90" font-size="7.7" fill="#2c2c2c" stroke="#2c2c2c" stroke-width="0.18" text-anchor="end">5</text>
<line x1="473.30" y1="358.00" x2="474.90" y2="358.00" stroke="#5a5a5a" stroke-width="0.8"/>
<text x="471.40" y="360.70" font-size="7.7" fill="#2c2c2c" stroke="#2c2c2c" stroke-width="0.18" text-anchor="end">0</text>
<line x1="474.90" y1="358.00" x2="672.70" y2="358.00" stroke="#5a5a5a" stroke-width="0.8"/>
<line x1="482.40" y1="358.00" x2="482.40" y2="360.20" stroke="#5a5a5a" stroke-width="0.7"/>
<rect x="477.80" y="321.30" width="4.00" height="36.70" fill="#7b7b7b" stroke="#4d4d4d" stroke-width="0.45"/>
<line x1="479.80" y1="318.50" x2="479.80" y2="328.30" stroke="#3a3a3a" stroke-width="0.6"/>
<line x1="478.40" y1="318.50" x2="481.20" y2="318.50" stroke="#3a3a3a" stroke-width="0.6"/>
<circle cx="480.31" cy="318.80" r="1.00" fill="#111"/>
<circle cx="478.89" cy="312.34" r="1.00" fill="#111"/>
<circle cx="479.71" cy="315.22" r="1.00" fill="#111"/>
<circle cx="480.75" cy="314.94" r="1.00" fill="#111"/>
<circle cx="480.28" cy="320.93" r="1.00" fill="#111"/>
<circle cx="478.73" cy="330.26" r="1.00" fill="#111"/>
<rect x="482.80" y="323.00" width="4.50" height="35.00" fill="#d9d9d9" stroke="#4d4d4d" stroke-width="0.45"/>
<line x1="485.05" y1="318.00" x2="485.05" y2="330.00" stroke="#3a3a3a" stroke-width="0.6"/>
<line x1="483.65" y1="318.00" x2="486.45" y2="318.00" stroke="#3a3a3a" stroke-width="0.6"/>
<rect x="484.75" y="330.09" width="2.00" height="2.00" fill="#111"/>
<rect x="483.13" y="322.75" width="2.00" height="2.00" fill="#111"/>
<rect x="483.32" y="318.61" width="2.00" height="2.00" fill="#111"/>
<rect x="484.84" y="330.40" width="2.00" height="2.00" fill="#111"/>
<rect x="483.76" y="320.04" width="2.00" height="2.00" fill="#111"/>
<rect x="484.21" y="322.17" width="2.00" height="2.00" fill="#111"/>
<text x="488.00" y="364.80" font-size="7.4" fill="#2c2c2c" stroke="#2c2c2c" stroke-width="0.18" text-anchor="end" transform="rotate(-45 488.00 364.80)">AREG</text>
<line x1="497.64" y1="358.00" x2="497.64" y2="360.20" stroke="#5a5a5a" stroke-width="0.7"/>
<rect x="493.04" y="321.30" width="4.00" height="36.70" fill="#7b7b7b" stroke="#4d4d4d" stroke-width="0.45"/>
<line x1="495.04" y1="307.00" x2="495.04" y2="350.00" stroke="#3a3a3a" stroke-width="0.6"/>
<line x1="493.64" y1="307.00" x2="496.44" y2="307.00" stroke="#3a3a3a" stroke-width="0.6"/>
<circle cx="494.26" cy="313.50" r="1.00" fill="#111"/>
<circle cx="495.69" cy="324.46" r="1.00" fill="#111"/>
<circle cx="495.33" cy="316.04" r="1.00" fill="#111"/>
<circle cx="494.88" cy="295.00" r="1.00" fill="#111"/>
<circle cx="494.81" cy="322.00" r="1.00" fill="#111"/>
<circle cx="495.61" cy="333.00" r="1.00" fill="#111"/>
<circle cx="495.93" cy="350.00" r="1.00" fill="#111"/>
<rect x="498.04" y="340.30" width="4.50" height="17.70" fill="#d9d9d9" stroke="#4d4d4d" stroke-width="0.45"/>
<line x1="500.29" y1="320.00" x2="500.29" y2="352.00" stroke="#3a3a3a" stroke-width="0.6"/>
<line x1="498.89" y1="320.00" x2="501.69" y2="320.00" stroke="#3a3a3a" stroke-width="0.6"/>
<rect x="499.92" y="343.93" width="2.00" height="2.00" fill="#111"/>
<rect x="498.32" y="336.07" width="2.00" height="2.00" fill="#111"/>
<rect x="500.33" y="337.86" width="2.00" height="2.00" fill="#111"/>
<rect x="499.70" y="319.50" width="2.00" height="2.00" fill="#111"/>
<rect x="499.94" y="344.00" width="2.00" height="2.00" fill="#111"/>
<rect x="498.95" y="351.00" width="2.00" height="2.00" fill="#111"/>
<text x="503.24" y="364.80" font-size="7.4" fill="#2c2c2c" stroke="#2c2c2c" stroke-width="0.18" text-anchor="end" transform="rotate(-45 503.24 364.80)">IFN-γ</text>
<line x1="512.88" y1="358.00" x2="512.88" y2="360.20" stroke="#5a5a5a" stroke-width="0.7"/>
<rect x="508.28" y="355.70" width="4.00" height="2.30" fill="#7b7b7b" stroke="#4d4d4d" stroke-width="0.45"/>
<line x1="510.28" y1="354.70" x2="510.28" y2="356.70" stroke="#3a3a3a" stroke-width="0.6"/>
<line x1="508.88" y1="354.70" x2="511.68" y2="354.70" stroke="#3a3a3a" stroke-width="0.6"/>
<circle cx="511.01" cy="354.42" r="1.00" fill="#111"/>
<circle cx="510.50" cy="354.42" r="1.00" fill="#111"/>
<circle cx="511.13" cy="355.40" r="1.00" fill="#111"/>
<circle cx="510.01" cy="356.49" r="1.00" fill="#111"/>
<circle cx="511.15" cy="355.27" r="1.00" fill="#111"/>
<circle cx="510.96" cy="354.70" r="1.00" fill="#111"/>
<rect x="513.28" y="356.20" width="4.50" height="1.80" fill="#d9d9d9" stroke="#4d4d4d" stroke-width="0.45"/>
<line x1="515.53" y1="355.20" x2="515.53" y2="357.20" stroke="#3a3a3a" stroke-width="0.6"/>
<line x1="514.13" y1="355.20" x2="516.93" y2="355.20" stroke="#3a3a3a" stroke-width="0.6"/>
<rect x="514.01" y="355.19" width="2.00" height="2.00" fill="#111"/>
<rect x="514.36" y="355.25" width="2.00" height="2.00" fill="#111"/>
<rect x="515.38" y="353.94" width="2.00" height="2.00" fill="#111"/>
<rect x="513.52" y="354.44" width="2.00" height="2.00" fill="#111"/>
<rect x="515.34" y="355.93" width="2.00" height="2.00" fill="#111"/>
<rect x="514.69" y="353.93" width="2.00" height="2.00" fill="#111"/>
<text x="518.48" y="364.80" font-size="7.4" fill="#2c2c2c" stroke="#2c2c2c" stroke-width="0.18" text-anchor="end" transform="rotate(-45 518.48 364.80)">IL-1β</text>
<line x1="528.12" y1="358.00" x2="528.12" y2="360.20" stroke="#5a5a5a" stroke-width="0.7"/>
<rect x="523.52" y="324.00" width="4.00" height="34.00" fill="#7b7b7b" stroke="#4d4d4d" stroke-width="0.45"/>
<line x1="525.52" y1="318.50" x2="525.52" y2="337.00" stroke="#3a3a3a" stroke-width="0.6"/>
<line x1="524.12" y1="318.50" x2="526.92" y2="318.50" stroke="#3a3a3a" stroke-width="0.6"/>
<circle cx="526.20" cy="322.37" r="1.00" fill="#111"/>
<circle cx="525.93" cy="332.96" r="1.00" fill="#111"/>
<circle cx="524.61" cy="328.43" r="1.00" fill="#111"/>
<circle cx="525.63" cy="318.00" r="1.00" fill="#111"/>
<circle cx="526.11" cy="330.00" r="1.00" fill="#111"/>
<circle cx="524.92" cy="337.00" r="1.00" fill="#111"/>
<rect x="528.52" y="337.70" width="4.50" height="20.30" fill="#d9d9d9" stroke="#4d4d4d" stroke-width="0.45"/>
<line x1="530.77" y1="331.61" x2="530.77" y2="345.00" stroke="#3a3a3a" stroke-width="0.6"/>
<line x1="529.37" y1="331.61" x2="532.17" y2="331.61" stroke="#3a3a3a" stroke-width="0.6"/>
<rect x="530.32" y="334.38" width="2.00" height="2.00" fill="#111"/>
<rect x="530.01" y="339.94" width="2.00" height="2.00" fill="#111"/>
<rect x="530.16" y="335.22" width="2.00" height="2.00" fill="#111"/>
<rect x="529.70" y="320.00" width="2.00" height="2.00" fill="#111"/>
<rect x="529.18" y="344.00" width="2.00" height="2.00" fill="#111"/>
<text x="533.72" y="364.80" font-size="7.4" fill="#2c2c2c" stroke="#2c2c2c" stroke-width="0.18" text-anchor="end" transform="rotate(-45 533.72 364.80)">IL-2</text>
<line x1="543.36" y1="358.00" x2="543.36" y2="360.20" stroke="#5a5a5a" stroke-width="0.7"/>
<rect x="538.76" y="352.90" width="4.00" height="5.10" fill="#7b7b7b" stroke="#4d4d4d" stroke-width="0.45"/>
<line x1="540.76" y1="351.37" x2="540.76" y2="354.43" stroke="#3a3a3a" stroke-width="0.6"/>
<line x1="539.36" y1="351.37" x2="542.16" y2="351.37" stroke="#3a3a3a" stroke-width="0.6"/>
<circle cx="541.40" cy="352.84" r="1.00" fill="#111"/>
<circle cx="540.67" cy="354.86" r="1.00" fill="#111"/>
<circle cx="541.36" cy="354.79" r="1.00" fill="#111"/>
<circle cx="540.17" cy="354.06" r="1.00" fill="#111"/>
<circle cx="541.61" cy="350.94" r="1.00" fill="#111"/>
<circle cx="540.81" cy="351.65" r="1.00" fill="#111"/>
<rect x="543.76" y="356.20" width="4.50" height="1.80" fill="#d9d9d9" stroke="#4d4d4d" stroke-width="0.45"/>
<line x1="546.01" y1="355.20" x2="546.01" y2="357.20" stroke="#3a3a3a" stroke-width="0.6"/>
<line x1="544.61" y1="355.20" x2="547.41" y2="355.20" stroke="#3a3a3a" stroke-width="0.6"/>
<rect x="544.33" y="354.14" width="2.00" height="2.00" fill="#111"/>
<rect x="544.33" y="355.36" width="2.00" height="2.00" fill="#111"/>
<rect x="544.71" y="355.72" width="2.00" height="2.00" fill="#111"/>
<rect x="545.15" y="356.10" width="2.00" height="2.00" fill="#111"/>
<rect x="544.24" y="354.41" width="2.00" height="2.00" fill="#111"/>
<rect x="544.01" y="355.76" width="2.00" height="2.00" fill="#111"/>
<text x="548.96" y="364.80" font-size="7.4" fill="#2c2c2c" stroke="#2c2c2c" stroke-width="0.18" text-anchor="end" transform="rotate(-45 548.96 364.80)">IL-3</text>
<line x1="558.60" y1="358.00" x2="558.60" y2="360.20" stroke="#5a5a5a" stroke-width="0.7"/>
<rect x="554.00" y="347.20" width="4.00" height="10.80" fill="#7b7b7b" stroke="#4d4d4d" stroke-width="0.45"/>
<line x1="556.00" y1="343.96" x2="556.00" y2="350.44" stroke="#3a3a3a" stroke-width="0.6"/>
<line x1="554.60" y1="343.96" x2="557.40" y2="343.96" stroke="#3a3a3a" stroke-width="0.6"/>
<circle cx="555.13" cy="349.71" r="1.00" fill="#111"/>
<circle cx="556.29" cy="347.15" r="1.00" fill="#111"/>
<circle cx="556.21" cy="347.55" r="1.00" fill="#111"/>
<circle cx="555.66" cy="345.73" r="1.00" fill="#111"/>
<circle cx="554.97" cy="346.68" r="1.00" fill="#111"/>
<circle cx="557.08" cy="347.14" r="1.00" fill="#111"/>
<rect x="559.00" y="352.50" width="4.50" height="5.50" fill="#d9d9d9" stroke="#4d4d4d" stroke-width="0.45"/>
<line x1="561.25" y1="350.85" x2="561.25" y2="354.15" stroke="#3a3a3a" stroke-width="0.6"/>
<line x1="559.85" y1="350.85" x2="562.65" y2="350.85" stroke="#3a3a3a" stroke-width="0.6"/>
<rect x="560.40" y="352.52" width="2.00" height="2.00" fill="#111"/>
<rect x="559.73" y="350.36" width="2.00" height="2.00" fill="#111"/>
<rect x="561.23" y="351.75" width="2.00" height="2.00" fill="#111"/>
<rect x="560.84" y="350.13" width="2.00" height="2.00" fill="#111"/>
<rect x="559.71" y="352.92" width="2.00" height="2.00" fill="#111"/>
<rect x="559.23" y="349.39" width="2.00" height="2.00" fill="#111"/>
<text x="564.20" y="364.80" font-size="7.4" fill="#2c2c2c" stroke="#2c2c2c" stroke-width="0.18" text-anchor="end" transform="rotate(-45 564.20 364.80)">IL-4</text>
<line x1="573.84" y1="358.00" x2="573.84" y2="360.20" stroke="#5a5a5a" stroke-width="0.7"/>
<rect x="569.24" y="323.60" width="4.00" height="34.40" fill="#7b7b7b" stroke="#4d4d4d" stroke-width="0.45"/>
<line x1="571.24" y1="316.60" x2="571.24" y2="348.00" stroke="#3a3a3a" stroke-width="0.6"/>
<line x1="569.84" y1="316.60" x2="572.64" y2="316.60" stroke="#3a3a3a" stroke-width="0.6"/>
<circle cx="570.32" cy="324.67" r="1.00" fill="#111"/>
<circle cx="570.25" cy="326.97" r="1.00" fill="#111"/>
<circle cx="571.15" cy="314.64" r="1.00" fill="#111"/>
<circle cx="572.13" cy="316.50" r="1.00" fill="#111"/>
<circle cx="572.06" cy="335.00" r="1.00" fill="#111"/>
<circle cx="570.37" cy="348.00" r="1.00" fill="#111"/>
<rect x="574.24" y="333.10" width="4.50" height="24.90" fill="#d9d9d9" stroke="#4d4d4d" stroke-width="0.45"/>
<line x1="576.49" y1="315.50" x2="576.49" y2="353.00" stroke="#3a3a3a" stroke-width="0.6"/>
<line x1="575.09" y1="315.50" x2="577.89" y2="315.50" stroke="#3a3a3a" stroke-width="0.6"/>
<rect x="575.71" y="328.10" width="2.00" height="2.00" fill="#111"/>
<rect x="576.50" y="329.84" width="2.00" height="2.00" fill="#111"/>
<rect x="574.96" y="333.80" width="2.00" height="2.00" fill="#111"/>
<rect x="575.62" y="315.00" width="2.00" height="2.00" fill="#111"/>
<rect x="575.77" y="332.00" width="2.00" height="2.00" fill="#111"/>
<rect x="576.40" y="352.00" width="2.00" height="2.00" fill="#111"/>
<text x="579.44" y="364.80" font-size="7.4" fill="#2c2c2c" stroke="#2c2c2c" stroke-width="0.18" text-anchor="end" transform="rotate(-45 579.44 364.80)">IL-6</text>
<line x1="589.08" y1="358.00" x2="589.08" y2="360.20" stroke="#5a5a5a" stroke-width="0.7"/>
<rect x="584.48" y="312.80" width="4.00" height="45.20" fill="#7b7b7b" stroke="#4d4d4d" stroke-width="0.45"/>
<line x1="586.48" y1="305.80" x2="586.48" y2="319.80" stroke="#3a3a3a" stroke-width="0.6"/>
<line x1="585.08" y1="305.80" x2="587.88" y2="305.80" stroke="#3a3a3a" stroke-width="0.6"/>
<circle cx="586.37" cy="310.10" r="1.00" fill="#111"/>
<circle cx="585.73" cy="307.90" r="1.00" fill="#111"/>
<circle cx="585.87" cy="321.76" r="1.00" fill="#111"/>
<circle cx="585.46" cy="309.10" r="1.00" fill="#111"/>
<circle cx="587.37" cy="312.61" r="1.00" fill="#111"/>
<circle cx="587.37" cy="318.01" r="1.00" fill="#111"/>
<rect x="589.48" y="311.40" width="4.50" height="46.60" fill="#d9d9d9" stroke="#4d4d4d" stroke-width="0.45"/>
<line x1="591.73" y1="304.40" x2="591.73" y2="318.40" stroke="#3a3a3a" stroke-width="0.6"/>
<line x1="590.33" y1="304.40" x2="593.13" y2="304.40" stroke="#3a3a3a" stroke-width="0.6"/>
<rect x="591.36" y="311.31" width="2.00" height="2.00" fill="#111"/>
<rect x="591.19" y="308.92" width="2.00" height="2.00" fill="#111"/>
<rect x="589.75" y="301.44" width="2.00" height="2.00" fill="#111"/>
<rect x="589.95" y="301.44" width="2.00" height="2.00" fill="#111"/>
<rect x="591.12" y="310.81" width="2.00" height="2.00" fill="#111"/>
<rect x="590.29" y="301.44" width="2.00" height="2.00" fill="#111"/>
<text x="594.68" y="364.80" font-size="7.4" fill="#2c2c2c" stroke="#2c2c2c" stroke-width="0.18" text-anchor="end" transform="rotate(-45 594.68 364.80)">IL-10</text>
<line x1="604.32" y1="358.00" x2="604.32" y2="360.20" stroke="#5a5a5a" stroke-width="0.7"/>
<rect x="599.72" y="342.00" width="4.00" height="16.00" fill="#7b7b7b" stroke="#4d4d4d" stroke-width="0.45"/>
<line x1="601.72" y1="321.00" x2="601.72" y2="350.00" stroke="#3a3a3a" stroke-width="0.6"/>
<line x1="600.32" y1="321.00" x2="603.12" y2="321.00" stroke="#3a3a3a" stroke-width="0.6"/>
<circle cx="600.85" cy="336.57" r="1.00" fill="#111"/>
<circle cx="601.33" cy="338.48" r="1.00" fill="#111"/>
<circle cx="601.68" cy="341.91" r="1.00" fill="#111"/>
<circle cx="601.06" cy="321.00" r="1.00" fill="#111"/>
<circle cx="601.20" cy="350.00" r="1.00" fill="#111"/>
<rect x="604.72" y="353.60" width="4.50" height="4.40" fill="#d9d9d9" stroke="#4d4d4d" stroke-width="0.45"/>
<line x1="606.97" y1="352.28" x2="606.97" y2="354.92" stroke="#3a3a3a" stroke-width="0.6"/>
<line x1="605.57" y1="352.28" x2="608.37" y2="352.28" stroke="#3a3a3a" stroke-width="0.6"/>
<rect x="605.18" y="353.14" width="2.00" height="2.00" fill="#111"/>
<rect x="606.45" y="352.53" width="2.00" height="2.00" fill="#111"/>
<rect x="605.30" y="352.45" width="2.00" height="2.00" fill="#111"/>
<rect x="605.36" y="354.29" width="2.00" height="2.00" fill="#111"/>
<rect x="606.92" y="353.14" width="2.00" height="2.00" fill="#111"/>
<rect x="605.18" y="354.08" width="2.00" height="2.00" fill="#111"/>
<text x="609.92" y="364.80" font-size="7.4" fill="#2c2c2c" stroke="#2c2c2c" stroke-width="0.18" text-anchor="end" transform="rotate(-45 609.92 364.80)">IL-13</text>
<line x1="619.56" y1="358.00" x2="619.56" y2="360.20" stroke="#5a5a5a" stroke-width="0.7"/>
<rect x="614.96" y="357.60" width="4.00" height="0.40" fill="#7b7b7b" stroke="#4d4d4d" stroke-width="0.45"/>
<line x1="616.96" y1="356.60" x2="616.96" y2="358.00" stroke="#3a3a3a" stroke-width="0.6"/>
<line x1="615.56" y1="356.60" x2="618.36" y2="356.60" stroke="#3a3a3a" stroke-width="0.6"/>
<circle cx="616.84" cy="356.35" r="1.00" fill="#111"/>
<circle cx="617.71" cy="357.10" r="1.00" fill="#111"/>
<circle cx="617.24" cy="357.10" r="1.00" fill="#111"/>
<circle cx="617.67" cy="356.90" r="1.00" fill="#111"/>
<circle cx="616.91" cy="357.10" r="1.00" fill="#111"/>
<circle cx="616.35" cy="357.10" r="1.00" fill="#111"/>
<rect x="619.96" y="356.20" width="4.50" height="1.80" fill="#d9d9d9" stroke="#4d4d4d" stroke-width="0.45"/>
<line x1="622.21" y1="355.20" x2="622.21" y2="357.20" stroke="#3a3a3a" stroke-width="0.6"/>
<line x1="620.81" y1="355.20" x2="623.61" y2="355.20" stroke="#3a3a3a" stroke-width="0.6"/>
<rect x="620.23" y="354.88" width="2.00" height="2.00" fill="#111"/>
<rect x="620.43" y="354.97" width="2.00" height="2.00" fill="#111"/>
<rect x="622.03" y="354.21" width="2.00" height="2.00" fill="#111"/>
<rect x="620.45" y="355.12" width="2.00" height="2.00" fill="#111"/>
<rect x="620.71" y="356.02" width="2.00" height="2.00" fill="#111"/>
<rect x="620.48" y="355.59" width="2.00" height="2.00" fill="#111"/>
<text x="625.16" y="364.80" font-size="7.4" fill="#2c2c2c" stroke="#2c2c2c" stroke-width="0.18" text-anchor="end" transform="rotate(-45 625.16 364.80)">IL-17</text>
<line x1="634.80" y1="358.00" x2="634.80" y2="360.20" stroke="#5a5a5a" stroke-width="0.7"/>
<rect x="630.20" y="355.70" width="4.00" height="2.30" fill="#7b7b7b" stroke="#4d4d4d" stroke-width="0.45"/>
<line x1="632.20" y1="354.70" x2="632.20" y2="356.70" stroke="#3a3a3a" stroke-width="0.6"/>
<line x1="630.80" y1="354.70" x2="633.60" y2="354.70" stroke="#3a3a3a" stroke-width="0.6"/>
<circle cx="632.18" cy="355.09" r="1.00" fill="#111"/>
<circle cx="631.35" cy="354.98" r="1.00" fill="#111"/>
<circle cx="633.25" cy="356.98" r="1.00" fill="#111"/>
<circle cx="632.57" cy="356.98" r="1.00" fill="#111"/>
<circle cx="631.56" cy="356.29" r="1.00" fill="#111"/>
<circle cx="631.67" cy="355.05" r="1.00" fill="#111"/>
<rect x="635.20" y="356.20" width="4.50" height="1.80" fill="#d9d9d9" stroke="#4d4d4d" stroke-width="0.45"/>
<line x1="637.45" y1="355.20" x2="637.45" y2="357.20" stroke="#3a3a3a" stroke-width="0.6"/>
<line x1="636.05" y1="355.20" x2="638.85" y2="355.20" stroke="#3a3a3a" stroke-width="0.6"/>
<rect x="635.79" y="355.29" width="2.00" height="2.00" fill="#111"/>
<rect x="637.55" y="353.92" width="2.00" height="2.00" fill="#111"/>
<rect x="637.39" y="356.10" width="2.00" height="2.00" fill="#111"/>
<rect x="637.32" y="355.74" width="2.00" height="2.00" fill="#111"/>
<rect x="635.48" y="355.58" width="2.00" height="2.00" fill="#111"/>
<rect x="637.50" y="355.10" width="2.00" height="2.00" fill="#111"/>
<text x="640.40" y="364.80" font-size="7.4" fill="#2c2c2c" stroke="#2c2c2c" stroke-width="0.18" text-anchor="end" transform="rotate(-45 640.40 364.80)">IL-22</text>
<line x1="650.04" y1="358.00" x2="650.04" y2="360.20" stroke="#5a5a5a" stroke-width="0.7"/>
<rect x="645.44" y="308.20" width="4.00" height="49.80" fill="#7b7b7b" stroke="#4d4d4d" stroke-width="0.45"/>
<line x1="647.44" y1="301.20" x2="647.44" y2="315.20" stroke="#3a3a3a" stroke-width="0.6"/>
<line x1="646.04" y1="301.20" x2="648.84" y2="301.20" stroke="#3a3a3a" stroke-width="0.6"/>
<circle cx="646.38" cy="303.58" r="1.00" fill="#111"/>
<circle cx="646.65" cy="309.99" r="1.00" fill="#111"/>
<circle cx="646.34" cy="303.41" r="1.00" fill="#111"/>
<circle cx="646.75" cy="311.58" r="1.00" fill="#111"/>
<circle cx="647.30" cy="302.25" r="1.00" fill="#111"/>
<circle cx="647.60" cy="311.54" r="1.00" fill="#111"/>
<rect x="650.44" y="305.00" width="4.50" height="53.00" fill="#d9d9d9" stroke="#4d4d4d" stroke-width="0.45"/>
<line x1="652.69" y1="298.00" x2="652.69" y2="312.00" stroke="#3a3a3a" stroke-width="0.6"/>
<line x1="651.29" y1="298.00" x2="654.09" y2="298.00" stroke="#3a3a3a" stroke-width="0.6"/>
<rect x="650.89" y="301.94" width="2.00" height="2.00" fill="#111"/>
<rect x="652.16" y="308.08" width="2.00" height="2.00" fill="#111"/>
<rect x="651.02" y="312.70" width="2.00" height="2.00" fill="#111"/>
<rect x="651.93" y="306.10" width="2.00" height="2.00" fill="#111"/>
<rect x="651.68" y="305.14" width="2.00" height="2.00" fill="#111"/>
<rect x="651.94" y="303.43" width="2.00" height="2.00" fill="#111"/>
<text x="655.64" y="364.80" font-size="7.4" fill="#2c2c2c" stroke="#2c2c2c" stroke-width="0.18" text-anchor="end" transform="rotate(-45 655.64 364.80)">TGF-β</text>
<line x1="665.28" y1="358.00" x2="665.28" y2="360.20" stroke="#5a5a5a" stroke-width="0.7"/>
<rect x="660.68" y="304.40" width="4.00" height="53.60" fill="#7b7b7b" stroke="#4d4d4d" stroke-width="0.45"/>
<line x1="662.68" y1="293.00" x2="662.68" y2="340.00" stroke="#3a3a3a" stroke-width="0.6"/>
<line x1="661.28" y1="293.00" x2="664.08" y2="293.00" stroke="#3a3a3a" stroke-width="0.6"/>
<circle cx="663.14" cy="308.16" r="1.00" fill="#111"/>
<circle cx="662.03" cy="307.19" r="1.00" fill="#111"/>
<circle cx="661.72" cy="297.54" r="1.00" fill="#111"/>
<circle cx="663.15" cy="291.50" r="1.00" fill="#111"/>
<circle cx="662.50" cy="330.00" r="1.00" fill="#111"/>
<circle cx="663.12" cy="340.00" r="1.00" fill="#111"/>
<rect x="665.68" y="312.00" width="4.50" height="46.00" fill="#d9d9d9" stroke="#4d4d4d" stroke-width="0.45"/>
<line x1="667.93" y1="305.00" x2="667.93" y2="319.00" stroke="#3a3a3a" stroke-width="0.6"/>
<line x1="666.53" y1="305.00" x2="669.33" y2="305.00" stroke="#3a3a3a" stroke-width="0.6"/>
<rect x="666.57" y="319.96" width="2.00" height="2.00" fill="#111"/>
<rect x="667.68" y="314.48" width="2.00" height="2.00" fill="#111"/>
<rect x="665.86" y="315.30" width="2.00" height="2.00" fill="#111"/>
<rect x="667.83" y="306.09" width="2.00" height="2.00" fill="#111"/>
<rect x="666.42" y="302.04" width="2.00" height="2.00" fill="#111"/>
<rect x="666.24" y="312.66" width="2.00" height="2.00" fill="#111"/>
<text x="670.88" y="364.80" font-size="7.4" fill="#2c2c2c" stroke="#2c2c2c" stroke-width="0.18" text-anchor="end" transform="rotate(-45 670.88 364.80)">TNF-α</text>
<text x="70.20" y="293.10" font-size="9.1" fill="#333" stroke="#333" stroke-width="0.18" textLength="99.30" lengthAdjust="spacingAndGlyphs">Cytokine production- CD8</text>
<text x="301.90" y="293.10" font-size="9.1" fill="#333" stroke="#333" stroke-width="0.18" textLength="81.00" lengthAdjust="spacingAndGlyphs">Cytokine production-</text>
<text x="385.20" y="293.10" font-size="9.1" fill="#333" stroke="#333" stroke-width="0.18">T</text>
<text x="390.20" y="295.30" font-size="6.4" fill="#333" stroke="#333" stroke-width="0.18" textLength="13.60" lengthAdjust="spacingAndGlyphs">conv</text>
<text x="524.60" y="293.10" font-size="9.1" fill="#333" stroke="#333" stroke-width="0.18" textLength="80.80" lengthAdjust="spacingAndGlyphs">Cytokine production-</text>
<text x="608.20" y="293.10" font-size="9.1" fill="#333" stroke="#333" stroke-width="0.18">T</text>
<text x="612.80" y="295.30" font-size="6.4" fill="#333" stroke="#333" stroke-width="0.18" textLength="9.40" lengthAdjust="spacingAndGlyphs">reg</text>
<text x="7.50" y="348.60" font-size="8.3" fill="#2c2c2c" stroke="#2c2c2c" stroke-width="0.18" textLength="40.6" lengthAdjust="spacingAndGlyphs" transform="rotate(-90 7.50 348.60)">% of  CD8<tspan font-size="5.6" dy="-3">+</tspan></text>
<text x="235.50" y="361.40" font-size="8.3" fill="#2c2c2c" stroke="#2c2c2c" stroke-width="0.18" textLength="72.2" lengthAdjust="spacingAndGlyphs" transform="rotate(-90 235.50 361.40)">% of  CD4<tspan font-size="5.6" dy="-3">+</tspan><tspan dy="3"> Foxp3</tspan><tspan font-size="5.6" dy="-3">neg</tspan></text>
<text x="462.30" y="355.70" font-size="8.3" fill="#2c2c2c" stroke="#2c2c2c" stroke-width="0.18" textLength="67.0" lengthAdjust="spacingAndGlyphs" transform="rotate(-90 462.30 355.70)">% of  CD4<tspan font-size="5.6" dy="-3">+</tspan><tspan dy="3"> Foxp3</tspan><tspan font-size="5.6" dy="-3">+</tspan></text>
</svg>
</body></html>
